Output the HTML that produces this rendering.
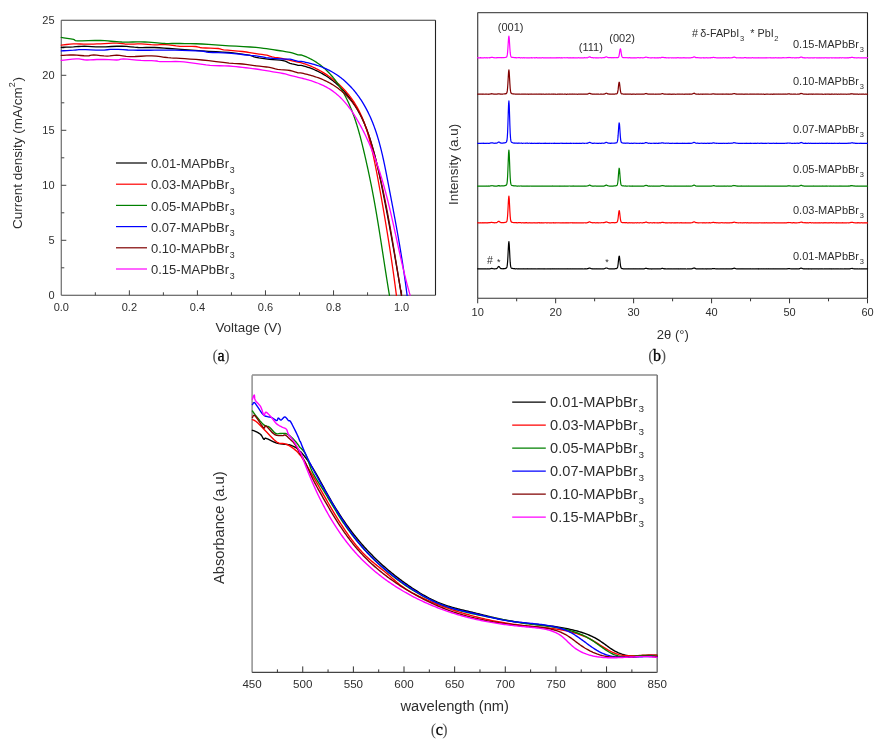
<!DOCTYPE html>
<html><head><meta charset="utf-8"><style>
html,body{margin:0;padding:0;background:#fff;width:889px;height:748px;overflow:hidden}
svg{display:block;will-change:transform}
</style></head><body>
<svg width="889" height="748" viewBox="0 0 889 748">
<rect width="889" height="748" fill="#fff"/>
<line x1="61.3" y1="20.2" x2="61.3" y2="295.3" stroke="#777" stroke-width="1.3"/>
<line x1="61.3" y1="295.3" x2="435.5" y2="295.3" stroke="#444" stroke-width="1.1"/>
<line x1="61.3" y1="20.2" x2="435.5" y2="20.2" stroke="#3a3a3a" stroke-width="1.1"/>
<line x1="435.5" y1="20.2" x2="435.5" y2="295.3" stroke="#222" stroke-width="1.1"/>
<text x="61.3" y="310.7" font-size="11" text-anchor="middle" fill="#2e2e2e" font-family="Liberation Sans, sans-serif" >0.0</text>
<line x1="95.33" y1="295.3" x2="95.33" y2="292.3" stroke="#444" stroke-width="1"/>
<line x1="129.36" y1="295.3" x2="129.36" y2="290.3" stroke="#444" stroke-width="1"/>
<text x="129.36" y="310.7" font-size="11" text-anchor="middle" fill="#2e2e2e" font-family="Liberation Sans, sans-serif" >0.2</text>
<line x1="163.39" y1="295.3" x2="163.39" y2="292.3" stroke="#444" stroke-width="1"/>
<line x1="197.42" y1="295.3" x2="197.42" y2="290.3" stroke="#444" stroke-width="1"/>
<text x="197.42" y="310.7" font-size="11" text-anchor="middle" fill="#2e2e2e" font-family="Liberation Sans, sans-serif" >0.4</text>
<line x1="231.45" y1="295.3" x2="231.45" y2="292.3" stroke="#444" stroke-width="1"/>
<line x1="265.48" y1="295.3" x2="265.48" y2="290.3" stroke="#444" stroke-width="1"/>
<text x="265.48" y="310.7" font-size="11" text-anchor="middle" fill="#2e2e2e" font-family="Liberation Sans, sans-serif" >0.6</text>
<line x1="299.51" y1="295.3" x2="299.51" y2="292.3" stroke="#444" stroke-width="1"/>
<line x1="333.54" y1="295.3" x2="333.54" y2="290.3" stroke="#444" stroke-width="1"/>
<text x="333.54" y="310.7" font-size="11" text-anchor="middle" fill="#2e2e2e" font-family="Liberation Sans, sans-serif" >0.8</text>
<line x1="367.57" y1="295.3" x2="367.57" y2="292.3" stroke="#444" stroke-width="1"/>
<line x1="401.6" y1="295.3" x2="401.6" y2="290.3" stroke="#444" stroke-width="1"/>
<text x="401.6" y="310.7" font-size="11" text-anchor="middle" fill="#2e2e2e" font-family="Liberation Sans, sans-serif" >1.0</text>
<text x="54.6" y="299.3" font-size="11" text-anchor="end" fill="#2e2e2e" font-family="Liberation Sans, sans-serif" >0</text>
<line x1="61.3" y1="267.8" x2="64.3" y2="267.8" stroke="#444" stroke-width="1"/>
<line x1="61.3" y1="240.3" x2="66.3" y2="240.3" stroke="#444" stroke-width="1"/>
<text x="54.6" y="244.3" font-size="11" text-anchor="end" fill="#2e2e2e" font-family="Liberation Sans, sans-serif" >5</text>
<line x1="61.3" y1="212.8" x2="64.3" y2="212.8" stroke="#444" stroke-width="1"/>
<line x1="61.3" y1="185.3" x2="66.3" y2="185.3" stroke="#444" stroke-width="1"/>
<text x="54.6" y="189.3" font-size="11" text-anchor="end" fill="#2e2e2e" font-family="Liberation Sans, sans-serif" >10</text>
<line x1="61.3" y1="157.8" x2="64.3" y2="157.8" stroke="#444" stroke-width="1"/>
<line x1="61.3" y1="130.3" x2="66.3" y2="130.3" stroke="#444" stroke-width="1"/>
<text x="54.6" y="134.3" font-size="11" text-anchor="end" fill="#2e2e2e" font-family="Liberation Sans, sans-serif" >15</text>
<line x1="61.3" y1="102.8" x2="64.3" y2="102.8" stroke="#444" stroke-width="1"/>
<line x1="61.3" y1="75.3" x2="66.3" y2="75.3" stroke="#444" stroke-width="1"/>
<text x="54.6" y="79.3" font-size="11" text-anchor="end" fill="#2e2e2e" font-family="Liberation Sans, sans-serif" >20</text>
<line x1="61.3" y1="47.8" x2="64.3" y2="47.8" stroke="#444" stroke-width="1"/>
<text x="54.6" y="24.3" font-size="11" text-anchor="end" fill="#2e2e2e" font-family="Liberation Sans, sans-serif" >25</text>
<text x="248.5" y="331.7" font-size="13.4" text-anchor="middle" fill="#2e2e2e" font-family="Liberation Sans, sans-serif" >Voltage (V)</text>
<text transform="translate(21.9,153) rotate(-90)" font-size="13.5" text-anchor="middle" fill="#2e2e2e" font-family="Liberation Sans, sans-serif">Current density (mA/cm<tspan font-size="9" dy="-6.5">2</tspan><tspan dy="6.5" dx="0.8">)</tspan></text>
<text x="220.9" y="360.9" font-size="16" text-anchor="middle" fill="#555" font-family="Liberation Serif, serif" letter-spacing="-0.4">(<tspan fill="#000" stroke="#000" stroke-width="0.35">a</tspan>)</text>
<path d="M61.3 47.3 L63.52 47.24 L66.72 47.14 L70.26 47.03 L73.5 46.9 L76.17 46.71 L78.65 46.48 L81.25 46.28 L84.3 46.2 L87.84 46.31 L91.72 46.55 L95.94 46.79 L100.5 46.9 L105.65 46.78 L111.3 46.51 L116.95 46.27 L122.1 46.2 L126.53 46.41 L130.54 46.81 L134.38 47.22 L138.3 47.5 L142.25 47.56 L146.13 47.49 L150.15 47.43 L154.5 47.5 L159.17 47.74 L164.07 48.08 L169.32 48.48 L175 48.9 L181.29 49.37 L188.09 49.89 L195.1 50.41 L202 50.9 L208.91 51.3 L215.92 51.66 L222.73 52.03 L229 52.5 L234.84 53.11 L240.36 53.82 L245.25 54.54 L249.2 55.2 L251.69 55.77 L253.02 56.29 L254.14 56.8 L256 57.3 L258.9 57.82 L262.33 58.35 L265.97 58.85 L269.5 59.3 L273.03 59.64 L276.66 59.91 L280.08 60.19 L283 60.6 L285.18 61.19 L286.84 61.91 L288.33 62.64 L290 63.3 L292.12 63.9 L294.44 64.47 L296.54 64.96 L298 65.3 L301.04 65.38 L302.44 65.71 L303.82 66.07 L305.19 66.45 L306.55 66.86 L307.89 67.29 L309.23 67.74 L310.55 68.21 L311.86 68.71 L313.16 69.22 L314.44 69.76 L315.71 70.33 L316.97 70.91 L318.22 71.51 L319.46 72.13 L320.68 72.78 L321.89 73.44 L323.08 74.12 L324.27 74.82 L325.44 75.54 L326.6 76.28 L327.74 77.04 L328.88 77.82 L330 78.61 L331.1 79.42 L332.2 80.25 L333.28 81.1 L334.34 81.96 L335.4 82.84 L336.43 83.73 L337.46 84.64 L338.47 85.57 L339.47 86.51 L340.46 87.47 L341.43 88.44 L342.39 89.42 L343.33 90.42 L344.26 91.43 L345.18 92.46 L346.08 93.49 L346.97 94.54 L347.84 95.61 L348.7 96.68 L349.55 97.77 L350.38 98.87 L351.19 99.98 L352 101.1 L352.78 102.23 L353.56 103.38 L354.32 104.53 L355.06 105.69 L355.79 106.86 L356.5 108.04 L357.2 109.23 L357.89 110.43 L358.56 111.64 L359.22 112.85 L359.86 114.07 L360.49 115.31 L361.11 116.54 L361.72 117.79 L362.31 119.04 L362.89 120.3 L363.46 121.57 L364.02 122.84 L364.56 124.12 L365.1 125.4 L365.62 126.69 L366.14 127.98 L366.64 129.28 L367.13 130.59 L367.62 131.9 L368.09 133.21 L368.56 134.53 L369.01 135.85 L369.46 137.18 L369.9 138.51 L370.33 139.84 L370.75 141.17 L371.17 142.51 L371.57 143.85 L371.97 145.19 L372.37 146.54 L372.76 147.88 L373.14 149.23 L373.51 150.58 L373.88 151.93 L374.24 153.28 L374.6 154.64 L374.95 155.99 L375.3 157.35 L375.64 158.7 L375.98 160.06 L376.31 161.42 L376.64 162.78 L376.96 164.14 L377.28 165.5 L377.59 166.86 L377.91 168.22 L378.21 169.59 L378.52 170.95 L378.82 172.31 L379.12 173.68 L379.41 175.04 L379.7 176.41 L379.99 177.77 L380.28 179.14 L380.57 180.5 L380.85 181.87 L381.13 183.23 L381.41 184.6 L381.69 185.96 L381.97 187.33 L382.24 188.69 L382.52 190.06 L382.79 191.42 L383.07 192.78 L383.34 194.15 L383.61 195.51 L383.88 196.87 L384.15 198.23 L384.42 199.6 L384.68 200.96 L384.95 202.32 L385.22 203.68 L385.48 205.04 L385.75 206.4 L386.01 207.77 L386.27 209.13 L386.53 210.49 L386.79 211.85 L387.05 213.21 L387.31 214.57 L387.57 215.93 L387.82 217.29 L388.08 218.65 L388.33 220.02 L388.59 221.38 L388.84 222.74 L389.1 224.1 L389.35 225.46 L389.6 226.82 L389.85 228.18 L390.1 229.54 L390.35 230.91 L390.6 232.27 L390.84 233.63 L391.09 234.99 L391.34 236.35 L391.58 237.72 L391.83 239.08 L392.07 240.44 L392.32 241.8 L392.56 243.17 L392.8 244.53 L393.04 245.9 L393.28 247.26 L393.52 248.63 L393.76 249.99 L394 251.36 L394.24 252.72 L394.48 254.09 L394.72 255.45 L394.96 256.82 L395.19 258.19 L395.43 259.56 L395.66 260.92 L395.9 262.29 L396.13 263.66 L396.37 265.03 L396.6 266.4 L396.84 267.77 L397.07 269.14 L397.3 270.51 L397.53 271.89 L397.76 273.26 L398 274.63 L398.23 276.01 L398.46 277.38 L398.69 278.76 L398.92 280.13 L399.15 281.51 L399.38 282.89 L399.6 284.27 L399.83 285.65 L400.06 287.02 L400.29 288.4 L400.52 289.79 L400.74 291.17 L400.97 292.55 L401.2 293.93 L401.42 295.32" fill="none" stroke="#000000" stroke-width="1.3" stroke-linejoin="round" stroke-linecap="round" />
<path d="M61.3 45.1 L63.46 44.85 L66.56 44.48 L70.07 44.12 L73.5 43.9 L76.78 43.89 L80.17 44 L83.59 44.14 L87 44.2 L90.31 44.16 L93.58 44.06 L96.94 43.94 L100.5 43.8 L104.49 43.6 L108.77 43.36 L112.97 43.16 L116.7 43.1 L119.72 43.28 L122.27 43.62 L124.74 43.98 L127.5 44.2 L130.69 44.2 L134.08 44.06 L137.56 43.92 L141 43.9 L144.44 44.07 L147.92 44.34 L151.31 44.62 L154.5 44.8 L157.3 44.78 L159.82 44.65 L162.39 44.54 L165.3 44.6 L168.69 44.93 L172.38 45.43 L176.2 45.94 L180 46.3 L183.96 46.43 L188.09 46.42 L191.98 46.41 L195.2 46.5 L197.27 46.76 L198.54 47.12 L199.84 47.49 L202 47.8 L205.64 48 L210.19 48.15 L214.69 48.3 L218.2 48.5 L219.99 48.77 L220.73 49.09 L221.55 49.43 L223.6 49.8 L227.5 50.19 L232.54 50.6 L237.84 51.04 L242.5 51.5 L246.32 52.01 L249.76 52.56 L252.94 53.1 L256 53.6 L259.02 54.03 L261.91 54.43 L264.54 54.8 L266.8 55.2 L268.4 55.62 L269.5 56.04 L270.6 56.47 L272.2 56.9 L274.61 57.32 L277.5 57.74 L280.44 58.17 L283 58.6 L284.99 59.05 L286.68 59.5 L288.27 59.95 L290 60.4 L292.12 60.87 L294.44 61.36 L296.54 61.8 L298 62.1 L300.88 62.72 L302.21 63.11 L303.54 63.53 L304.86 63.96 L306.18 64.42 L307.49 64.9 L308.79 65.4 L310.09 65.91 L311.38 66.45 L312.66 67.01 L313.93 67.59 L315.19 68.18 L316.45 68.8 L317.7 69.43 L318.93 70.08 L320.16 70.76 L321.38 71.44 L322.59 72.15 L323.79 72.88 L324.98 73.62 L326.16 74.38 L327.32 75.16 L328.48 75.95 L329.62 76.76 L330.75 77.58 L331.88 78.43 L332.98 79.29 L334.08 80.16 L335.16 81.05 L336.23 81.95 L337.29 82.87 L338.33 83.81 L339.36 84.76 L340.38 85.72 L341.38 86.7 L342.37 87.69 L343.34 88.69 L344.3 89.71 L345.24 90.74 L346.16 91.78 L347.07 92.84 L347.97 93.91 L348.84 94.99 L349.7 96.09 L350.55 97.19 L351.38 98.31 L352.18 99.44 L352.98 100.58 L353.75 101.73 L354.51 102.89 L355.24 104.06 L355.96 105.24 L356.66 106.43 L357.34 107.63 L358 108.84 L358.65 110.06 L359.27 111.29 L359.88 112.53 L360.47 113.78 L361.05 115.03 L361.61 116.29 L362.16 117.56 L362.69 118.84 L363.2 120.12 L363.71 121.41 L364.2 122.7 L364.67 124.01 L365.14 125.31 L365.59 126.63 L366.03 127.95 L366.46 129.27 L366.88 130.6 L367.29 131.93 L367.69 133.27 L368.08 134.61 L368.46 135.95 L368.83 137.3 L369.2 138.64 L369.56 140 L369.91 141.35 L370.25 142.71 L370.59 144.07 L370.92 145.43 L371.25 146.79 L371.57 148.15 L371.89 149.51 L372.21 150.88 L372.52 152.24 L372.82 153.61 L373.13 154.97 L373.42 156.34 L373.72 157.71 L374.01 159.07 L374.3 160.44 L374.58 161.81 L374.86 163.18 L375.14 164.55 L375.42 165.92 L375.69 167.29 L375.96 168.67 L376.23 170.04 L376.5 171.41 L376.76 172.78 L377.02 174.16 L377.28 175.53 L377.54 176.9 L377.79 178.27 L378.05 179.65 L378.3 181.02 L378.55 182.39 L378.8 183.77 L379.05 185.14 L379.3 186.51 L379.55 187.89 L379.8 189.26 L380.05 190.63 L380.29 192.01 L380.54 193.38 L380.78 194.75 L381.03 196.12 L381.27 197.5 L381.52 198.87 L381.76 200.24 L382 201.61 L382.24 202.99 L382.48 204.36 L382.72 205.73 L382.96 207.1 L383.2 208.47 L383.44 209.85 L383.67 211.22 L383.91 212.59 L384.14 213.96 L384.38 215.33 L384.61 216.71 L384.85 218.08 L385.08 219.45 L385.31 220.82 L385.54 222.2 L385.77 223.57 L386 224.94 L386.23 226.31 L386.45 227.69 L386.68 229.06 L386.91 230.43 L387.13 231.81 L387.36 233.18 L387.58 234.55 L387.8 235.93 L388.02 237.3 L388.24 238.68 L388.46 240.05 L388.68 241.43 L388.9 242.8 L389.11 244.18 L389.33 245.55 L389.54 246.93 L389.76 248.31 L389.97 249.68 L390.18 251.06 L390.39 252.44 L390.6 253.81 L390.81 255.19 L391.02 256.57 L391.23 257.95 L391.43 259.33 L391.64 260.71 L391.84 262.08 L392.04 263.46 L392.25 264.84 L392.45 266.23 L392.65 267.61 L392.85 268.99 L393.04 270.37 L393.24 271.75 L393.43 273.14 L393.63 274.52 L393.82 275.9 L394.01 277.29 L394.2 278.67 L394.39 280.06 L394.58 281.44 L394.77 282.83 L394.95 284.22 L395.14 285.6 L395.32 286.99 L395.51 288.38 L395.69 289.77 L395.87 291.16 L396.05 292.55 L396.22 293.94 L396.4 295.33" fill="none" stroke="#ff0000" stroke-width="1.3" stroke-linejoin="round" stroke-linecap="round" />
<path d="M61.3 37.4 L63.68 37.77 L67.15 38.31 L70.74 38.9 L73.5 39.4 L74.63 39.83 L74.83 40.24 L75.36 40.58 L77.5 40.8 L82.14 40.81 L88.41 40.67 L94.97 40.52 L100.5 40.5 L104.61 40.67 L108.01 40.94 L111.04 41.25 L114 41.5 L116.76 41.7 L119.23 41.88 L121.78 42.02 L124.8 42.1 L128.53 42.09 L132.73 41.99 L137.01 41.91 L141 41.9 L144.63 42.01 L148.09 42.18 L151.38 42.39 L154.5 42.6 L157.3 42.83 L159.82 43.09 L162.39 43.33 L165.3 43.5 L168.53 43.55 L171.95 43.52 L175.72 43.49 L180 43.5 L184.87 43.56 L190.23 43.64 L195.98 43.77 L202 44 L208.4 44.36 L215.19 44.83 L222.13 45.33 L229 45.8 L236.07 46.21 L243.34 46.6 L250.2 46.99 L256 47.4 L260.32 47.83 L263.59 48.27 L266.44 48.73 L269.5 49.2 L273.03 49.7 L276.66 50.24 L280.08 50.75 L283 51.2 L285.18 51.53 L286.84 51.77 L288.33 52.03 L290 52.4 L292.12 52.97 L294.44 53.67 L296.54 54.34 L298 54.8 L301.11 54.98 L302.46 55.43 L303.8 55.91 L305.12 56.42 L306.42 56.95 L307.71 57.51 L308.98 58.1 L310.23 58.72 L311.46 59.36 L312.68 60.03 L313.87 60.72 L315.06 61.43 L316.22 62.17 L317.36 62.93 L318.49 63.72 L319.61 64.52 L320.7 65.35 L321.78 66.2 L322.84 67.07 L323.88 67.96 L324.91 68.86 L325.92 69.79 L326.91 70.74 L327.89 71.7 L328.85 72.68 L329.79 73.67 L330.72 74.69 L331.63 75.72 L332.53 76.76 L333.41 77.82 L334.27 78.9 L335.12 79.98 L335.95 81.09 L336.77 82.2 L337.57 83.33 L338.36 84.47 L339.13 85.62 L339.89 86.79 L340.64 87.96 L341.37 89.15 L342.09 90.35 L342.79 91.55 L343.48 92.77 L344.16 94 L344.82 95.23 L345.47 96.47 L346.11 97.72 L346.73 98.98 L347.35 100.24 L347.95 101.51 L348.54 102.79 L349.11 104.07 L349.68 105.36 L350.23 106.65 L350.77 107.95 L351.31 109.25 L351.83 110.56 L352.34 111.87 L352.84 113.18 L353.32 114.49 L353.8 115.81 L354.27 117.14 L354.73 118.46 L355.19 119.79 L355.63 121.12 L356.07 122.46 L356.49 123.79 L356.91 125.13 L357.32 126.47 L357.73 127.82 L358.12 129.16 L358.52 130.51 L358.9 131.86 L359.28 133.21 L359.65 134.57 L360.02 135.92 L360.38 137.28 L360.73 138.63 L361.09 139.99 L361.43 141.35 L361.78 142.71 L362.12 144.07 L362.45 145.44 L362.78 146.8 L363.11 148.16 L363.44 149.52 L363.76 150.89 L364.09 152.25 L364.41 153.61 L364.72 154.98 L365.04 156.34 L365.35 157.7 L365.67 159.07 L365.98 160.43 L366.28 161.79 L366.59 163.15 L366.89 164.52 L367.2 165.88 L367.5 167.24 L367.79 168.61 L368.09 169.97 L368.38 171.34 L368.67 172.7 L368.96 174.06 L369.25 175.43 L369.54 176.79 L369.82 178.16 L370.1 179.52 L370.38 180.89 L370.66 182.26 L370.93 183.62 L371.21 184.99 L371.48 186.36 L371.75 187.72 L372.02 189.09 L372.28 190.46 L372.54 191.83 L372.8 193.2 L373.06 194.57 L373.32 195.94 L373.57 197.31 L373.83 198.68 L374.08 200.06 L374.33 201.43 L374.57 202.8 L374.82 204.17 L375.06 205.55 L375.31 206.92 L375.55 208.3 L375.78 209.67 L376.02 211.05 L376.26 212.42 L376.49 213.8 L376.73 215.18 L376.96 216.55 L377.19 217.93 L377.42 219.31 L377.65 220.69 L377.87 222.06 L378.1 223.44 L378.32 224.82 L378.55 226.2 L378.77 227.58 L378.99 228.96 L379.21 230.34 L379.43 231.72 L379.65 233.1 L379.87 234.48 L380.09 235.86 L380.3 237.24 L380.52 238.63 L380.74 240.01 L380.95 241.39 L381.17 242.77 L381.38 244.15 L381.6 245.54 L381.81 246.92 L382.02 248.3 L382.24 249.68 L382.45 251.07 L382.66 252.45 L382.88 253.83 L383.09 255.22 L383.3 256.6 L383.51 257.98 L383.73 259.36 L383.94 260.75 L384.15 262.13 L384.37 263.52 L384.58 264.9 L384.79 266.28 L385.01 267.67 L385.22 269.05 L385.44 270.43 L385.65 271.82 L385.87 273.2 L386.09 274.58 L386.3 275.97 L386.52 277.35 L386.74 278.73 L386.96 280.12 L387.18 281.5 L387.4 282.88 L387.62 284.26 L387.85 285.65 L388.07 287.03 L388.3 288.41 L388.52 289.79 L388.75 291.18 L388.98 292.56 L389.21 293.94 L389.44 295.32" fill="none" stroke="#008000" stroke-width="1.3" stroke-linejoin="round" stroke-linecap="round" />
<path d="M61.3 50.9 L63.59 50.77 L66.89 50.59 L70.45 50.38 L73.5 50.2 L75.56 50.01 L77.13 49.82 L78.91 49.66 L81.6 49.6 L85.69 49.7 L90.71 49.92 L95.9 50.13 L100.5 50.2 L104.13 50.04 L107.25 49.73 L110.37 49.43 L114 49.3 L118.28 49.42 L122.94 49.69 L127.86 50 L132.9 50.2 L138.14 50.27 L143.6 50.26 L149.11 50.23 L154.5 50.2 L159.55 50.15 L164.41 50.08 L169.44 50.04 L175 50.1 L181.77 50.29 L189.36 50.58 L196.52 50.9 L202 51.2 L204.78 51.48 L205.77 51.76 L206.54 52.04 L208.7 52.3 L212.85 52.51 L218.09 52.69 L223.7 52.9 L229 53.2 L234.08 53.65 L239.21 54.21 L243.97 54.77 L247.9 55.2 L250.56 55.43 L252.29 55.54 L253.85 55.66 L256 55.9 L259 56.35 L262.41 56.93 L266 57.52 L269.5 58 L273.03 58.35 L276.66 58.62 L280.08 58.83 L283 59 L285.18 59.06 L286.84 59.03 L288.33 59.04 L290 59.2 L292.12 59.64 L294.44 60.26 L296.54 60.88 L298 61.3 L301.28 61.44 L302.72 61.7 L304.16 61.98 L305.59 62.28 L307.02 62.59 L308.45 62.92 L309.87 63.27 L311.28 63.63 L312.69 64.02 L314.09 64.42 L315.49 64.84 L316.87 65.28 L318.25 65.75 L319.62 66.23 L320.98 66.73 L322.33 67.25 L323.66 67.8 L324.99 68.36 L326.3 68.95 L327.6 69.56 L328.89 70.2 L330.17 70.85 L331.43 71.53 L332.67 72.23 L333.9 72.96 L335.12 73.71 L336.32 74.49 L337.5 75.28 L338.67 76.1 L339.82 76.95 L340.95 77.81 L342.07 78.7 L343.17 79.6 L344.26 80.53 L345.33 81.47 L346.38 82.44 L347.42 83.42 L348.44 84.42 L349.45 85.44 L350.44 86.47 L351.41 87.52 L352.37 88.59 L353.31 89.67 L354.23 90.76 L355.14 91.87 L356.03 93 L356.91 94.13 L357.77 95.28 L358.61 96.44 L359.44 97.61 L360.25 98.79 L361.04 99.98 L361.82 101.19 L362.58 102.4 L363.32 103.61 L364.05 104.84 L364.77 106.08 L365.46 107.32 L366.15 108.58 L366.81 109.84 L367.47 111.11 L368.11 112.38 L368.73 113.66 L369.34 114.95 L369.94 116.25 L370.53 117.56 L371.1 118.87 L371.66 120.19 L372.2 121.51 L372.74 122.84 L373.26 124.18 L373.77 125.52 L374.27 126.86 L374.76 128.22 L375.24 129.58 L375.71 130.94 L376.17 132.31 L376.61 133.68 L377.05 135.06 L377.48 136.44 L377.9 137.82 L378.31 139.21 L378.72 140.61 L379.11 142.01 L379.5 143.41 L379.87 144.81 L380.25 146.22 L380.61 147.63 L380.97 149.04 L381.32 150.46 L381.66 151.87 L382 153.29 L382.33 154.72 L382.66 156.14 L382.98 157.57 L383.3 158.99 L383.61 160.42 L383.92 161.85 L384.22 163.28 L384.52 164.71 L384.81 166.14 L385.11 167.58 L385.4 169.01 L385.68 170.44 L385.97 171.87 L386.25 173.31 L386.53 174.74 L386.8 176.17 L387.08 177.6 L387.36 179.03 L387.63 180.46 L387.9 181.88 L388.18 183.31 L388.45 184.73 L388.72 186.15 L389 187.57 L389.27 188.99 L389.54 190.41 L389.81 191.83 L390.08 193.24 L390.35 194.66 L390.62 196.07 L390.89 197.48 L391.16 198.89 L391.43 200.3 L391.7 201.71 L391.97 203.12 L392.24 204.52 L392.5 205.93 L392.77 207.34 L393.03 208.74 L393.3 210.15 L393.56 211.55 L393.82 212.95 L394.09 214.36 L394.35 215.76 L394.61 217.16 L394.87 218.56 L395.13 219.97 L395.39 221.37 L395.64 222.77 L395.9 224.17 L396.16 225.57 L396.41 226.98 L396.66 228.38 L396.92 229.78 L397.17 231.18 L397.42 232.58 L397.67 233.99 L397.92 235.39 L398.17 236.79 L398.41 238.2 L398.66 239.6 L398.9 241.01 L399.14 242.42 L399.39 243.82 L399.63 245.23 L399.87 246.64 L400.1 248.05 L400.34 249.46 L400.58 250.87 L400.81 252.28 L401.04 253.7 L401.27 255.11 L401.5 256.53 L401.73 257.94 L401.96 259.36 L402.19 260.78 L402.41 262.2 L402.63 263.63 L402.85 265.05 L403.07 266.48 L403.29 267.9 L403.51 269.33 L403.72 270.76 L403.93 272.2 L404.15 273.63 L404.35 275.07 L404.56 276.51 L404.77 277.95 L404.97 279.39 L405.18 280.83 L405.38 282.28 L405.58 283.73 L405.77 285.18 L405.97 286.64 L406.16 288.09 L406.35 289.55 L406.54 291.01 L406.73 292.48 L406.92 293.94 L407.1 295.41" fill="none" stroke="#0000ff" stroke-width="1.3" stroke-linejoin="round" stroke-linecap="round" />
<path d="M61.3 55.4 L63.46 55.3 L66.56 55.14 L70.07 55.02 L73.5 55 L76.94 55.18 L80.59 55.48 L84.07 55.77 L87 55.9 L88.99 55.75 L90.35 55.44 L91.71 55.13 L93.7 55 L96.69 55.18 L100.28 55.55 L103.95 55.92 L107.2 56.1 L109.76 55.96 L111.95 55.63 L114.14 55.31 L116.7 55.2 L119.6 55.44 L122.69 55.89 L126.16 56.34 L130.2 56.6 L135.16 56.51 L140.83 56.23 L146.59 55.95 L151.8 55.9 L156.33 56.2 L160.5 56.71 L164.37 57.27 L168 57.7 L171.06 57.93 L173.64 58.06 L176.4 58.19 L180 58.4 L184.68 58.7 L190.06 59.05 L195.91 59.47 L202 60 L208.71 60.72 L216.03 61.59 L223.08 62.44 L229 63.1 L233.32 63.46 L236.59 63.63 L239.44 63.76 L242.5 64 L245.88 64.39 L249.25 64.86 L252.62 65.34 L256 65.8 L259.5 66.2 L263.09 66.59 L266.5 66.98 L269.5 67.4 L271.8 67.89 L273.62 68.43 L275.4 68.95 L277.6 69.4 L280.5 69.71 L283.81 69.93 L287.11 70.15 L290 70.5 L292.5 71.06 L294.77 71.77 L296.67 72.44 L298 72.9 L300.62 72.89 L301.98 73.17 L303.34 73.46 L304.7 73.77 L306.05 74.09 L307.41 74.43 L308.75 74.78 L310.1 75.15 L311.44 75.54 L312.77 75.94 L314.09 76.35 L315.41 76.79 L316.72 77.24 L318.02 77.7 L319.32 78.19 L320.6 78.7 L321.88 79.22 L323.14 79.76 L324.39 80.32 L325.63 80.9 L326.86 81.5 L328.08 82.12 L329.28 82.75 L330.47 83.41 L331.64 84.09 L332.8 84.79 L333.95 85.51 L335.08 86.25 L336.19 87.01 L337.29 87.79 L338.37 88.59 L339.44 89.41 L340.49 90.24 L341.52 91.1 L342.54 91.97 L343.55 92.86 L344.53 93.77 L345.5 94.69 L346.46 95.63 L347.39 96.59 L348.31 97.57 L349.21 98.56 L350.1 99.57 L350.96 100.59 L351.81 101.63 L352.64 102.68 L353.45 103.75 L354.25 104.84 L355.03 105.93 L355.78 107.05 L356.52 108.17 L357.24 109.32 L357.94 110.47 L358.63 111.64 L359.3 112.81 L359.95 114 L360.58 115.21 L361.2 116.42 L361.8 117.64 L362.39 118.88 L362.97 120.12 L363.53 121.37 L364.07 122.63 L364.61 123.9 L365.13 125.18 L365.64 126.46 L366.14 127.75 L366.62 129.05 L367.1 130.35 L367.56 131.66 L368.02 132.97 L368.47 134.29 L368.91 135.61 L369.34 136.94 L369.76 138.26 L370.17 139.59 L370.58 140.93 L370.99 142.26 L371.38 143.6 L371.77 144.93 L372.16 146.27 L372.54 147.61 L372.92 148.95 L373.29 150.28 L373.66 151.62 L374.03 152.95 L374.39 154.29 L374.75 155.62 L375.1 156.95 L375.45 158.29 L375.8 159.62 L376.15 160.95 L376.49 162.28 L376.83 163.61 L377.16 164.94 L377.49 166.28 L377.82 167.61 L378.15 168.94 L378.47 170.27 L378.79 171.6 L379.1 172.93 L379.42 174.26 L379.73 175.59 L380.04 176.92 L380.34 178.25 L380.65 179.59 L380.95 180.92 L381.24 182.25 L381.54 183.58 L381.83 184.91 L382.12 186.25 L382.41 187.58 L382.7 188.91 L382.98 190.25 L383.26 191.58 L383.54 192.92 L383.82 194.25 L384.1 195.59 L384.37 196.93 L384.64 198.26 L384.91 199.6 L385.18 200.94 L385.45 202.27 L385.71 203.61 L385.97 204.95 L386.24 206.29 L386.49 207.63 L386.75 208.97 L387.01 210.31 L387.26 211.65 L387.52 212.99 L387.77 214.33 L388.02 215.67 L388.27 217.02 L388.51 218.36 L388.76 219.7 L389 221.04 L389.25 222.39 L389.49 223.73 L389.73 225.08 L389.97 226.42 L390.21 227.76 L390.45 229.11 L390.68 230.45 L390.92 231.8 L391.15 233.15 L391.39 234.49 L391.62 235.84 L391.85 237.19 L392.09 238.53 L392.32 239.88 L392.55 241.23 L392.77 242.58 L393 243.92 L393.23 245.27 L393.46 246.62 L393.69 247.97 L393.91 249.32 L394.14 250.67 L394.36 252.02 L394.59 253.37 L394.81 254.72 L395.04 256.07 L395.26 257.42 L395.48 258.77 L395.71 260.12 L395.93 261.48 L396.16 262.83 L396.38 264.18 L396.6 265.53 L396.83 266.88 L397.05 268.24 L397.27 269.59 L397.5 270.94 L397.72 272.3 L397.94 273.65 L398.17 275 L398.39 276.36 L398.62 277.71 L398.84 279.06 L399.07 280.42 L399.29 281.77 L399.52 283.13 L399.75 284.48 L399.97 285.84 L400.2 287.19 L400.43 288.55 L400.66 289.9 L400.89 291.26 L401.12 292.61 L401.35 293.97 L401.58 295.33" fill="none" stroke="#800000" stroke-width="1.3" stroke-linejoin="round" stroke-linecap="round" />
<path d="M61.3 60.4 L64.07 60.05 L68.08 59.52 L72.41 59.04 L76.2 58.8 L79.12 58.95 L81.69 59.34 L84.21 59.76 L87 60 L90.12 59.95 L93.41 59.74 L96.87 59.51 L100.5 59.4 L104.58 59.5 L109.02 59.72 L113.25 59.93 L116.7 60 L118.79 59.81 L119.96 59.45 L121.18 59.12 L123.4 59 L127.13 59.2 L131.77 59.61 L136.63 60.06 L141 60.4 L144.79 60.56 L148.34 60.63 L151.6 60.69 L154.5 60.8 L156.69 61.01 L158.31 61.28 L160.05 61.53 L162.6 61.7 L166.35 61.7 L170.86 61.6 L175.59 61.52 L180 61.6 L183.96 61.89 L187.76 62.31 L191.47 62.8 L195.2 63.3 L198.85 63.83 L202.42 64.42 L206.1 64.97 L210.1 65.4 L214.67 65.64 L219.64 65.74 L224.56 65.83 L229 66 L232.75 66.29 L236.09 66.64 L239.25 67.02 L242.5 67.4 L245.88 67.77 L249.25 68.15 L252.62 68.55 L256 69 L259.38 69.51 L262.75 70.06 L266.12 70.63 L269.5 71.2 L273.03 71.78 L276.66 72.38 L280.08 72.96 L283 73.5 L285.18 73.98 L286.84 74.42 L288.33 74.85 L290 75.3 L292.12 75.83 L294.44 76.41 L296.54 76.94 L298 77.3 L300.35 77.84 L301.68 78.17 L303.01 78.5 L304.34 78.84 L305.67 79.2 L307 79.56 L308.32 79.94 L309.64 80.34 L310.96 80.74 L312.27 81.16 L313.57 81.6 L314.87 82.05 L316.16 82.52 L317.44 83 L318.71 83.51 L319.96 84.03 L321.21 84.57 L322.44 85.12 L323.66 85.7 L324.87 86.3 L326.06 86.92 L327.24 87.57 L328.39 88.23 L329.53 88.92 L330.66 89.63 L331.76 90.37 L332.84 91.13 L333.91 91.91 L334.95 92.71 L335.98 93.54 L336.99 94.39 L337.99 95.25 L338.97 96.14 L339.93 97.04 L340.87 97.97 L341.8 98.91 L342.72 99.86 L343.62 100.84 L344.5 101.83 L345.37 102.83 L346.23 103.85 L347.07 104.89 L347.9 105.94 L348.71 107 L349.52 108.07 L350.31 109.15 L351.08 110.25 L351.85 111.35 L352.6 112.47 L353.35 113.59 L354.08 114.72 L354.8 115.86 L355.52 117.01 L356.22 118.17 L356.91 119.33 L357.59 120.49 L358.27 121.66 L358.93 122.84 L359.59 124.02 L360.24 125.2 L360.88 126.38 L361.52 127.57 L362.14 128.76 L362.76 129.96 L363.37 131.16 L363.98 132.36 L364.57 133.56 L365.16 134.77 L365.74 135.98 L366.32 137.2 L366.88 138.41 L367.44 139.63 L368 140.86 L368.54 142.08 L369.08 143.31 L369.61 144.54 L370.14 145.78 L370.66 147.01 L371.17 148.25 L371.68 149.49 L372.18 150.74 L372.68 151.99 L373.17 153.24 L373.65 154.49 L374.13 155.74 L374.6 157 L375.06 158.26 L375.52 159.52 L375.98 160.78 L376.43 162.05 L376.87 163.32 L377.31 164.59 L377.74 165.86 L378.17 167.13 L378.59 168.41 L379.01 169.69 L379.43 170.97 L379.84 172.25 L380.24 173.53 L380.64 174.82 L381.04 176.11 L381.43 177.4 L381.81 178.69 L382.2 179.98 L382.58 181.27 L382.95 182.57 L383.32 183.86 L383.69 185.16 L384.05 186.46 L384.41 187.76 L384.77 189.07 L385.12 190.37 L385.47 191.67 L385.82 192.98 L386.16 194.29 L386.5 195.6 L386.84 196.9 L387.17 198.22 L387.5 199.53 L387.83 200.84 L388.16 202.15 L388.48 203.47 L388.8 204.78 L389.12 206.1 L389.44 207.41 L389.75 208.73 L390.06 210.05 L390.37 211.37 L390.68 212.69 L390.99 214 L391.29 215.32 L391.59 216.65 L391.89 217.97 L392.19 219.29 L392.49 220.61 L392.79 221.93 L393.09 223.25 L393.38 224.57 L393.67 225.9 L393.97 227.22 L394.26 228.54 L394.55 229.86 L394.84 231.19 L395.13 232.51 L395.42 233.83 L395.71 235.15 L396 236.48 L396.28 237.8 L396.57 239.12 L396.86 240.44 L397.15 241.76 L397.44 243.08 L397.73 244.4 L398.01 245.72 L398.3 247.04 L398.59 248.36 L398.88 249.68 L399.17 250.99 L399.47 252.31 L399.76 253.63 L400.05 254.94 L400.35 256.26 L400.64 257.57 L400.94 258.88 L401.24 260.19 L401.53 261.51 L401.83 262.82 L402.14 264.12 L402.44 265.43 L402.75 266.74 L403.05 268.04 L403.36 269.35 L403.67 270.65 L403.99 271.95 L404.3 273.25 L404.62 274.55 L404.94 275.85 L405.26 277.14 L405.59 278.44 L405.92 279.73 L406.25 281.02 L406.58 282.31 L406.92 283.6 L407.25 284.88 L407.6 286.17 L407.94 287.45 L408.29 288.73 L408.64 290.01 L409 291.29 L409.36 292.56 L409.72 293.84 L410.08 295.11" fill="none" stroke="#ff00ff" stroke-width="1.3" stroke-linejoin="round" stroke-linecap="round" />
<line x1="116" y1="163" x2="147" y2="163" stroke="#000000" stroke-width="1.2"/>
<text x="151" y="168.2" font-size="13" text-anchor="start" fill="#2e2e2e" font-family="Liberation Sans, sans-serif" >0.01-MAPbBr<tspan font-size="8.84" dy="4.68" dx="0.78">3</tspan></text>
<line x1="116" y1="184.2" x2="147" y2="184.2" stroke="#ff0000" stroke-width="1.2"/>
<text x="151" y="189.4" font-size="13" text-anchor="start" fill="#2e2e2e" font-family="Liberation Sans, sans-serif" >0.03-MAPbBr<tspan font-size="8.84" dy="4.68" dx="0.78">3</tspan></text>
<line x1="116" y1="205.4" x2="147" y2="205.4" stroke="#008000" stroke-width="1.2"/>
<text x="151" y="210.6" font-size="13" text-anchor="start" fill="#2e2e2e" font-family="Liberation Sans, sans-serif" >0.05-MAPbBr<tspan font-size="8.84" dy="4.68" dx="0.78">3</tspan></text>
<line x1="116" y1="226.6" x2="147" y2="226.6" stroke="#0000ff" stroke-width="1.2"/>
<text x="151" y="231.8" font-size="13" text-anchor="start" fill="#2e2e2e" font-family="Liberation Sans, sans-serif" >0.07-MAPbBr<tspan font-size="8.84" dy="4.68" dx="0.78">3</tspan></text>
<line x1="116" y1="247.8" x2="147" y2="247.8" stroke="#800000" stroke-width="1.2"/>
<text x="151" y="253" font-size="13" text-anchor="start" fill="#2e2e2e" font-family="Liberation Sans, sans-serif" >0.10-MAPbBr<tspan font-size="8.84" dy="4.68" dx="0.78">3</tspan></text>
<line x1="116" y1="269" x2="147" y2="269" stroke="#ff00ff" stroke-width="1.2"/>
<text x="151" y="274.2" font-size="13" text-anchor="start" fill="#2e2e2e" font-family="Liberation Sans, sans-serif" >0.15-MAPbBr<tspan font-size="8.84" dy="4.68" dx="0.78">3</tspan></text>
<line x1="477.7" y1="12.6" x2="477.7" y2="298.3" stroke="#444" stroke-width="1.2"/>
<line x1="477.7" y1="12.6" x2="867.5" y2="12.6" stroke="#555" stroke-width="1.2"/>
<line x1="867.5" y1="12.6" x2="867.5" y2="298.3" stroke="#222" stroke-width="1.1"/>
<line x1="477.7" y1="298.3" x2="867.5" y2="298.3" stroke="#333" stroke-width="1.1"/>
<line x1="477.7" y1="298.3" x2="477.7" y2="303.3" stroke="#333" stroke-width="1"/>
<text x="477.7" y="316.2" font-size="11" text-anchor="middle" fill="#2e2e2e" font-family="Liberation Sans, sans-serif" >10</text>
<line x1="516.68" y1="298.3" x2="516.68" y2="301.3" stroke="#333" stroke-width="1"/>
<line x1="555.66" y1="298.3" x2="555.66" y2="303.3" stroke="#333" stroke-width="1"/>
<text x="555.66" y="316.2" font-size="11" text-anchor="middle" fill="#2e2e2e" font-family="Liberation Sans, sans-serif" >20</text>
<line x1="594.64" y1="298.3" x2="594.64" y2="301.3" stroke="#333" stroke-width="1"/>
<line x1="633.62" y1="298.3" x2="633.62" y2="303.3" stroke="#333" stroke-width="1"/>
<text x="633.62" y="316.2" font-size="11" text-anchor="middle" fill="#2e2e2e" font-family="Liberation Sans, sans-serif" >30</text>
<line x1="672.6" y1="298.3" x2="672.6" y2="301.3" stroke="#333" stroke-width="1"/>
<line x1="711.58" y1="298.3" x2="711.58" y2="303.3" stroke="#333" stroke-width="1"/>
<text x="711.58" y="316.2" font-size="11" text-anchor="middle" fill="#2e2e2e" font-family="Liberation Sans, sans-serif" >40</text>
<line x1="750.56" y1="298.3" x2="750.56" y2="301.3" stroke="#333" stroke-width="1"/>
<line x1="789.54" y1="298.3" x2="789.54" y2="303.3" stroke="#333" stroke-width="1"/>
<text x="789.54" y="316.2" font-size="11" text-anchor="middle" fill="#2e2e2e" font-family="Liberation Sans, sans-serif" >50</text>
<line x1="828.52" y1="298.3" x2="828.52" y2="301.3" stroke="#333" stroke-width="1"/>
<line x1="867.5" y1="298.3" x2="867.5" y2="303.3" stroke="#333" stroke-width="1"/>
<text x="867.5" y="316.2" font-size="11" text-anchor="middle" fill="#2e2e2e" font-family="Liberation Sans, sans-serif" >60</text>
<text x="672.8" y="339" font-size="13" text-anchor="middle" fill="#2e2e2e" font-family="Liberation Sans, sans-serif" >2θ (°)</text>
<text transform="translate(458.4,164.4) rotate(-90)" font-size="13.4" text-anchor="middle" fill="#2e2e2e" font-family="Liberation Sans, sans-serif">Intensity (a.u)</text>
<text x="656.9" y="360.8" font-size="16" text-anchor="middle" fill="#555" font-family="Liberation Serif, serif" letter-spacing="-0.4">(<tspan fill="#000" stroke="#000" stroke-width="0.35">b</tspan>)</text>
<path d="M477.7 57.67 L478.03 57.95 L478.35 57.77 L478.68 57.83 L479 57.82 L479.33 57.81 L479.65 57.91 L479.98 57.81 L480.3 57.84 L480.63 57.59 L480.95 57.78 L481.28 57.81 L481.6 57.81 L481.93 57.83 L482.25 57.85 L482.58 57.81 L482.9 57.76 L483.23 57.8 L483.55 57.73 L483.88 57.8 L484.2 57.79 L484.53 57.7 L484.85 57.76 L485.18 57.82 L485.5 57.8 L485.83 57.75 L486.15 57.67 L486.48 57.8 L486.8 57.8 L487.13 57.72 L487.45 57.83 L487.78 57.8 L488.1 57.73 L488.43 57.74 L488.75 57.76 L489.08 57.72 L489.4 57.91 L489.73 57.65 L490.05 57.73 L490.38 57.71 L490.7 57.52 L491.03 57.42 L491.35 57.44 L491.68 57.45 L492 57.39 L492.33 57.45 L492.65 57.43 L492.98 57.54 L493.31 57.63 L493.63 57.63 L493.96 57.74 L494.28 57.8 L494.61 57.72 L494.93 57.72 L495.26 57.77 L495.58 57.8 L495.91 57.74 L496.23 57.9 L496.56 57.7 L496.88 57.69 L497.21 57.79 L497.53 57.65 L497.86 57.66 L498.18 57.51 L498.51 57.64 L498.83 57.57 L499.16 57.49 L499.48 57.5 L499.81 57.74 L500.13 57.68 L500.46 57.66 L500.78 57.73 L501.11 57.61 L501.43 57.78 L501.76 57.68 L502.08 57.76 L502.41 57.6 L502.73 57.68 L503.06 57.69 L503.38 57.75 L503.71 57.53 L504.03 57.57 L504.36 57.54 L504.68 57.49 L505.01 57.5 L505.33 57.51 L505.66 57.46 L505.98 57.37 L506.31 57.11 L506.63 57 L506.96 56.32 L507.28 54.89 L507.61 52.1 L507.93 47.72 L508.26 42.47 L508.58 37.93 L508.91 36.21 L509.24 38.34 L509.56 43.21 L509.89 48.53 L510.21 52.69 L510.54 55.15 L510.86 56.44 L511.19 56.92 L511.51 57.26 L511.84 57.33 L512.16 57.43 L512.49 57.45 L512.81 57.52 L513.14 57.41 L513.46 57.51 L513.79 57.53 L514.11 57.76 L514.44 57.68 L514.76 57.71 L515.09 57.65 L515.41 57.83 L515.74 57.63 L516.06 57.65 L516.39 57.8 L516.71 57.79 L517.04 57.78 L517.36 57.73 L517.69 57.7 L518.01 57.62 L518.34 57.76 L518.66 57.71 L518.99 57.75 L519.31 57.65 L519.64 57.72 L519.96 57.68 L520.29 57.83 L520.61 57.78 L520.94 57.82 L521.26 57.68 L521.59 57.73 L521.91 57.79 L522.24 57.8 L522.56 57.75 L522.89 57.82 L523.21 57.83 L523.54 57.75 L523.86 57.63 L524.19 57.79 L524.52 57.81 L524.84 57.85 L525.17 57.86 L525.49 57.75 L525.82 57.73 L526.14 57.78 L526.47 57.76 L526.79 57.78 L527.12 57.78 L527.44 57.88 L527.77 57.81 L528.09 57.78 L528.42 57.83 L528.74 57.82 L529.07 57.84 L529.39 57.81 L529.72 57.74 L530.04 57.81 L530.37 57.8 L530.69 57.74 L531.02 57.75 L531.34 57.69 L531.67 57.92 L531.99 57.74 L532.32 57.82 L532.64 57.78 L532.97 57.74 L533.29 57.73 L533.62 57.73 L533.94 57.78 L534.27 57.7 L534.59 57.81 L534.92 57.8 L535.24 57.74 L535.57 57.83 L535.89 57.66 L536.22 57.73 L536.54 57.66 L536.87 57.8 L537.19 57.82 L537.52 57.78 L537.84 57.75 L538.17 57.83 L538.49 57.77 L538.82 57.8 L539.14 57.7 L539.47 57.83 L539.79 57.73 L540.12 57.83 L540.45 57.85 L540.77 57.84 L541.1 57.87 L541.42 57.79 L541.75 57.73 L542.07 57.79 L542.4 57.76 L542.72 57.7 L543.05 57.78 L543.37 57.78 L543.7 57.81 L544.02 57.89 L544.35 57.75 L544.67 57.9 L545 57.76 L545.32 57.8 L545.65 57.73 L545.97 57.8 L546.3 57.85 L546.62 57.77 L546.95 57.83 L547.27 57.81 L547.6 57.79 L547.92 57.8 L548.25 57.81 L548.57 57.85 L548.9 57.81 L549.22 57.92 L549.55 57.81 L549.87 57.87 L550.2 57.73 L550.52 57.72 L550.85 57.91 L551.17 57.79 L551.5 57.8 L551.82 57.86 L552.15 57.76 L552.47 57.82 L552.8 57.9 L553.12 57.81 L553.45 57.81 L553.77 57.79 L554.1 57.87 L554.42 57.76 L554.75 57.75 L555.07 57.87 L555.4 57.84 L555.73 57.8 L556.05 57.83 L556.38 57.69 L556.7 57.78 L557.03 57.86 L557.35 57.84 L557.68 57.8 L558 57.66 L558.33 57.81 L558.65 57.79 L558.98 57.77 L559.3 57.8 L559.63 57.66 L559.95 57.83 L560.28 57.75 L560.6 57.79 L560.93 57.76 L561.25 57.87 L561.58 57.69 L561.9 57.8 L562.23 57.79 L562.55 57.85 L562.88 57.84 L563.2 57.76 L563.53 57.74 L563.85 57.75 L564.18 57.72 L564.5 57.75 L564.83 57.8 L565.15 57.75 L565.48 57.76 L565.8 57.8 L566.13 57.75 L566.45 57.72 L566.78 57.78 L567.1 57.82 L567.43 57.75 L567.75 57.68 L568.08 57.81 L568.4 57.8 L568.73 57.8 L569.05 57.72 L569.38 57.91 L569.7 57.77 L570.03 57.73 L570.35 57.85 L570.68 57.71 L571 57.76 L571.33 57.83 L571.66 57.78 L571.98 57.89 L572.31 57.83 L572.63 57.69 L572.96 57.85 L573.28 57.69 L573.61 57.8 L573.93 57.74 L574.26 57.79 L574.58 57.93 L574.91 57.83 L575.23 57.78 L575.56 57.86 L575.88 57.88 L576.21 57.77 L576.53 57.83 L576.86 57.9 L577.18 57.84 L577.51 57.74 L577.83 57.82 L578.16 57.74 L578.48 57.7 L578.81 57.79 L579.13 57.86 L579.46 57.87 L579.78 57.8 L580.11 57.74 L580.43 57.78 L580.76 57.76 L581.08 57.82 L581.41 57.77 L581.73 57.82 L582.06 57.81 L582.38 57.87 L582.71 57.88 L583.03 57.82 L583.36 57.85 L583.68 57.84 L584.01 57.75 L584.33 57.79 L584.66 57.61 L584.98 57.73 L585.31 57.82 L585.63 57.73 L585.96 57.75 L586.28 57.81 L586.61 57.69 L586.94 57.78 L587.26 57.88 L587.59 57.58 L587.91 57.57 L588.24 57.31 L588.56 57.27 L588.89 57.14 L589.21 56.86 L589.54 56.96 L589.86 56.92 L590.19 56.95 L590.51 57.19 L590.84 57.36 L591.16 57.5 L591.49 57.56 L591.81 57.73 L592.14 57.69 L592.46 57.71 L592.79 57.62 L593.11 57.79 L593.44 57.83 L593.76 57.73 L594.09 57.8 L594.41 57.76 L594.74 57.77 L595.06 57.71 L595.39 57.82 L595.71 57.79 L596.04 57.94 L596.36 57.84 L596.69 57.69 L597.01 57.83 L597.34 57.83 L597.66 57.86 L597.99 57.75 L598.31 57.77 L598.64 57.86 L598.96 57.74 L599.29 57.77 L599.61 57.74 L599.94 57.82 L600.26 57.68 L600.59 57.76 L600.91 57.79 L601.24 57.81 L601.56 57.79 L601.89 57.72 L602.21 57.79 L602.54 57.7 L602.87 57.73 L603.19 57.68 L603.52 57.69 L603.84 57.72 L604.17 57.78 L604.49 57.57 L604.82 57.42 L605.14 57.31 L605.47 57.12 L605.79 57.03 L606.12 56.93 L606.44 56.95 L606.77 56.88 L607.09 57.09 L607.42 57.29 L607.74 57.5 L608.07 57.55 L608.39 57.55 L608.72 57.67 L609.04 57.77 L609.37 57.66 L609.69 57.67 L610.02 57.7 L610.34 57.71 L610.67 57.69 L610.99 57.73 L611.32 57.72 L611.64 57.81 L611.97 57.67 L612.29 57.75 L612.62 57.64 L612.94 57.88 L613.27 57.71 L613.59 57.69 L613.92 57.77 L614.24 57.72 L614.57 57.69 L614.89 57.7 L615.22 57.76 L615.54 57.73 L615.87 57.65 L616.19 57.62 L616.52 57.67 L616.84 57.65 L617.17 57.62 L617.49 57.53 L617.82 57.6 L618.15 57.49 L618.47 57.12 L618.8 56.57 L619.12 55.33 L619.45 53.42 L619.77 51.16 L620.1 49.42 L620.42 48.77 L620.75 49.97 L621.07 51.9 L621.4 54.21 L621.72 55.85 L622.05 56.73 L622.37 57.28 L622.7 57.51 L623.02 57.59 L623.35 57.58 L623.67 57.65 L624 57.67 L624.32 57.62 L624.65 57.74 L624.97 57.74 L625.3 57.76 L625.62 57.66 L625.95 57.68 L626.27 57.67 L626.6 57.75 L626.92 57.76 L627.25 57.71 L627.57 57.79 L627.9 57.72 L628.22 57.72 L628.55 57.81 L628.87 57.78 L629.2 57.78 L629.52 57.67 L629.85 57.62 L630.17 57.78 L630.5 57.78 L630.82 57.92 L631.15 57.77 L631.47 57.78 L631.8 57.85 L632.12 57.74 L632.45 57.88 L632.77 57.8 L633.1 57.78 L633.42 57.86 L633.75 57.74 L634.08 57.72 L634.4 57.87 L634.73 57.87 L635.05 57.75 L635.38 57.79 L635.7 57.86 L636.03 57.81 L636.35 57.8 L636.68 57.8 L637 57.74 L637.33 57.77 L637.65 57.68 L637.98 57.71 L638.3 57.75 L638.63 57.72 L638.95 57.71 L639.28 57.75 L639.6 57.86 L639.93 57.74 L640.25 57.78 L640.58 57.69 L640.9 57.78 L641.23 57.75 L641.55 57.76 L641.88 57.68 L642.2 57.77 L642.53 57.79 L642.85 57.75 L643.18 57.79 L643.5 57.74 L643.83 57.72 L644.15 57.65 L644.48 57.48 L644.8 57.51 L645.13 57.37 L645.45 57.27 L645.78 57.13 L646.1 57.22 L646.43 57.22 L646.75 57.27 L647.08 57.35 L647.4 57.5 L647.73 57.63 L648.05 57.72 L648.38 57.69 L648.7 57.66 L649.03 57.75 L649.36 57.76 L649.68 57.75 L650.01 57.84 L650.33 57.8 L650.66 57.8 L650.98 57.77 L651.31 57.79 L651.63 57.86 L651.96 57.72 L652.28 57.69 L652.61 57.81 L652.93 57.77 L653.26 57.77 L653.58 57.74 L653.91 57.88 L654.23 57.69 L654.56 57.82 L654.88 57.72 L655.21 57.79 L655.53 57.81 L655.86 57.8 L656.18 57.74 L656.51 57.84 L656.83 57.81 L657.16 57.82 L657.48 57.89 L657.81 57.71 L658.13 57.75 L658.46 57.79 L658.78 57.71 L659.11 57.84 L659.43 57.78 L659.76 57.66 L660.08 57.69 L660.41 57.85 L660.73 57.86 L661.06 57.65 L661.38 57.44 L661.71 57.44 L662.03 57.35 L662.36 57.26 L662.68 57.36 L663.01 57.35 L663.33 57.4 L663.66 57.51 L663.98 57.6 L664.31 57.72 L664.63 57.7 L664.96 57.78 L665.29 57.69 L665.61 57.62 L665.94 57.83 L666.26 57.92 L666.59 57.81 L666.91 57.77 L667.24 57.73 L667.56 57.73 L667.89 57.84 L668.21 57.84 L668.54 57.72 L668.86 57.86 L669.19 57.73 L669.51 57.81 L669.84 57.75 L670.16 57.75 L670.49 57.75 L670.81 57.75 L671.14 57.85 L671.46 57.78 L671.79 57.79 L672.11 57.78 L672.44 57.72 L672.76 57.81 L673.09 57.84 L673.41 57.84 L673.74 57.81 L674.06 57.75 L674.39 57.85 L674.71 57.73 L675.04 57.78 L675.36 57.81 L675.69 57.88 L676.01 57.78 L676.34 57.75 L676.66 57.9 L676.99 57.72 L677.31 57.7 L677.64 57.78 L677.96 57.77 L678.29 57.65 L678.61 57.72 L678.94 57.85 L679.26 57.8 L679.59 57.81 L679.91 57.81 L680.24 57.94 L680.57 57.75 L680.89 57.83 L681.22 57.79 L681.54 57.8 L681.87 57.74 L682.19 57.81 L682.52 57.84 L682.84 57.76 L683.17 57.71 L683.49 57.81 L683.82 57.71 L684.14 57.78 L684.47 57.83 L684.79 57.7 L685.12 57.84 L685.44 57.73 L685.77 57.82 L686.09 57.77 L686.42 57.87 L686.74 57.84 L687.07 57.73 L687.39 57.78 L687.72 57.79 L688.04 57.82 L688.37 57.76 L688.69 57.87 L689.02 57.85 L689.34 57.79 L689.67 57.83 L689.99 57.82 L690.32 57.78 L690.64 57.78 L690.97 57.77 L691.29 57.64 L691.62 57.65 L691.94 57.58 L692.27 57.57 L692.59 57.48 L692.92 57.38 L693.24 57.15 L693.57 57.11 L693.89 56.94 L694.22 56.87 L694.54 56.9 L694.87 57.09 L695.19 57.36 L695.52 57.43 L695.84 57.63 L696.17 57.62 L696.5 57.72 L696.82 57.69 L697.15 57.61 L697.47 57.72 L697.8 57.64 L698.12 57.77 L698.45 57.8 L698.77 57.7 L699.1 57.68 L699.42 57.82 L699.75 57.78 L700.07 57.88 L700.4 57.8 L700.72 57.74 L701.05 57.8 L701.37 57.83 L701.7 57.88 L702.02 57.77 L702.35 57.74 L702.67 57.76 L703 57.78 L703.32 57.87 L703.65 57.69 L703.97 57.8 L704.3 57.8 L704.62 57.75 L704.95 57.92 L705.27 57.8 L705.6 57.8 L705.92 57.77 L706.25 57.71 L706.57 57.77 L706.9 57.9 L707.22 57.81 L707.55 57.78 L707.87 57.78 L708.2 57.87 L708.52 57.89 L708.85 57.76 L709.17 57.77 L709.5 57.79 L709.82 57.89 L710.15 57.68 L710.47 57.95 L710.8 57.79 L711.12 57.63 L711.45 57.74 L711.78 57.68 L712.1 57.71 L712.43 57.49 L712.75 57.57 L713.08 57.42 L713.4 57.39 L713.73 57.47 L714.05 57.39 L714.38 57.6 L714.7 57.63 L715.03 57.65 L715.35 57.73 L715.68 57.71 L716 57.71 L716.33 57.79 L716.65 57.81 L716.98 57.82 L717.3 57.81 L717.63 57.74 L717.95 57.8 L718.28 57.77 L718.6 57.8 L718.93 57.84 L719.25 57.74 L719.58 57.86 L719.9 57.79 L720.23 57.71 L720.55 57.86 L720.88 57.8 L721.2 57.89 L721.53 57.83 L721.85 57.88 L722.18 57.82 L722.5 57.83 L722.83 57.79 L723.15 57.7 L723.48 57.78 L723.8 57.76 L724.13 57.8 L724.45 57.81 L724.78 57.85 L725.1 57.9 L725.43 57.79 L725.75 57.7 L726.08 57.77 L726.4 57.83 L726.73 57.69 L727.05 57.82 L727.38 57.83 L727.71 57.87 L728.03 57.85 L728.36 57.81 L728.68 57.67 L729.01 57.8 L729.33 57.85 L729.66 57.82 L729.98 57.8 L730.31 57.89 L730.63 57.77 L730.96 57.73 L731.28 57.75 L731.61 57.71 L731.93 57.8 L732.26 57.77 L732.58 57.52 L732.91 57.42 L733.23 57.47 L733.56 57.25 L733.88 57.18 L734.21 57.12 L734.53 57.17 L734.86 57.3 L735.18 57.37 L735.51 57.49 L735.83 57.61 L736.16 57.79 L736.48 57.9 L736.81 57.8 L737.13 57.87 L737.46 57.76 L737.78 57.74 L738.11 57.77 L738.43 57.81 L738.76 57.78 L739.08 57.72 L739.41 57.83 L739.73 57.74 L740.06 57.75 L740.38 57.78 L740.71 57.71 L741.03 57.84 L741.36 57.74 L741.68 57.85 L742.01 57.84 L742.33 57.86 L742.66 57.77 L742.99 57.85 L743.31 57.79 L743.64 57.86 L743.96 57.73 L744.29 57.69 L744.61 57.78 L744.94 57.7 L745.26 57.76 L745.59 57.67 L745.91 57.79 L746.24 57.89 L746.56 57.71 L746.89 57.81 L747.21 57.86 L747.54 57.84 L747.86 57.9 L748.19 57.81 L748.51 57.86 L748.84 57.71 L749.16 57.76 L749.49 57.9 L749.81 57.89 L750.14 57.83 L750.46 57.91 L750.79 57.8 L751.11 57.8 L751.44 57.84 L751.76 57.83 L752.09 57.77 L752.41 57.71 L752.74 57.71 L753.06 57.8 L753.39 57.75 L753.71 57.84 L754.04 57.77 L754.36 57.86 L754.69 57.75 L755.01 57.87 L755.34 57.86 L755.66 57.8 L755.99 57.77 L756.31 57.89 L756.64 57.83 L756.96 57.79 L757.29 57.79 L757.61 57.85 L757.94 57.79 L758.26 57.81 L758.59 57.71 L758.92 57.77 L759.24 57.88 L759.57 57.93 L759.89 57.79 L760.22 57.73 L760.54 57.79 L760.87 57.75 L761.19 57.83 L761.52 57.88 L761.84 57.75 L762.17 57.79 L762.49 57.76 L762.82 57.88 L763.14 57.79 L763.47 57.84 L763.79 57.75 L764.12 57.83 L764.44 57.84 L764.77 57.83 L765.09 57.72 L765.42 57.8 L765.74 57.84 L766.07 57.86 L766.39 57.86 L766.72 57.71 L767.04 57.91 L767.37 57.85 L767.69 57.76 L768.02 57.73 L768.34 57.81 L768.67 57.75 L768.99 57.75 L769.32 57.74 L769.64 57.8 L769.97 57.7 L770.29 57.79 L770.62 57.71 L770.94 57.86 L771.27 57.74 L771.59 57.87 L771.92 57.89 L772.24 57.77 L772.57 57.85 L772.89 57.77 L773.22 57.86 L773.54 57.7 L773.87 57.8 L774.2 57.86 L774.52 57.79 L774.85 57.74 L775.17 57.84 L775.5 57.76 L775.82 57.67 L776.15 57.74 L776.47 57.8 L776.8 57.83 L777.12 57.76 L777.45 57.89 L777.77 57.98 L778.1 57.83 L778.42 57.86 L778.75 57.69 L779.07 57.79 L779.4 57.85 L779.72 57.86 L780.05 57.76 L780.37 57.84 L780.7 57.83 L781.02 57.8 L781.35 57.79 L781.67 57.79 L782 57.79 L782.32 57.71 L782.65 57.69 L782.97 57.89 L783.3 57.64 L783.62 57.78 L783.95 57.72 L784.27 57.83 L784.6 57.77 L784.92 57.77 L785.25 57.78 L785.57 57.73 L785.9 57.74 L786.22 57.83 L786.55 57.76 L786.87 57.69 L787.2 57.65 L787.52 57.66 L787.85 57.61 L788.17 57.55 L788.5 57.57 L788.82 57.57 L789.15 57.42 L789.47 57.58 L789.8 57.6 L790.13 57.71 L790.45 57.63 L790.78 57.63 L791.1 57.77 L791.43 57.74 L791.75 57.82 L792.08 57.68 L792.4 57.73 L792.73 57.84 L793.05 57.71 L793.38 57.76 L793.7 57.76 L794.03 57.76 L794.35 57.83 L794.68 57.82 L795 57.75 L795.33 57.79 L795.65 57.84 L795.98 57.66 L796.3 57.79 L796.63 57.81 L796.95 57.82 L797.28 57.74 L797.6 57.72 L797.93 57.75 L798.25 57.71 L798.58 57.83 L798.9 57.73 L799.23 57.69 L799.55 57.58 L799.88 57.44 L800.2 57.46 L800.53 57.01 L800.85 57.15 L801.18 57.03 L801.5 57.02 L801.83 57.11 L802.15 57.27 L802.48 57.6 L802.8 57.61 L803.13 57.59 L803.45 57.75 L803.78 57.8 L804.1 57.9 L804.43 57.7 L804.75 57.74 L805.08 57.83 L805.41 57.79 L805.73 57.79 L806.06 57.85 L806.38 57.8 L806.71 57.77 L807.03 57.76 L807.36 57.71 L807.68 57.79 L808.01 57.82 L808.33 57.77 L808.66 57.83 L808.98 57.87 L809.31 57.73 L809.63 57.82 L809.96 57.79 L810.28 57.76 L810.61 57.86 L810.93 57.76 L811.26 57.77 L811.58 57.8 L811.91 57.77 L812.23 57.84 L812.56 57.93 L812.88 57.81 L813.21 57.85 L813.53 57.74 L813.86 57.78 L814.18 57.83 L814.51 57.79 L814.83 57.72 L815.16 57.73 L815.48 57.77 L815.81 57.77 L816.13 57.81 L816.46 57.8 L816.78 57.76 L817.11 57.8 L817.43 57.78 L817.76 57.86 L818.08 57.9 L818.41 57.9 L818.73 57.82 L819.06 57.72 L819.38 57.73 L819.71 57.86 L820.03 57.89 L820.36 57.75 L820.68 57.77 L821.01 57.88 L821.34 57.73 L821.66 57.79 L821.99 57.72 L822.31 57.78 L822.64 57.74 L822.96 57.78 L823.29 57.86 L823.61 57.81 L823.94 57.84 L824.26 57.75 L824.59 57.86 L824.91 57.89 L825.24 57.76 L825.56 57.73 L825.89 57.71 L826.21 57.73 L826.54 57.89 L826.86 57.84 L827.19 57.83 L827.51 57.8 L827.84 57.93 L828.16 57.8 L828.49 57.78 L828.81 57.86 L829.14 57.79 L829.46 57.73 L829.79 57.8 L830.11 57.73 L830.44 57.74 L830.76 57.77 L831.09 57.78 L831.41 57.82 L831.74 57.72 L832.06 57.83 L832.39 57.84 L832.71 57.76 L833.04 57.84 L833.36 57.77 L833.69 57.73 L834.01 57.79 L834.34 57.79 L834.66 57.74 L834.99 57.75 L835.31 57.89 L835.64 57.88 L835.96 57.72 L836.29 57.77 L836.62 57.92 L836.94 57.88 L837.27 57.8 L837.59 57.86 L837.92 57.77 L838.24 57.79 L838.57 57.77 L838.89 57.87 L839.22 57.76 L839.54 57.68 L839.87 57.84 L840.19 57.72 L840.52 57.74 L840.84 57.76 L841.17 57.8 L841.49 57.87 L841.82 57.85 L842.14 57.75 L842.47 57.74 L842.79 57.72 L843.12 57.74 L843.44 57.74 L843.77 57.82 L844.09 57.87 L844.42 57.78 L844.74 57.76 L845.07 57.79 L845.39 57.89 L845.72 57.82 L846.04 57.88 L846.37 57.78 L846.69 57.85 L847.02 57.8 L847.34 57.77 L847.67 57.78 L847.99 57.7 L848.32 57.85 L848.64 57.91 L848.97 57.72 L849.29 57.68 L849.62 57.65 L849.94 57.69 L850.27 57.61 L850.59 57.56 L850.92 57.56 L851.24 57.42 L851.57 57.29 L851.89 57.33 L852.22 57.21 L852.55 57.48 L852.87 57.5 L853.2 57.5 L853.52 57.68 L853.85 57.77 L854.17 57.82 L854.5 57.8 L854.82 57.68 L855.15 57.76 L855.47 57.75 L855.8 57.82 L856.12 57.74 L856.45 57.78 L856.77 57.85 L857.1 57.82 L857.42 57.78 L857.75 57.72 L858.07 57.8 L858.4 57.76 L858.72 57.67 L859.05 57.84 L859.37 57.87 L859.7 57.74 L860.02 57.77 L860.35 57.8 L860.67 57.78 L861 57.82 L861.32 57.76 L861.65 57.82 L861.97 57.75 L862.3 57.87 L862.62 57.84 L862.95 57.79 L863.27 57.82 L863.6 57.75 L863.92 57.8 L864.25 57.83 L864.57 57.78 L864.9 57.83 L865.22 57.89 L865.55 57.86 L865.87 57.84 L866.2 57.82 L866.52 57.79 L866.85 57.74 L867.17 57.76 L867.5 57.69" fill="none" stroke="#ff00ff" stroke-width="1.2" stroke-linejoin="round" stroke-linecap="round" />
<text x="793" y="48.1" font-size="11" text-anchor="start" fill="#2e2e2e" font-family="Liberation Sans, sans-serif" >0.15-MAPbBr<tspan font-size="7.48" dy="3.96" dx="0.66">3</tspan></text>
<path d="M477.7 94.11 L478.03 94.2 L478.35 94.09 L478.68 94.12 L479 94.22 L479.33 94.17 L479.65 94.12 L479.98 94.18 L480.3 94.13 L480.63 94.17 L480.95 94.15 L481.28 94.21 L481.6 94.17 L481.93 94.21 L482.25 94.15 L482.58 94.29 L482.9 94.17 L483.23 94.11 L483.55 94.15 L483.88 94.19 L484.2 94.15 L484.53 94.24 L484.85 94.23 L485.18 94.21 L485.5 94.19 L485.83 94.12 L486.15 94.24 L486.48 94.12 L486.8 94.27 L487.13 94.23 L487.45 94.18 L487.78 94.11 L488.1 94.21 L488.43 94.3 L488.75 94.14 L489.08 94.16 L489.4 94.2 L489.73 94.17 L490.05 94.11 L490.38 94 L490.7 93.89 L491.03 93.95 L491.35 93.67 L491.68 93.78 L492 93.81 L492.33 93.8 L492.65 93.9 L492.98 93.84 L493.31 93.97 L493.63 94.11 L493.96 94.14 L494.28 94.17 L494.61 94.17 L494.93 94.11 L495.26 94.19 L495.58 94.05 L495.91 94.15 L496.23 94.15 L496.56 94.06 L496.88 94.21 L497.21 94.11 L497.53 93.95 L497.86 93.92 L498.18 93.85 L498.51 93.77 L498.83 93.82 L499.16 93.82 L499.48 93.95 L499.81 94.05 L500.13 93.92 L500.46 94.1 L500.78 94.11 L501.11 94 L501.43 94.02 L501.76 94.12 L502.08 94.11 L502.41 94.08 L502.73 94.12 L503.06 94.01 L503.38 94.02 L503.71 94 L504.03 93.94 L504.36 93.92 L504.68 93.82 L505.01 93.79 L505.33 93.93 L505.66 93.71 L505.98 93.73 L506.31 93.6 L506.63 93.16 L506.96 92.54 L507.28 90.93 L507.61 87.77 L507.93 82.98 L508.26 76.99 L508.58 71.8 L508.91 69.94 L509.24 72.44 L509.56 77.99 L509.89 83.87 L510.21 88.46 L510.54 91.13 L510.86 92.6 L511.19 93.22 L511.51 93.47 L511.84 93.7 L512.16 93.75 L512.49 93.81 L512.81 93.95 L513.14 93.94 L513.46 93.93 L513.79 94.06 L514.11 93.97 L514.44 93.99 L514.76 93.99 L515.09 94.12 L515.41 94.07 L515.74 94 L516.06 94.05 L516.39 94.16 L516.71 94.1 L517.04 94.04 L517.36 94.13 L517.69 94.11 L518.01 93.98 L518.34 94.14 L518.66 94.15 L518.99 94.21 L519.31 94.19 L519.64 94.06 L519.96 94.16 L520.29 94.23 L520.61 94.22 L520.94 94.16 L521.26 94.12 L521.59 94.21 L521.91 94.12 L522.24 94.2 L522.56 94.15 L522.89 94.14 L523.21 94.14 L523.54 94.2 L523.86 94.19 L524.19 94.15 L524.52 94.25 L524.84 94.17 L525.17 94.15 L525.49 94.12 L525.82 94.18 L526.14 94.19 L526.47 94.17 L526.79 94.23 L527.12 94.2 L527.44 94.16 L527.77 94.17 L528.09 94.25 L528.42 94.21 L528.74 94.31 L529.07 94.14 L529.39 94.22 L529.72 94.17 L530.04 94.25 L530.37 94.19 L530.69 94.16 L531.02 94.13 L531.34 94.27 L531.67 94.14 L531.99 94.2 L532.32 94.24 L532.64 94.16 L532.97 94.21 L533.29 94.21 L533.62 94.23 L533.94 94.18 L534.27 94.19 L534.59 94.2 L534.92 94.25 L535.24 94.22 L535.57 94.17 L535.89 94.12 L536.22 94.2 L536.54 94.11 L536.87 94.19 L537.19 94.26 L537.52 94.16 L537.84 94.25 L538.17 94.17 L538.49 94.13 L538.82 94.21 L539.14 94.2 L539.47 94.05 L539.79 94.18 L540.12 94.18 L540.45 94.15 L540.77 94.2 L541.1 94.2 L541.42 94.17 L541.75 94.34 L542.07 94.11 L542.4 94.26 L542.72 94.26 L543.05 94.16 L543.37 94.19 L543.7 94.27 L544.02 94.18 L544.35 94.26 L544.67 94.24 L545 94.29 L545.32 94.25 L545.65 94.17 L545.97 94.19 L546.3 94.18 L546.62 94.14 L546.95 94.2 L547.27 94.24 L547.6 94.21 L547.92 94.1 L548.25 94.19 L548.57 94.18 L548.9 94.2 L549.22 94.18 L549.55 94.17 L549.87 94.2 L550.2 94.21 L550.52 94.24 L550.85 94.25 L551.17 94.17 L551.5 94.15 L551.82 94.14 L552.15 94.19 L552.47 94.25 L552.8 94.16 L553.12 94.16 L553.45 94.29 L553.77 94.15 L554.1 94.16 L554.42 94.1 L554.75 94.26 L555.07 94.27 L555.4 94.15 L555.73 94.3 L556.05 94.24 L556.38 94.26 L556.7 94.26 L557.03 94.31 L557.35 94.21 L557.68 94.14 L558 94.17 L558.33 94.17 L558.65 94.22 L558.98 94.11 L559.3 94.17 L559.63 94.13 L559.95 94.29 L560.28 94.18 L560.6 94.27 L560.93 94.18 L561.25 94.19 L561.58 94.26 L561.9 94.19 L562.23 94.13 L562.55 94.17 L562.88 94.16 L563.2 94.25 L563.53 94.24 L563.85 94.26 L564.18 94.19 L564.5 94.13 L564.83 94.17 L565.15 94.2 L565.48 94.26 L565.8 94.17 L566.13 94.21 L566.45 94.31 L566.78 94.3 L567.1 94.22 L567.43 94.25 L567.75 94.1 L568.08 94.19 L568.4 94.26 L568.73 94.23 L569.05 94.1 L569.38 94.25 L569.7 94.15 L570.03 94.17 L570.35 94.11 L570.68 94.16 L571 94.22 L571.33 94.16 L571.66 94.19 L571.98 94.14 L572.31 94.2 L572.63 94.08 L572.96 94.2 L573.28 94.17 L573.61 94.23 L573.93 94.19 L574.26 94.19 L574.58 94.18 L574.91 94.14 L575.23 94.23 L575.56 94.25 L575.88 94.13 L576.21 94.21 L576.53 94.23 L576.86 94.13 L577.18 94.15 L577.51 94.35 L577.83 94.22 L578.16 94.15 L578.48 94.14 L578.81 94.22 L579.13 94.1 L579.46 94.24 L579.78 94.21 L580.11 94.18 L580.43 94.19 L580.76 94.14 L581.08 94.13 L581.41 94.19 L581.73 94.11 L582.06 94.23 L582.38 94.2 L582.71 94.09 L583.03 94.18 L583.36 94.12 L583.68 94.21 L584.01 94.2 L584.33 94.19 L584.66 94.17 L584.98 94.2 L585.31 94.18 L585.63 94.13 L585.96 94.1 L586.28 94.16 L586.61 94.11 L586.94 94.08 L587.26 94.16 L587.59 94.12 L587.91 93.83 L588.24 93.71 L588.56 93.63 L588.89 93.45 L589.21 93.4 L589.54 93.38 L589.86 93.31 L590.19 93.53 L590.51 93.54 L590.84 93.8 L591.16 93.88 L591.49 93.89 L591.81 93.97 L592.14 94.14 L592.46 94.08 L592.79 94.22 L593.11 94.2 L593.44 94.15 L593.76 94.09 L594.09 94.21 L594.41 94.14 L594.74 94.17 L595.06 94.25 L595.39 94.19 L595.71 94.09 L596.04 94.19 L596.36 94.15 L596.69 94.13 L597.01 94.23 L597.34 94.11 L597.66 94.09 L597.99 94.09 L598.31 94.1 L598.64 94.21 L598.96 94.22 L599.29 94.23 L599.61 94.23 L599.94 94.23 L600.26 94.12 L600.59 94.09 L600.91 94.21 L601.24 94.13 L601.56 94.25 L601.89 94.19 L602.21 94.23 L602.54 94.26 L602.87 94.16 L603.19 94.15 L603.52 94.16 L603.84 94.14 L604.17 94.12 L604.49 93.99 L604.82 93.9 L605.14 93.7 L605.47 93.62 L605.79 93.39 L606.12 93.27 L606.44 93.21 L606.77 93.29 L607.09 93.48 L607.42 93.69 L607.74 93.92 L608.07 93.94 L608.39 93.94 L608.72 93.98 L609.04 94.27 L609.37 94.18 L609.69 94.16 L610.02 94.21 L610.34 94.14 L610.67 94.14 L610.99 94.18 L611.32 94.15 L611.64 94.24 L611.97 94.2 L612.29 94.19 L612.62 94.08 L612.94 94.23 L613.27 94.13 L613.59 94.07 L613.92 94.11 L614.24 94.05 L614.57 94.12 L614.89 94.04 L615.22 93.99 L615.54 93.89 L615.87 93.95 L616.19 93.86 L616.52 93.88 L616.84 93.76 L617.17 93.4 L617.49 92.84 L617.82 91.51 L618.15 89.39 L618.47 86.4 L618.8 83.55 L619.12 82.21 L619.45 82.62 L619.77 85.08 L620.1 88.09 L620.42 90.7 L620.75 92.33 L621.07 93.32 L621.4 93.71 L621.72 93.88 L622.05 93.9 L622.37 93.92 L622.7 93.96 L623.02 94.01 L623.35 94.09 L623.67 94.18 L624 94.07 L624.32 94.09 L624.65 94.09 L624.97 94.04 L625.3 94.14 L625.62 94.15 L625.95 94.28 L626.27 94.11 L626.6 94.15 L626.92 94.2 L627.25 94.13 L627.57 94.22 L627.9 94.2 L628.22 94.05 L628.55 94.12 L628.87 94.11 L629.2 94.13 L629.52 94.13 L629.85 94.16 L630.17 94.04 L630.5 94.18 L630.82 94.13 L631.15 94.19 L631.47 94.2 L631.8 94.33 L632.12 94.3 L632.45 94.09 L632.77 94.09 L633.1 94.21 L633.42 94.19 L633.75 94.15 L634.08 94.24 L634.4 94.08 L634.73 94.25 L635.05 94.23 L635.38 94.35 L635.7 94.1 L636.03 94.18 L636.35 94.09 L636.68 94.25 L637 94.17 L637.33 94.18 L637.65 94.17 L637.98 94.06 L638.3 94.05 L638.63 94.1 L638.95 94.21 L639.28 94.13 L639.6 94.11 L639.93 94.15 L640.25 94.15 L640.58 94.16 L640.9 94.24 L641.23 94.17 L641.55 94.09 L641.88 94.24 L642.2 94.17 L642.53 94.13 L642.85 94.25 L643.18 94.17 L643.5 94.25 L643.83 94.15 L644.15 94.15 L644.48 94.04 L644.8 93.92 L645.13 93.79 L645.45 93.67 L645.78 93.72 L646.1 93.45 L646.43 93.59 L646.75 93.73 L647.08 93.82 L647.4 93.88 L647.73 94.06 L648.05 94.1 L648.38 94.15 L648.7 94.12 L649.03 94.21 L649.36 94.15 L649.68 94.16 L650.01 94.19 L650.33 94.11 L650.66 94.18 L650.98 94.26 L651.31 94.17 L651.63 94.18 L651.96 94.19 L652.28 94.17 L652.61 94.05 L652.93 94.18 L653.26 94.16 L653.58 94.21 L653.91 94.11 L654.23 94.19 L654.56 94.24 L654.88 94.26 L655.21 94.16 L655.53 94.15 L655.86 94.29 L656.18 94.23 L656.51 94.15 L656.83 94.13 L657.16 94.27 L657.48 94.21 L657.81 94.14 L658.13 94.22 L658.46 94.21 L658.78 94.22 L659.11 94.26 L659.43 94.17 L659.76 94.15 L660.08 94.23 L660.41 94.11 L660.73 94 L661.06 93.98 L661.38 93.85 L661.71 93.85 L662.03 93.66 L662.36 93.75 L662.68 93.59 L663.01 93.79 L663.33 93.89 L663.66 93.99 L663.98 94.04 L664.31 94.11 L664.63 94.17 L664.96 94.17 L665.29 94.13 L665.61 94.13 L665.94 94.2 L666.26 94.11 L666.59 94.25 L666.91 94.25 L667.24 94.26 L667.56 94.15 L667.89 94.28 L668.21 94.28 L668.54 94.12 L668.86 94.09 L669.19 94.11 L669.51 94.28 L669.84 94.19 L670.16 94.14 L670.49 94.19 L670.81 94.29 L671.14 94.22 L671.46 94.3 L671.79 94.27 L672.11 94.07 L672.44 94.16 L672.76 94.28 L673.09 94.29 L673.41 94.17 L673.74 94.23 L674.06 94.16 L674.39 94.24 L674.71 94.21 L675.04 94.18 L675.36 94.26 L675.69 94.31 L676.01 94.27 L676.34 94.24 L676.66 94.21 L676.99 94.2 L677.31 94.2 L677.64 94.17 L677.96 94.25 L678.29 94.11 L678.61 94.08 L678.94 94.18 L679.26 94.19 L679.59 94.12 L679.91 94.16 L680.24 94.19 L680.57 94.21 L680.89 94.24 L681.22 94.27 L681.54 94.16 L681.87 94.13 L682.19 94.26 L682.52 94.2 L682.84 94.18 L683.17 94.22 L683.49 94.24 L683.82 94.22 L684.14 94.31 L684.47 94.2 L684.79 94.21 L685.12 94.07 L685.44 94.14 L685.77 94.22 L686.09 94.19 L686.42 94.09 L686.74 94.1 L687.07 94.18 L687.39 94.2 L687.72 94.28 L688.04 94.21 L688.37 94.2 L688.69 94.23 L689.02 94.08 L689.34 94.3 L689.67 94.19 L689.99 94.16 L690.32 94.15 L690.64 94.07 L690.97 94.25 L691.29 94.19 L691.62 94.11 L691.94 94.05 L692.27 93.99 L692.59 93.89 L692.92 93.63 L693.24 93.59 L693.57 93.42 L693.89 93.22 L694.22 93.21 L694.54 93.35 L694.87 93.6 L695.19 93.76 L695.52 93.92 L695.84 94.05 L696.17 94.09 L696.5 94.04 L696.82 94.13 L697.15 94.21 L697.47 94.22 L697.8 94.25 L698.12 94.11 L698.45 94.3 L698.77 94.17 L699.1 94.27 L699.42 94.25 L699.75 94.28 L700.07 94.13 L700.4 94.2 L700.72 94.03 L701.05 94.25 L701.37 94.26 L701.7 94.16 L702.02 94.16 L702.35 94.21 L702.67 94.32 L703 94.11 L703.32 94.16 L703.65 94.17 L703.97 94.23 L704.3 94.16 L704.62 94.23 L704.95 94.19 L705.27 94.21 L705.6 94.12 L705.92 94.22 L706.25 94.22 L706.57 94.13 L706.9 94.18 L707.22 94.2 L707.55 94.21 L707.87 94.14 L708.2 94.23 L708.52 94.17 L708.85 94.07 L709.17 94.17 L709.5 94.24 L709.82 94.26 L710.15 94.18 L710.47 94.26 L710.8 94.27 L711.12 94.21 L711.45 94.2 L711.78 94.05 L712.1 94.13 L712.43 93.88 L712.75 93.94 L713.08 93.83 L713.4 93.76 L713.73 93.8 L714.05 93.81 L714.38 93.97 L714.7 94.12 L715.03 94.07 L715.35 94.21 L715.68 94.18 L716 94.11 L716.33 94.19 L716.65 94.22 L716.98 94.26 L717.3 94.21 L717.63 94.2 L717.95 94.29 L718.28 94.18 L718.6 94.26 L718.93 94.18 L719.25 94.23 L719.58 94.14 L719.9 94.15 L720.23 94.2 L720.55 94.21 L720.88 94.17 L721.2 94.12 L721.53 94.14 L721.85 94.19 L722.18 94.18 L722.5 94.1 L722.83 94.3 L723.15 94.17 L723.48 94.25 L723.8 94.12 L724.13 94.23 L724.45 94.2 L724.78 94.26 L725.1 94.2 L725.43 94.15 L725.75 94.1 L726.08 94.27 L726.4 94.22 L726.73 93.96 L727.05 94.14 L727.38 94.19 L727.71 94.16 L728.03 94.35 L728.36 94.1 L728.68 94.18 L729.01 94.28 L729.33 94.12 L729.66 94.23 L729.98 94.25 L730.31 94.15 L730.63 94.16 L730.96 94.2 L731.28 94.17 L731.61 94.23 L731.93 94.21 L732.26 94.01 L732.58 93.91 L732.91 93.86 L733.23 93.75 L733.56 93.68 L733.88 93.58 L734.21 93.61 L734.53 93.48 L734.86 93.71 L735.18 93.76 L735.51 93.9 L735.83 94.09 L736.16 93.96 L736.48 94.15 L736.81 94.2 L737.13 94.16 L737.46 94.23 L737.78 94.18 L738.11 94.24 L738.43 94.15 L738.76 94.18 L739.08 94.27 L739.41 94.13 L739.73 94.18 L740.06 94.26 L740.38 94.17 L740.71 94.17 L741.03 94.08 L741.36 94.25 L741.68 94.14 L742.01 94.2 L742.33 94.16 L742.66 94.21 L742.99 94.2 L743.31 94.17 L743.64 94.27 L743.96 94.32 L744.29 94.2 L744.61 94.22 L744.94 94.19 L745.26 94.16 L745.59 94.21 L745.91 94.12 L746.24 94.2 L746.56 94.19 L746.89 94.15 L747.21 94.16 L747.54 94.2 L747.86 94.19 L748.19 94.24 L748.51 94.23 L748.84 94.19 L749.16 94.15 L749.49 94.22 L749.81 94.15 L750.14 94.08 L750.46 94.07 L750.79 94.19 L751.11 94.13 L751.44 94.16 L751.76 94.15 L752.09 94.15 L752.41 94.16 L752.74 94.15 L753.06 94.18 L753.39 94.21 L753.71 94.18 L754.04 94.17 L754.36 94.12 L754.69 94.17 L755.01 94.15 L755.34 94.11 L755.66 94.25 L755.99 94.21 L756.31 94.16 L756.64 94.19 L756.96 94.26 L757.29 94.14 L757.61 94.2 L757.94 94.26 L758.26 94.08 L758.59 94.27 L758.92 94.2 L759.24 94.24 L759.57 94.19 L759.89 94.16 L760.22 94.24 L760.54 94.2 L760.87 94.2 L761.19 94.26 L761.52 94.13 L761.84 94.19 L762.17 94.21 L762.49 94.24 L762.82 94.22 L763.14 94.19 L763.47 94.22 L763.79 94.12 L764.12 94.35 L764.44 94.33 L764.77 94.21 L765.09 94.31 L765.42 94.2 L765.74 94.24 L766.07 94.16 L766.39 94.17 L766.72 94.12 L767.04 94.14 L767.37 94.12 L767.69 94.16 L768.02 94.13 L768.34 94.17 L768.67 94.23 L768.99 94.27 L769.32 94.27 L769.64 94.17 L769.97 94.34 L770.29 94.19 L770.62 94.24 L770.94 94.15 L771.27 94.18 L771.59 94.24 L771.92 94.2 L772.24 94.33 L772.57 94.18 L772.89 94.17 L773.22 94.31 L773.54 94.14 L773.87 94.2 L774.2 94.19 L774.52 94.28 L774.85 94.16 L775.17 94.16 L775.5 94.2 L775.82 94.25 L776.15 94.15 L776.47 94.12 L776.8 94.17 L777.12 94.13 L777.45 94.23 L777.77 94.19 L778.1 94.17 L778.42 94.19 L778.75 94.02 L779.07 94.17 L779.4 94.23 L779.72 94.14 L780.05 94.26 L780.37 94.17 L780.7 94.15 L781.02 94.22 L781.35 94.21 L781.67 94.25 L782 94.18 L782.32 94.23 L782.65 94.09 L782.97 94.15 L783.3 94.2 L783.62 94.27 L783.95 94.07 L784.27 94.11 L784.6 94.16 L784.92 94.17 L785.25 94.17 L785.57 94.21 L785.9 94.06 L786.22 94.16 L786.55 94.24 L786.87 94.17 L787.2 94.25 L787.52 94 L787.85 93.94 L788.17 93.83 L788.5 93.77 L788.82 93.94 L789.15 93.89 L789.47 93.89 L789.8 93.96 L790.13 94.09 L790.45 94.06 L790.78 94.11 L791.1 94.08 L791.43 94.17 L791.75 94.19 L792.08 94.21 L792.4 94.21 L792.73 94.23 L793.05 94.2 L793.38 94.15 L793.7 94.16 L794.03 94.11 L794.35 94.12 L794.68 94.15 L795 94.25 L795.33 94.15 L795.65 94.11 L795.98 94.26 L796.3 94.25 L796.63 94.24 L796.95 94.24 L797.28 94.19 L797.6 94.23 L797.93 94.15 L798.25 94.23 L798.58 94.15 L798.9 94.14 L799.23 94.12 L799.55 93.92 L799.88 93.87 L800.2 93.7 L800.53 93.62 L800.85 93.45 L801.18 93.41 L801.5 93.48 L801.83 93.67 L802.15 93.64 L802.48 93.78 L802.8 93.93 L803.13 94.02 L803.45 94.09 L803.78 94.12 L804.1 94.22 L804.43 94.17 L804.75 94.16 L805.08 94.22 L805.41 94.24 L805.73 94.07 L806.06 94.15 L806.38 94.2 L806.71 94.22 L807.03 94.35 L807.36 94.27 L807.68 94.2 L808.01 94.11 L808.33 94.31 L808.66 94.23 L808.98 94.08 L809.31 94.15 L809.63 94.17 L809.96 94.12 L810.28 94.2 L810.61 94.2 L810.93 94.15 L811.26 94.14 L811.58 94.26 L811.91 94.1 L812.23 94.3 L812.56 94.24 L812.88 94.01 L813.21 94.22 L813.53 94.15 L813.86 94.25 L814.18 94.21 L814.51 94.24 L814.83 94.22 L815.16 94.15 L815.48 94.09 L815.81 94.14 L816.13 94.1 L816.46 94.22 L816.78 94.11 L817.11 94.16 L817.43 94.11 L817.76 94.22 L818.08 94.21 L818.41 94.11 L818.73 94.16 L819.06 94.19 L819.38 94.24 L819.71 94.2 L820.03 94.17 L820.36 94.15 L820.68 94.23 L821.01 94.22 L821.34 94.17 L821.66 94.26 L821.99 94.14 L822.31 94.2 L822.64 94.2 L822.96 94.34 L823.29 94.29 L823.61 94.26 L823.94 94.23 L824.26 94.26 L824.59 94.18 L824.91 94.19 L825.24 94.21 L825.56 94.32 L825.89 94.12 L826.21 94.22 L826.54 94.16 L826.86 94.24 L827.19 94.2 L827.51 94.16 L827.84 94.18 L828.16 94.14 L828.49 94.21 L828.81 94.08 L829.14 94.31 L829.46 94.23 L829.79 94.14 L830.11 94.21 L830.44 94.23 L830.76 94.31 L831.09 94.13 L831.41 94.31 L831.74 94.17 L832.06 94.19 L832.39 94.15 L832.71 94.11 L833.04 94.24 L833.36 94.25 L833.69 94.22 L834.01 94.3 L834.34 94.15 L834.66 94.22 L834.99 94.19 L835.31 94.27 L835.64 94.2 L835.96 94.24 L836.29 94.2 L836.62 94.27 L836.94 94.14 L837.27 94.24 L837.59 94.35 L837.92 94.16 L838.24 94.22 L838.57 94.25 L838.89 94.05 L839.22 94.2 L839.54 94.28 L839.87 94.24 L840.19 94.18 L840.52 94.21 L840.84 94.13 L841.17 94.14 L841.49 94.25 L841.82 94.2 L842.14 94.16 L842.47 94.22 L842.79 94.23 L843.12 94.15 L843.44 94.17 L843.77 94.28 L844.09 94.23 L844.42 94.22 L844.74 94.21 L845.07 94.24 L845.39 94.12 L845.72 94.26 L846.04 94.26 L846.37 94.18 L846.69 94.33 L847.02 94.26 L847.34 94.16 L847.67 94.27 L847.99 94.24 L848.32 94.12 L848.64 94.16 L848.97 94.17 L849.29 94.15 L849.62 94.18 L849.94 94.09 L850.27 94.06 L850.59 93.82 L850.92 93.85 L851.24 93.81 L851.57 93.73 L851.89 93.7 L852.22 93.81 L852.55 93.84 L852.87 93.78 L853.2 94.05 L853.52 94.08 L853.85 94.04 L854.17 94.05 L854.5 94.23 L854.82 94.09 L855.15 94.21 L855.47 94.09 L855.8 94.16 L856.12 94.21 L856.45 94.15 L856.77 94.16 L857.1 94.24 L857.42 94.07 L857.75 94.22 L858.07 94.13 L858.4 94.23 L858.72 94.31 L859.05 94.26 L859.37 94.2 L859.7 94.16 L860.02 94.09 L860.35 94.19 L860.67 94.22 L861 94.27 L861.32 94.2 L861.65 94.18 L861.97 94.33 L862.3 94.12 L862.62 94.13 L862.95 94.06 L863.27 94.25 L863.6 94.2 L863.92 94.2 L864.25 94.28 L864.57 94.25 L864.9 94.26 L865.22 94.17 L865.55 94.17 L865.87 94.12 L866.2 94.22 L866.52 94.28 L866.85 94.17 L867.17 94.18 L867.5 94.16" fill="none" stroke="#800000" stroke-width="1.2" stroke-linejoin="round" stroke-linecap="round" />
<text x="793" y="85.2" font-size="11" text-anchor="start" fill="#2e2e2e" font-family="Liberation Sans, sans-serif" >0.10-MAPbBr<tspan font-size="7.48" dy="3.96" dx="0.66">3</tspan></text>
<path d="M477.7 143.22 L478.03 143.32 L478.35 143.24 L478.68 143.35 L479 143.28 L479.33 143.25 L479.65 143.3 L479.98 143.28 L480.3 143.37 L480.63 143.33 L480.95 143.28 L481.28 143.36 L481.6 143.34 L481.93 143.14 L482.25 143.27 L482.58 143.33 L482.9 143.35 L483.23 143.2 L483.55 143.45 L483.88 143.31 L484.2 143.25 L484.53 143.32 L484.85 143.25 L485.18 143.35 L485.5 143.28 L485.83 143.28 L486.15 143.28 L486.48 143.27 L486.8 143.28 L487.13 143.21 L487.45 143.29 L487.78 143.31 L488.1 143.29 L488.43 143.29 L488.75 143.35 L489.08 143.37 L489.4 143.32 L489.73 143.19 L490.05 143.2 L490.38 143.13 L490.7 142.86 L491.03 142.89 L491.35 142.91 L491.68 142.91 L492 142.8 L492.33 142.97 L492.65 142.92 L492.98 143.03 L493.31 143.04 L493.63 143.21 L493.96 143.15 L494.28 143.33 L494.61 143.23 L494.93 143.16 L495.26 143.18 L495.58 143.32 L495.91 143.16 L496.23 143.14 L496.56 143.13 L496.88 143.08 L497.21 142.91 L497.53 142.72 L497.86 142.4 L498.18 142.19 L498.51 142 L498.83 141.98 L499.16 142.19 L499.48 142.3 L499.81 142.41 L500.13 142.82 L500.46 142.9 L500.78 143.06 L501.11 143.12 L501.43 143.08 L501.76 143.04 L502.08 143.04 L502.41 143.05 L502.73 143 L503.06 143.13 L503.38 142.96 L503.71 142.95 L504.03 142.95 L504.36 142.89 L504.68 142.88 L505.01 142.68 L505.33 142.71 L505.66 142.63 L505.98 142.38 L506.31 142.14 L506.63 141.57 L506.96 140.24 L507.28 137.57 L507.61 132.17 L507.93 123.49 L508.26 113.21 L508.58 104.18 L508.91 100.96 L509.24 105.25 L509.56 114.68 L509.89 125.23 L510.21 133.22 L510.54 138.16 L510.86 140.63 L511.19 141.73 L511.51 142.25 L511.84 142.39 L512.16 142.52 L512.49 142.75 L512.81 142.73 L513.14 142.88 L513.46 142.97 L513.79 143.11 L514.11 142.93 L514.44 142.99 L514.76 143.08 L515.09 143.11 L515.41 143.18 L515.74 143.09 L516.06 143.14 L516.39 143.12 L516.71 143.15 L517.04 143.26 L517.36 143.28 L517.69 143.17 L518.01 143.3 L518.34 143.19 L518.66 143.16 L518.99 143.3 L519.31 143.18 L519.64 143.23 L519.96 143.2 L520.29 143.27 L520.61 143.24 L520.94 143.22 L521.26 143.14 L521.59 143.2 L521.91 143.22 L522.24 143.33 L522.56 143.24 L522.89 143.3 L523.21 143.26 L523.54 143.24 L523.86 143.2 L524.19 143.23 L524.52 143.25 L524.84 143.27 L525.17 143.19 L525.49 143.32 L525.82 143.27 L526.14 143.19 L526.47 143.28 L526.79 143.22 L527.12 143.22 L527.44 143.16 L527.77 143.21 L528.09 143.38 L528.42 143.28 L528.74 143.26 L529.07 143.23 L529.39 143.26 L529.72 143.17 L530.04 143.22 L530.37 143.35 L530.69 143.32 L531.02 143.41 L531.34 143.18 L531.67 143.29 L531.99 143.3 L532.32 143.38 L532.64 143.32 L532.97 143.26 L533.29 143.32 L533.62 143.32 L533.94 143.33 L534.27 143.17 L534.59 143.33 L534.92 143.38 L535.24 143.33 L535.57 143.32 L535.89 143.3 L536.22 143.31 L536.54 143.37 L536.87 143.31 L537.19 143.28 L537.52 143.38 L537.84 143.18 L538.17 143.2 L538.49 143.41 L538.82 143.32 L539.14 143.24 L539.47 143.22 L539.79 143.19 L540.12 143.41 L540.45 143.37 L540.77 143.33 L541.1 143.27 L541.42 143.37 L541.75 143.28 L542.07 143.27 L542.4 143.26 L542.72 143.38 L543.05 143.29 L543.37 143.3 L543.7 143.33 L544.02 143.22 L544.35 143.32 L544.67 143.21 L545 143.34 L545.32 143.2 L545.65 143.2 L545.97 143.35 L546.3 143.28 L546.62 143.28 L546.95 143.36 L547.27 143.25 L547.6 143.26 L547.92 143.35 L548.25 143.29 L548.57 143.25 L548.9 143.31 L549.22 143.34 L549.55 143.2 L549.87 143.36 L550.2 143.28 L550.52 143.23 L550.85 143.25 L551.17 143.41 L551.5 143.32 L551.82 143.31 L552.15 143.31 L552.47 143.26 L552.8 143.26 L553.12 143.29 L553.45 143.28 L553.77 143.24 L554.1 143.22 L554.42 143.41 L554.75 143.16 L555.07 143.33 L555.4 143.25 L555.73 143.4 L556.05 143.33 L556.38 143.37 L556.7 143.23 L557.03 143.24 L557.35 143.3 L557.68 143.31 L558 143.27 L558.33 143.35 L558.65 143.33 L558.98 143.34 L559.3 143.25 L559.63 143.29 L559.95 143.37 L560.28 143.27 L560.6 143.26 L560.93 143.21 L561.25 143.33 L561.58 143.27 L561.9 143.17 L562.23 143.32 L562.55 143.32 L562.88 143.26 L563.2 143.33 L563.53 143.3 L563.85 143.33 L564.18 143.34 L564.5 143.24 L564.83 143.32 L565.15 143.36 L565.48 143.31 L565.8 143.3 L566.13 143.28 L566.45 143.24 L566.78 143.19 L567.1 143.37 L567.43 143.31 L567.75 143.41 L568.08 143.28 L568.4 143.26 L568.73 143.34 L569.05 143.35 L569.38 143.36 L569.7 143.39 L570.03 143.26 L570.35 143.18 L570.68 143.37 L571 143.2 L571.33 143.3 L571.66 143.38 L571.98 143.26 L572.31 143.25 L572.63 143.27 L572.96 143.31 L573.28 143.2 L573.61 143.32 L573.93 143.26 L574.26 143.26 L574.58 143.35 L574.91 143.41 L575.23 143.4 L575.56 143.32 L575.88 143.28 L576.21 143.41 L576.53 143.34 L576.86 143.2 L577.18 143.41 L577.51 143.27 L577.83 143.28 L578.16 143.25 L578.48 143.39 L578.81 143.28 L579.13 143.38 L579.46 143.22 L579.78 143.35 L580.11 143.27 L580.43 143.34 L580.76 143.29 L581.08 143.39 L581.41 143.28 L581.73 143.26 L582.06 143.29 L582.38 143.2 L582.71 143.27 L583.03 143.24 L583.36 143.26 L583.68 143.18 L584.01 143.33 L584.33 143.3 L584.66 143.3 L584.98 143.25 L585.31 143.27 L585.63 143.23 L585.96 143.26 L586.28 143.3 L586.61 143.26 L586.94 143.21 L587.26 143.34 L587.59 143.05 L587.91 143.07 L588.24 142.92 L588.56 142.72 L588.89 142.59 L589.21 142.54 L589.54 142.41 L589.86 142.35 L590.19 142.48 L590.51 142.62 L590.84 142.89 L591.16 143.02 L591.49 143.05 L591.81 143.09 L592.14 143.22 L592.46 143.31 L592.79 143.38 L593.11 143.18 L593.44 143.36 L593.76 143.25 L594.09 143.22 L594.41 143.08 L594.74 143.27 L595.06 143.29 L595.39 143.25 L595.71 143.25 L596.04 143.2 L596.36 143.24 L596.69 143.33 L597.01 143.41 L597.34 143.26 L597.66 143.32 L597.99 143.19 L598.31 143.36 L598.64 143.27 L598.96 143.32 L599.29 143.33 L599.61 143.17 L599.94 143.27 L600.26 143.29 L600.59 143.23 L600.91 143.32 L601.24 143.29 L601.56 143.31 L601.89 143.14 L602.21 143.24 L602.54 143.22 L602.87 143.19 L603.19 143.26 L603.52 143.24 L603.84 143.3 L604.17 143.12 L604.49 143.06 L604.82 142.98 L605.14 142.73 L605.47 142.75 L605.79 142.46 L606.12 142.48 L606.44 142.45 L606.77 142.46 L607.09 142.5 L607.42 142.82 L607.74 142.96 L608.07 143.1 L608.39 142.99 L608.72 143.14 L609.04 143.17 L609.37 143.09 L609.69 143.21 L610.02 143.36 L610.34 143.26 L610.67 143.3 L610.99 143.09 L611.32 143.31 L611.64 143.19 L611.97 143.24 L612.29 143.23 L612.62 143.19 L612.94 143.19 L613.27 143.22 L613.59 143.24 L613.92 143.19 L614.24 143.19 L614.57 143.16 L614.89 143.07 L615.22 143.05 L615.54 142.97 L615.87 142.96 L616.19 142.76 L616.52 142.81 L616.84 142.62 L617.17 142.04 L617.49 141.1 L617.82 138.89 L618.15 135.17 L618.47 130.31 L618.8 125.52 L619.12 122.84 L619.45 123.86 L619.77 127.92 L620.1 133.07 L620.42 137.38 L620.75 140.31 L621.07 141.76 L621.4 142.46 L621.72 142.67 L622.05 142.79 L622.37 142.96 L622.7 143.01 L623.02 143.1 L623.35 143.15 L623.67 143.12 L624 143.09 L624.32 143.11 L624.65 143.12 L624.97 143.19 L625.3 143.36 L625.62 143.14 L625.95 143.12 L626.27 143.16 L626.6 143.17 L626.92 143.16 L627.25 143.07 L627.57 143.22 L627.9 143.14 L628.22 143.2 L628.55 143.21 L628.87 143.26 L629.2 143.28 L629.52 143.33 L629.85 143.22 L630.17 143.28 L630.5 143.34 L630.82 143.31 L631.15 143.34 L631.47 143.17 L631.8 143.29 L632.12 143.26 L632.45 143.35 L632.77 143.34 L633.1 143.21 L633.42 143.29 L633.75 143.26 L634.08 143.16 L634.4 143.15 L634.73 143.24 L635.05 143.25 L635.38 143.27 L635.7 143.3 L636.03 143.15 L636.35 143.36 L636.68 143.29 L637 143.4 L637.33 143.36 L637.65 143.26 L637.98 143.25 L638.3 143.26 L638.63 143.3 L638.95 143.33 L639.28 143.32 L639.6 143.31 L639.93 143.21 L640.25 143.19 L640.58 143.25 L640.9 143.31 L641.23 143.34 L641.55 143.26 L641.88 143.29 L642.2 143.39 L642.53 143.19 L642.85 143.27 L643.18 143.28 L643.5 143.3 L643.83 143.27 L644.15 143.11 L644.48 143.15 L644.8 142.98 L645.13 142.83 L645.45 142.64 L645.78 142.63 L646.1 142.64 L646.43 142.7 L646.75 142.71 L647.08 142.81 L647.4 143.02 L647.73 143.06 L648.05 143.18 L648.38 143.32 L648.7 143.31 L649.03 143.21 L649.36 143.18 L649.68 143.23 L650.01 143.29 L650.33 143.33 L650.66 143.25 L650.98 143.26 L651.31 143.39 L651.63 143.24 L651.96 143.33 L652.28 143.25 L652.61 143.25 L652.93 143.24 L653.26 143.22 L653.58 143.24 L653.91 143.35 L654.23 143.35 L654.56 143.22 L654.88 143.26 L655.21 143.39 L655.53 143.41 L655.86 143.23 L656.18 143.15 L656.51 143.24 L656.83 143.3 L657.16 143.27 L657.48 143.46 L657.81 143.35 L658.13 143.22 L658.46 143.23 L658.78 143.41 L659.11 143.2 L659.43 143.24 L659.76 143.2 L660.08 143.26 L660.41 143.21 L660.73 143.23 L661.06 143.07 L661.38 142.95 L661.71 142.97 L662.03 142.81 L662.36 142.83 L662.68 142.74 L663.01 142.8 L663.33 143.09 L663.66 143.01 L663.98 143.05 L664.31 143.22 L664.63 143.24 L664.96 143.26 L665.29 143.34 L665.61 143.28 L665.94 143.18 L666.26 143.25 L666.59 143.19 L666.91 143.23 L667.24 143.21 L667.56 143.28 L667.89 143.24 L668.21 143.16 L668.54 143.2 L668.86 143.27 L669.19 143.34 L669.51 143.35 L669.84 143.28 L670.16 143.27 L670.49 143.41 L670.81 143.28 L671.14 143.27 L671.46 143.28 L671.79 143.33 L672.11 143.15 L672.44 143.24 L672.76 143.38 L673.09 143.34 L673.41 143.25 L673.74 143.26 L674.06 143.29 L674.39 143.3 L674.71 143.31 L675.04 143.32 L675.36 143.36 L675.69 143.26 L676.01 143.47 L676.34 143.34 L676.66 143.22 L676.99 143.35 L677.31 143.37 L677.64 143.18 L677.96 143.23 L678.29 143.31 L678.61 143.33 L678.94 143.31 L679.26 143.32 L679.59 143.31 L679.91 143.34 L680.24 143.26 L680.57 143.33 L680.89 143.41 L681.22 143.38 L681.54 143.3 L681.87 143.36 L682.19 143.45 L682.52 143.2 L682.84 143.27 L683.17 143.33 L683.49 143.33 L683.82 143.27 L684.14 143.21 L684.47 143.34 L684.79 143.27 L685.12 143.34 L685.44 143.28 L685.77 143.37 L686.09 143.41 L686.42 143.29 L686.74 143.3 L687.07 143.25 L687.39 143.34 L687.72 143.21 L688.04 143.29 L688.37 143.2 L688.69 143.31 L689.02 143.2 L689.34 143.29 L689.67 143.28 L689.99 143.22 L690.32 143.39 L690.64 143.34 L690.97 143.15 L691.29 143.34 L691.62 143.25 L691.94 143.13 L692.27 142.98 L692.59 142.98 L692.92 142.79 L693.24 142.7 L693.57 142.51 L693.89 142.35 L694.22 142.4 L694.54 142.51 L694.87 142.62 L695.19 142.8 L695.52 142.95 L695.84 143.11 L696.17 143.23 L696.5 143.18 L696.82 143.32 L697.15 143.2 L697.47 143.14 L697.8 143.19 L698.12 143.14 L698.45 143.35 L698.77 143.27 L699.1 143.34 L699.42 143.34 L699.75 143.4 L700.07 143.37 L700.4 143.24 L700.72 143.25 L701.05 143.22 L701.37 143.22 L701.7 143.25 L702.02 143.34 L702.35 143.3 L702.67 143.25 L703 143.22 L703.32 143.32 L703.65 143.33 L703.97 143.32 L704.3 143.2 L704.62 143.26 L704.95 143.31 L705.27 143.34 L705.6 143.27 L705.92 143.4 L706.25 143.31 L706.57 143.33 L706.9 143.33 L707.22 143.28 L707.55 143.27 L707.87 143.1 L708.2 143.29 L708.52 143.25 L708.85 143.34 L709.17 143.39 L709.5 143.22 L709.82 143.17 L710.15 143.35 L710.47 143.28 L710.8 143.2 L711.12 143.25 L711.45 143.38 L711.78 143.13 L712.1 143.15 L712.43 143.02 L712.75 143.05 L713.08 142.88 L713.4 142.84 L713.73 142.95 L714.05 142.91 L714.38 143.05 L714.7 143.11 L715.03 143.21 L715.35 143.23 L715.68 143.28 L716 143.19 L716.33 143.29 L716.65 143.35 L716.98 143.2 L717.3 143.25 L717.63 143.23 L717.95 143.29 L718.28 143.25 L718.6 143.3 L718.93 143.35 L719.25 143.29 L719.58 143.28 L719.9 143.28 L720.23 143.24 L720.55 143.4 L720.88 143.27 L721.2 143.34 L721.53 143.31 L721.85 143.27 L722.18 143.29 L722.5 143.33 L722.83 143.25 L723.15 143.3 L723.48 143.24 L723.8 143.22 L724.13 143.31 L724.45 143.36 L724.78 143.29 L725.1 143.24 L725.43 143.27 L725.75 143.36 L726.08 143.4 L726.4 143.35 L726.73 143.35 L727.05 143.25 L727.38 143.29 L727.71 143.24 L728.03 143.29 L728.36 143.19 L728.68 143.29 L729.01 143.25 L729.33 143.31 L729.66 143.26 L729.98 143.22 L730.31 143.23 L730.63 143.2 L730.96 143.31 L731.28 143.23 L731.61 143.14 L731.93 143.2 L732.26 143.17 L732.58 143.1 L732.91 143.02 L733.23 142.86 L733.56 142.67 L733.88 142.64 L734.21 142.65 L734.53 142.73 L734.86 142.84 L735.18 142.74 L735.51 143.03 L735.83 143.09 L736.16 143.2 L736.48 143.21 L736.81 143.27 L737.13 143.26 L737.46 143.18 L737.78 143.32 L738.11 143.25 L738.43 143.29 L738.76 143.24 L739.08 143.33 L739.41 143.26 L739.73 143.35 L740.06 143.4 L740.38 143.37 L740.71 143.35 L741.03 143.36 L741.36 143.31 L741.68 143.23 L742.01 143.36 L742.33 143.27 L742.66 143.29 L742.99 143.34 L743.31 143.35 L743.64 143.27 L743.96 143.27 L744.29 143.32 L744.61 143.31 L744.94 143.3 L745.26 143.38 L745.59 143.29 L745.91 143.28 L746.24 143.19 L746.56 143.37 L746.89 143.35 L747.21 143.29 L747.54 143.33 L747.86 143.32 L748.19 143.3 L748.51 143.32 L748.84 143.3 L749.16 143.27 L749.49 143.4 L749.81 143.26 L750.14 143.43 L750.46 143.2 L750.79 143.24 L751.11 143.33 L751.44 143.24 L751.76 143.31 L752.09 143.27 L752.41 143.25 L752.74 143.28 L753.06 143.3 L753.39 143.26 L753.71 143.31 L754.04 143.32 L754.36 143.35 L754.69 143.41 L755.01 143.2 L755.34 143.25 L755.66 143.38 L755.99 143.27 L756.31 143.29 L756.64 143.43 L756.96 143.35 L757.29 143.3 L757.61 143.19 L757.94 143.23 L758.26 143.22 L758.59 143.28 L758.92 143.24 L759.24 143.37 L759.57 143.26 L759.89 143.25 L760.22 143.37 L760.54 143.28 L760.87 143.21 L761.19 143.18 L761.52 143.21 L761.84 143.34 L762.17 143.3 L762.49 143.33 L762.82 143.22 L763.14 143.35 L763.47 143.36 L763.79 143.39 L764.12 143.28 L764.44 143.27 L764.77 143.33 L765.09 143.34 L765.42 143.31 L765.74 143.22 L766.07 143.38 L766.39 143.3 L766.72 143.28 L767.04 143.27 L767.37 143.22 L767.69 143.25 L768.02 143.28 L768.34 143.21 L768.67 143.23 L768.99 143.28 L769.32 143.28 L769.64 143.37 L769.97 143.29 L770.29 143.34 L770.62 143.36 L770.94 143.31 L771.27 143.4 L771.59 143.35 L771.92 143.33 L772.24 143.28 L772.57 143.32 L772.89 143.27 L773.22 143.2 L773.54 143.25 L773.87 143.37 L774.2 143.4 L774.52 143.35 L774.85 143.35 L775.17 143.42 L775.5 143.4 L775.82 143.4 L776.15 143.33 L776.47 143.21 L776.8 143.2 L777.12 143.36 L777.45 143.33 L777.77 143.38 L778.1 143.4 L778.42 143.3 L778.75 143.3 L779.07 143.34 L779.4 143.26 L779.72 143.32 L780.05 143.24 L780.37 143.33 L780.7 143.25 L781.02 143.31 L781.35 143.29 L781.67 143.26 L782 143.38 L782.32 143.35 L782.65 143.31 L782.97 143.32 L783.3 143.28 L783.62 143.35 L783.95 143.38 L784.27 143.31 L784.6 143.28 L784.92 143.35 L785.25 143.22 L785.57 143.25 L785.9 143.24 L786.22 143.23 L786.55 143.32 L786.87 143.11 L787.2 143.24 L787.52 143.13 L787.85 143.05 L788.17 143.02 L788.5 143 L788.82 143.05 L789.15 143.04 L789.47 143.06 L789.8 143.04 L790.13 143.21 L790.45 143.17 L790.78 143.22 L791.1 143.26 L791.43 143.31 L791.75 143.29 L792.08 143.39 L792.4 143.28 L792.73 143.27 L793.05 143.32 L793.38 143.25 L793.7 143.27 L794.03 143.33 L794.35 143.24 L794.68 143.32 L795 143.14 L795.33 143.35 L795.65 143.33 L795.98 143.32 L796.3 143.27 L796.63 143.21 L796.95 143.27 L797.28 143.3 L797.6 143.16 L797.93 143.21 L798.25 143.28 L798.58 143.25 L798.9 143.3 L799.23 143.16 L799.55 142.98 L799.88 143.04 L800.2 142.92 L800.53 142.69 L800.85 142.74 L801.18 142.46 L801.5 142.66 L801.83 142.7 L802.15 142.8 L802.48 142.85 L802.8 143.02 L803.13 143.25 L803.45 143.3 L803.78 143.23 L804.1 143.38 L804.43 143.29 L804.75 143.33 L805.08 143.23 L805.41 143.21 L805.73 143.44 L806.06 143.26 L806.38 143.25 L806.71 143.34 L807.03 143.33 L807.36 143.36 L807.68 143.31 L808.01 143.27 L808.33 143.21 L808.66 143.21 L808.98 143.31 L809.31 143.35 L809.63 143.24 L809.96 143.46 L810.28 143.38 L810.61 143.26 L810.93 143.16 L811.26 143.35 L811.58 143.29 L811.91 143.37 L812.23 143.3 L812.56 143.3 L812.88 143.34 L813.21 143.28 L813.53 143.31 L813.86 143.27 L814.18 143.31 L814.51 143.37 L814.83 143.29 L815.16 143.25 L815.48 143.35 L815.81 143.22 L816.13 143.27 L816.46 143.32 L816.78 143.3 L817.11 143.32 L817.43 143.35 L817.76 143.24 L818.08 143.24 L818.41 143.33 L818.73 143.31 L819.06 143.31 L819.38 143.26 L819.71 143.21 L820.03 143.34 L820.36 143.28 L820.68 143.3 L821.01 143.27 L821.34 143.21 L821.66 143.35 L821.99 143.42 L822.31 143.31 L822.64 143.39 L822.96 143.2 L823.29 143.34 L823.61 143.32 L823.94 143.28 L824.26 143.29 L824.59 143.32 L824.91 143.3 L825.24 143.24 L825.56 143.32 L825.89 143.19 L826.21 143.28 L826.54 143.44 L826.86 143.24 L827.19 143.4 L827.51 143.28 L827.84 143.16 L828.16 143.23 L828.49 143.37 L828.81 143.35 L829.14 143.3 L829.46 143.21 L829.79 143.34 L830.11 143.23 L830.44 143.28 L830.76 143.3 L831.09 143.31 L831.41 143.2 L831.74 143.39 L832.06 143.37 L832.39 143.24 L832.71 143.24 L833.04 143.38 L833.36 143.35 L833.69 143.37 L834.01 143.26 L834.34 143.34 L834.66 143.21 L834.99 143.25 L835.31 143.28 L835.64 143.29 L835.96 143.26 L836.29 143.25 L836.62 143.3 L836.94 143.28 L837.27 143.25 L837.59 143.3 L837.92 143.24 L838.24 143.31 L838.57 143.34 L838.89 143.29 L839.22 143.2 L839.54 143.21 L839.87 143.39 L840.19 143.28 L840.52 143.33 L840.84 143.32 L841.17 143.32 L841.49 143.31 L841.82 143.33 L842.14 143.31 L842.47 143.28 L842.79 143.37 L843.12 143.37 L843.44 143.36 L843.77 143.36 L844.09 143.26 L844.42 143.36 L844.74 143.3 L845.07 143.29 L845.39 143.25 L845.72 143.29 L846.04 143.23 L846.37 143.3 L846.69 143.28 L847.02 143.25 L847.34 143.38 L847.67 143.27 L847.99 143.2 L848.32 143.28 L848.64 143.3 L848.97 143.16 L849.29 143.26 L849.62 143.17 L849.94 143.35 L850.27 143.14 L850.59 143.1 L850.92 142.96 L851.24 142.82 L851.57 142.83 L851.89 142.81 L852.22 142.99 L852.55 142.84 L852.87 142.89 L853.2 143.05 L853.52 143.17 L853.85 143.18 L854.17 143.18 L854.5 143.22 L854.82 143.15 L855.15 143.32 L855.47 143.37 L855.8 143.26 L856.12 143.21 L856.45 143.32 L856.77 143.29 L857.1 143.33 L857.42 143.37 L857.75 143.34 L858.07 143.42 L858.4 143.28 L858.72 143.27 L859.05 143.24 L859.37 143.35 L859.7 143.34 L860.02 143.4 L860.35 143.38 L860.67 143.24 L861 143.13 L861.32 143.36 L861.65 143.32 L861.97 143.24 L862.3 143.34 L862.62 143.26 L862.95 143.32 L863.27 143.32 L863.6 143.24 L863.92 143.31 L864.25 143.37 L864.57 143.25 L864.9 143.3 L865.22 143.33 L865.55 143.35 L865.87 143.26 L866.2 143.34 L866.52 143.29 L866.85 143.24 L867.17 143.31 L867.5 143.23" fill="none" stroke="#0000ff" stroke-width="1.2" stroke-linejoin="round" stroke-linecap="round" />
<text x="793" y="133.2" font-size="11" text-anchor="start" fill="#2e2e2e" font-family="Liberation Sans, sans-serif" >0.07-MAPbBr<tspan font-size="7.48" dy="3.96" dx="0.66">3</tspan></text>
<path d="M477.7 186.17 L478.03 186.05 L478.35 186.06 L478.68 185.98 L479 186.09 L479.33 186.04 L479.65 186.1 L479.98 186.15 L480.3 186.14 L480.63 186.13 L480.95 186.04 L481.28 186.13 L481.6 186.09 L481.93 186.03 L482.25 186.01 L482.58 186.03 L482.9 186 L483.23 186.15 L483.55 186.11 L483.88 186.07 L484.2 186.02 L484.53 186.05 L484.85 186.13 L485.18 186.09 L485.5 186.18 L485.83 186.03 L486.15 186.19 L486.48 186.07 L486.8 186.01 L487.13 186.02 L487.45 186.17 L487.78 186.06 L488.1 186.09 L488.43 186.09 L488.75 185.96 L489.08 186.03 L489.4 186.12 L489.73 186.07 L490.05 185.92 L490.38 185.89 L490.7 185.9 L491.03 185.86 L491.35 185.73 L491.68 185.7 L492 185.64 L492.33 185.77 L492.65 185.76 L492.98 185.8 L493.31 186.03 L493.63 186.01 L493.96 185.92 L494.28 186.05 L494.61 186.04 L494.93 185.98 L495.26 186.09 L495.58 186.06 L495.91 186.13 L496.23 185.99 L496.56 186.04 L496.88 186 L497.21 186.09 L497.53 185.82 L497.86 185.76 L498.18 185.78 L498.51 185.61 L498.83 185.81 L499.16 185.7 L499.48 185.85 L499.81 185.65 L500.13 186.03 L500.46 185.99 L500.78 185.99 L501.11 185.9 L501.43 185.9 L501.76 185.92 L502.08 185.95 L502.41 185.79 L502.73 185.95 L503.06 185.86 L503.38 185.75 L503.71 185.9 L504.03 185.84 L504.36 185.69 L504.68 185.67 L505.01 185.72 L505.33 185.56 L505.66 185.34 L505.98 185.33 L506.31 185.04 L506.63 184.62 L506.96 183.61 L507.28 181.12 L507.61 176.58 L507.93 169.28 L508.26 160.43 L508.58 152.82 L508.91 150.11 L509.24 153.76 L509.56 161.88 L509.89 170.71 L510.21 177.47 L510.54 181.79 L510.86 183.83 L511.19 184.75 L511.51 185.16 L511.84 185.42 L512.16 185.52 L512.49 185.53 L512.81 185.67 L513.14 185.76 L513.46 185.66 L513.79 185.89 L514.11 185.78 L514.44 185.85 L514.76 185.97 L515.09 185.94 L515.41 185.96 L515.74 185.87 L516.06 185.91 L516.39 185.99 L516.71 186.05 L517.04 186.09 L517.36 186.01 L517.69 186.09 L518.01 186.03 L518.34 186.03 L518.66 186 L518.99 185.97 L519.31 186.03 L519.64 186.01 L519.96 186.05 L520.29 185.98 L520.61 186 L520.94 185.96 L521.26 185.97 L521.59 186.1 L521.91 186.15 L522.24 186.02 L522.56 186 L522.89 186.11 L523.21 185.98 L523.54 186.06 L523.86 186.08 L524.19 186.05 L524.52 186.16 L524.84 186.17 L525.17 186.1 L525.49 186.15 L525.82 186.08 L526.14 186.08 L526.47 186.24 L526.79 186.13 L527.12 186.05 L527.44 186.22 L527.77 186.11 L528.09 186.17 L528.42 186.2 L528.74 186.02 L529.07 186.02 L529.39 186.11 L529.72 186.12 L530.04 186.01 L530.37 186.02 L530.69 186.09 L531.02 186.04 L531.34 186.09 L531.67 186.11 L531.99 186.06 L532.32 186.12 L532.64 186.06 L532.97 186.11 L533.29 186.12 L533.62 186.13 L533.94 186.07 L534.27 186.04 L534.59 186.07 L534.92 186.15 L535.24 186.06 L535.57 186.15 L535.89 186.16 L536.22 186.11 L536.54 186.05 L536.87 186.06 L537.19 186.06 L537.52 186.01 L537.84 186.05 L538.17 186.12 L538.49 186.05 L538.82 186.11 L539.14 186.07 L539.47 186.06 L539.79 186.1 L540.12 186.19 L540.45 186.11 L540.77 186.12 L541.1 186.1 L541.42 186.12 L541.75 186.17 L542.07 186.19 L542.4 186.06 L542.72 186.05 L543.05 186.08 L543.37 186.1 L543.7 185.98 L544.02 186.06 L544.35 186.1 L544.67 186.05 L545 186.1 L545.32 186.06 L545.65 186.08 L545.97 186.07 L546.3 186.09 L546.62 186.12 L546.95 186.07 L547.27 186.03 L547.6 186.15 L547.92 186.13 L548.25 186.16 L548.57 186.04 L548.9 186.11 L549.22 186.04 L549.55 186.14 L549.87 186.05 L550.2 186.13 L550.52 186.12 L550.85 186.07 L551.17 186.12 L551.5 186.13 L551.82 186.04 L552.15 186.1 L552.47 186.02 L552.8 185.95 L553.12 186.13 L553.45 186.12 L553.77 186.19 L554.1 186.17 L554.42 186.06 L554.75 186.08 L555.07 186.08 L555.4 186.07 L555.73 186.15 L556.05 186.2 L556.38 186.03 L556.7 186.08 L557.03 186.03 L557.35 186.1 L557.68 186.05 L558 186.13 L558.33 186.1 L558.65 186.11 L558.98 186.08 L559.3 186.01 L559.63 186.06 L559.95 186.27 L560.28 186.1 L560.6 186.1 L560.93 186.05 L561.25 186.09 L561.58 186.14 L561.9 186.14 L562.23 186.12 L562.55 186.14 L562.88 186.01 L563.2 186.06 L563.53 186.09 L563.85 186.04 L564.18 185.97 L564.5 186.11 L564.83 186.1 L565.15 186.11 L565.48 186.17 L565.8 186.13 L566.13 186.15 L566.45 186.07 L566.78 186.07 L567.1 186.04 L567.43 186.14 L567.75 186.04 L568.08 186.15 L568.4 186.11 L568.73 186.02 L569.05 186.02 L569.38 186.03 L569.7 185.97 L570.03 186.03 L570.35 186.11 L570.68 186.11 L571 186.14 L571.33 186.08 L571.66 186.14 L571.98 186.13 L572.31 186.15 L572.63 186.2 L572.96 185.95 L573.28 186.04 L573.61 186.22 L573.93 186.07 L574.26 186.13 L574.58 186.22 L574.91 186.11 L575.23 186.08 L575.56 186.06 L575.88 186.03 L576.21 186.14 L576.53 186.1 L576.86 186.05 L577.18 186.06 L577.51 186.07 L577.83 186.09 L578.16 186.02 L578.48 186.17 L578.81 186.18 L579.13 185.99 L579.46 186.07 L579.78 186.03 L580.11 186.08 L580.43 186.11 L580.76 186.12 L581.08 186.08 L581.41 186.12 L581.73 186.09 L582.06 186.09 L582.38 186.04 L582.71 186.04 L583.03 185.99 L583.36 186.13 L583.68 186.09 L584.01 186.03 L584.33 186.06 L584.66 186.22 L584.98 186.06 L585.31 186.08 L585.63 186.1 L585.96 186.09 L586.28 186.1 L586.61 185.98 L586.94 185.99 L587.26 185.98 L587.59 185.86 L587.91 185.77 L588.24 185.74 L588.56 185.59 L588.89 185.43 L589.21 185.2 L589.54 185.19 L589.86 185.15 L590.19 185.3 L590.51 185.5 L590.84 185.73 L591.16 185.81 L591.49 185.77 L591.81 186.01 L592.14 186.06 L592.46 186.05 L592.79 185.97 L593.11 186.06 L593.44 186.13 L593.76 186.1 L594.09 186.08 L594.41 186.07 L594.74 186.01 L595.06 185.93 L595.39 185.99 L595.71 186.04 L596.04 186.08 L596.36 186.12 L596.69 186.04 L597.01 186 L597.34 186.03 L597.66 186.08 L597.99 186.04 L598.31 186.09 L598.64 186.08 L598.96 186.09 L599.29 186.07 L599.61 186.08 L599.94 186.01 L600.26 186.07 L600.59 186.08 L600.91 186.01 L601.24 186.03 L601.56 186 L601.89 186.11 L602.21 185.98 L602.54 186.06 L602.87 186.11 L603.19 186.05 L603.52 186.1 L603.84 186.06 L604.17 185.97 L604.49 185.81 L604.82 185.83 L605.14 185.59 L605.47 185.45 L605.79 185.2 L606.12 185.18 L606.44 185.14 L606.77 185.16 L607.09 185.44 L607.42 185.56 L607.74 185.78 L608.07 185.87 L608.39 185.9 L608.72 185.98 L609.04 185.98 L609.37 186.04 L609.69 186.07 L610.02 186.04 L610.34 186.08 L610.67 186.09 L610.99 186.12 L611.32 186.03 L611.64 186 L611.97 186.09 L612.29 186.04 L612.62 186.14 L612.94 186.07 L613.27 185.99 L613.59 186.05 L613.92 185.94 L614.24 185.97 L614.57 185.91 L614.89 185.94 L615.22 185.96 L615.54 185.84 L615.87 185.75 L616.19 185.76 L616.52 185.61 L616.84 185.5 L617.17 185.07 L617.49 184.06 L617.82 182.24 L618.15 179.07 L618.47 174.66 L618.8 170.47 L619.12 168.22 L619.45 169.01 L619.77 172.74 L620.1 177.02 L620.42 180.77 L620.75 183.37 L621.07 184.81 L621.4 185.23 L621.72 185.42 L622.05 185.66 L622.37 185.83 L622.7 185.86 L623.02 185.87 L623.35 185.89 L623.67 185.85 L624 185.91 L624.32 186.09 L624.65 186 L624.97 186 L625.3 185.89 L625.62 186.04 L625.95 186.1 L626.27 186.04 L626.6 186.02 L626.92 186.14 L627.25 185.98 L627.57 186.05 L627.9 186 L628.22 186.01 L628.55 186.03 L628.87 185.98 L629.2 185.97 L629.52 186.09 L629.85 186.07 L630.17 186.01 L630.5 186.06 L630.82 186.11 L631.15 186.07 L631.47 186.12 L631.8 186.1 L632.12 186.28 L632.45 186.07 L632.77 185.97 L633.1 186.04 L633.42 186.04 L633.75 186.07 L634.08 186.12 L634.4 186.05 L634.73 186.08 L635.05 186.09 L635.38 186.07 L635.7 186.12 L636.03 186.08 L636.35 186.05 L636.68 186.03 L637 186.08 L637.33 186.04 L637.65 186.07 L637.98 186.22 L638.3 186.2 L638.63 186.1 L638.95 186.15 L639.28 186.05 L639.6 186.16 L639.93 186.11 L640.25 186.12 L640.58 186.13 L640.9 186.12 L641.23 186.08 L641.55 186.07 L641.88 186.11 L642.2 186.07 L642.53 186.04 L642.85 186.08 L643.18 186.1 L643.5 186.08 L643.83 186.04 L644.15 186 L644.48 185.88 L644.8 185.63 L645.13 185.6 L645.45 185.55 L645.78 185.44 L646.1 185.41 L646.43 185.4 L646.75 185.48 L647.08 185.73 L647.4 185.66 L647.73 185.94 L648.05 185.96 L648.38 186.06 L648.7 186.14 L649.03 186.17 L649.36 185.95 L649.68 185.99 L650.01 186.14 L650.33 186.14 L650.66 185.99 L650.98 186.14 L651.31 186.06 L651.63 185.96 L651.96 186.04 L652.28 186 L652.61 186.07 L652.93 186.19 L653.26 186.13 L653.58 186.19 L653.91 186.07 L654.23 186.16 L654.56 186.08 L654.88 186.12 L655.21 186.13 L655.53 186.06 L655.86 186.12 L656.18 186.14 L656.51 186.03 L656.83 186.09 L657.16 186.17 L657.48 186.02 L657.81 186.17 L658.13 186.07 L658.46 186.05 L658.78 186.1 L659.11 186.13 L659.43 186.09 L659.76 186.08 L660.08 186.11 L660.41 185.96 L660.73 186 L661.06 185.93 L661.38 185.72 L661.71 185.76 L662.03 185.73 L662.36 185.6 L662.68 185.61 L663.01 185.66 L663.33 185.62 L663.66 185.87 L663.98 185.84 L664.31 185.93 L664.63 185.94 L664.96 186.06 L665.29 186.09 L665.61 186.09 L665.94 186.06 L666.26 186.03 L666.59 185.99 L666.91 186.19 L667.24 186.02 L667.56 186.07 L667.89 186.09 L668.21 186.15 L668.54 186.07 L668.86 186.2 L669.19 186.02 L669.51 186.15 L669.84 186.1 L670.16 186.1 L670.49 186.06 L670.81 186.17 L671.14 186.04 L671.46 186.07 L671.79 186 L672.11 186.08 L672.44 186.1 L672.76 186.21 L673.09 186.12 L673.41 186 L673.74 186.12 L674.06 186.12 L674.39 186.1 L674.71 186.04 L675.04 186.2 L675.36 185.99 L675.69 186.06 L676.01 186.05 L676.34 186.09 L676.66 185.98 L676.99 186.12 L677.31 186.05 L677.64 186.09 L677.96 186.17 L678.29 186.1 L678.61 186.05 L678.94 186.11 L679.26 186.12 L679.59 186.09 L679.91 186.15 L680.24 186.16 L680.57 186.09 L680.89 186.15 L681.22 186.06 L681.54 186.05 L681.87 186.02 L682.19 186.04 L682.52 186.11 L682.84 186.07 L683.17 186.16 L683.49 186.07 L683.82 186.12 L684.14 186.01 L684.47 186.13 L684.79 186.08 L685.12 186.14 L685.44 186.05 L685.77 186.05 L686.09 186.15 L686.42 185.97 L686.74 186.06 L687.07 186.17 L687.39 186.14 L687.72 186.2 L688.04 186.21 L688.37 186.09 L688.69 186.21 L689.02 186.06 L689.34 186.18 L689.67 186.1 L689.99 185.98 L690.32 186.1 L690.64 186.07 L690.97 185.99 L691.29 186.06 L691.62 185.98 L691.94 186 L692.27 185.89 L692.59 185.74 L692.92 185.59 L693.24 185.47 L693.57 185.27 L693.89 185.17 L694.22 185.17 L694.54 185.3 L694.87 185.5 L695.19 185.57 L695.52 185.71 L695.84 185.94 L696.17 186.1 L696.5 186.03 L696.82 185.99 L697.15 186.01 L697.47 186.14 L697.8 186 L698.12 186.13 L698.45 186.03 L698.77 186.11 L699.1 186.03 L699.42 186.06 L699.75 186.1 L700.07 186.05 L700.4 186.13 L700.72 186.11 L701.05 186.11 L701.37 186.14 L701.7 186.04 L702.02 186.04 L702.35 186.09 L702.67 186.15 L703 186.07 L703.32 186.08 L703.65 186.06 L703.97 186.1 L704.3 186.11 L704.62 186.01 L704.95 186.13 L705.27 186.11 L705.6 186.2 L705.92 186.12 L706.25 186.12 L706.57 186.12 L706.9 186.06 L707.22 186.13 L707.55 186.07 L707.87 186.12 L708.2 186.12 L708.52 186.2 L708.85 186.07 L709.17 186.06 L709.5 186.15 L709.82 186.13 L710.15 186.2 L710.47 186.11 L710.8 186.14 L711.12 186.04 L711.45 186.05 L711.78 185.96 L712.1 185.99 L712.43 185.98 L712.75 185.81 L713.08 185.78 L713.4 185.6 L713.73 185.7 L714.05 185.67 L714.38 185.79 L714.7 185.91 L715.03 186.05 L715.35 186.02 L715.68 186.01 L716 186.06 L716.33 186.06 L716.65 186.07 L716.98 186.17 L717.3 186.08 L717.63 186.14 L717.95 186.1 L718.28 186.02 L718.6 186.21 L718.93 186.11 L719.25 186.08 L719.58 186.04 L719.9 186.1 L720.23 186.15 L720.55 186.05 L720.88 186.07 L721.2 186.2 L721.53 186.1 L721.85 186.2 L722.18 186.26 L722.5 186.16 L722.83 186.16 L723.15 186.23 L723.48 185.99 L723.8 186.18 L724.13 186.08 L724.45 186.06 L724.78 185.97 L725.1 186.12 L725.43 186 L725.75 186.16 L726.08 186.1 L726.4 186.12 L726.73 186.16 L727.05 186.08 L727.38 185.98 L727.71 185.97 L728.03 186.05 L728.36 186.16 L728.68 186.14 L729.01 186.05 L729.33 186.06 L729.66 186.05 L729.98 186.1 L730.31 186.14 L730.63 186.05 L730.96 186.08 L731.28 185.98 L731.61 186.09 L731.93 185.97 L732.26 185.89 L732.58 185.77 L732.91 185.67 L733.23 185.73 L733.56 185.63 L733.88 185.47 L734.21 185.5 L734.53 185.63 L734.86 185.48 L735.18 185.66 L735.51 185.74 L735.83 185.89 L736.16 185.91 L736.48 186.01 L736.81 186.04 L737.13 185.95 L737.46 186.15 L737.78 186.05 L738.11 186.18 L738.43 186 L738.76 186.1 L739.08 186.16 L739.41 186.2 L739.73 186.1 L740.06 185.97 L740.38 186.06 L740.71 186.19 L741.03 186.22 L741.36 185.92 L741.68 186.13 L742.01 186.18 L742.33 186.09 L742.66 186.06 L742.99 186 L743.31 186.11 L743.64 186.14 L743.96 186.06 L744.29 186.15 L744.61 186.08 L744.94 186.09 L745.26 186.04 L745.59 186.14 L745.91 186.14 L746.24 186.08 L746.56 186.07 L746.89 186.19 L747.21 186.15 L747.54 186.09 L747.86 186.12 L748.19 185.96 L748.51 186.06 L748.84 186.02 L749.16 186.1 L749.49 186.09 L749.81 186.09 L750.14 186.04 L750.46 186.12 L750.79 186 L751.11 186.14 L751.44 186.04 L751.76 186.08 L752.09 186.12 L752.41 186 L752.74 186.04 L753.06 186.11 L753.39 186.15 L753.71 186.05 L754.04 186.15 L754.36 186.07 L754.69 186.15 L755.01 186.09 L755.34 186.15 L755.66 186.11 L755.99 186 L756.31 185.99 L756.64 186.13 L756.96 186.12 L757.29 186.2 L757.61 186.08 L757.94 186.03 L758.26 186.15 L758.59 186.15 L758.92 186.08 L759.24 186.13 L759.57 186.09 L759.89 186.01 L760.22 186.07 L760.54 186.06 L760.87 185.99 L761.19 186.08 L761.52 186.06 L761.84 186.1 L762.17 186.14 L762.49 186 L762.82 186.18 L763.14 186.09 L763.47 186.17 L763.79 186.15 L764.12 186.18 L764.44 186.11 L764.77 186.07 L765.09 186.02 L765.42 186.21 L765.74 186.09 L766.07 186.12 L766.39 186.14 L766.72 186.11 L767.04 186.09 L767.37 186.11 L767.69 186.1 L768.02 185.97 L768.34 186.09 L768.67 186.08 L768.99 186.17 L769.32 186.03 L769.64 186.13 L769.97 186.1 L770.29 186.15 L770.62 186.1 L770.94 186.15 L771.27 186.18 L771.59 186.18 L771.92 186.12 L772.24 186.1 L772.57 186.06 L772.89 186 L773.22 185.99 L773.54 186.14 L773.87 186.14 L774.2 186.05 L774.52 186.15 L774.85 186.03 L775.17 186.04 L775.5 186.15 L775.82 186.05 L776.15 186.01 L776.47 186.07 L776.8 186.11 L777.12 186.11 L777.45 186.07 L777.77 186.14 L778.1 186.08 L778.42 186.11 L778.75 186.14 L779.07 186.15 L779.4 186.06 L779.72 186.15 L780.05 186.08 L780.37 186.21 L780.7 186.11 L781.02 186.09 L781.35 186.07 L781.67 186.04 L782 186.06 L782.32 186.06 L782.65 186.11 L782.97 186.15 L783.3 186.16 L783.62 186.14 L783.95 186.08 L784.27 186.03 L784.6 186.07 L784.92 186.08 L785.25 186.04 L785.57 186.1 L785.9 186.07 L786.22 186.08 L786.55 186.04 L786.87 186.04 L787.2 186.07 L787.52 185.97 L787.85 185.94 L788.17 185.74 L788.5 185.72 L788.82 185.83 L789.15 185.87 L789.47 185.86 L789.8 186 L790.13 185.89 L790.45 186.01 L790.78 186.07 L791.1 186 L791.43 186 L791.75 186.07 L792.08 186.02 L792.4 186.19 L792.73 186.13 L793.05 186.14 L793.38 186.19 L793.7 186.04 L794.03 185.95 L794.35 186.17 L794.68 186.12 L795 186.03 L795.33 186.11 L795.65 186.09 L795.98 186.13 L796.3 186.07 L796.63 186.14 L796.95 186.04 L797.28 186.05 L797.6 186.06 L797.93 186.12 L798.25 186.08 L798.58 186.02 L798.9 186.07 L799.23 186.02 L799.55 186.02 L799.88 185.8 L800.2 185.65 L800.53 185.45 L800.85 185.47 L801.18 185.44 L801.5 185.3 L801.83 185.4 L802.15 185.66 L802.48 185.76 L802.8 185.96 L803.13 185.94 L803.45 185.93 L803.78 185.99 L804.1 186.12 L804.43 186.06 L804.75 186.12 L805.08 186.06 L805.41 186.12 L805.73 186.05 L806.06 186.01 L806.38 186.07 L806.71 186.07 L807.03 186.07 L807.36 186.04 L807.68 186.12 L808.01 186.1 L808.33 186.1 L808.66 186.02 L808.98 186.08 L809.31 186.06 L809.63 186.12 L809.96 186.18 L810.28 186.11 L810.61 186.07 L810.93 186.11 L811.26 186.13 L811.58 186.12 L811.91 186.07 L812.23 186.07 L812.56 186.1 L812.88 186.15 L813.21 186.14 L813.53 185.88 L813.86 186.11 L814.18 186.06 L814.51 186.08 L814.83 186.18 L815.16 186.02 L815.48 186.09 L815.81 186.15 L816.13 186.05 L816.46 186.13 L816.78 186.08 L817.11 186.18 L817.43 186.11 L817.76 186.06 L818.08 186.13 L818.41 186.18 L818.73 186.15 L819.06 186.06 L819.38 186.19 L819.71 186.18 L820.03 186.05 L820.36 186.09 L820.68 186.1 L821.01 186.13 L821.34 186.08 L821.66 186.05 L821.99 186.07 L822.31 186.2 L822.64 186.06 L822.96 186.2 L823.29 186 L823.61 186.13 L823.94 186.06 L824.26 186.08 L824.59 186.14 L824.91 186.03 L825.24 186.09 L825.56 185.97 L825.89 186.06 L826.21 186.08 L826.54 185.95 L826.86 186.02 L827.19 186.1 L827.51 186.14 L827.84 185.98 L828.16 186.02 L828.49 186.02 L828.81 186.12 L829.14 186.13 L829.46 186.15 L829.79 186.03 L830.11 186.11 L830.44 186.06 L830.76 186.23 L831.09 186.04 L831.41 186.14 L831.74 186.26 L832.06 186.17 L832.39 186.07 L832.71 186.01 L833.04 186.26 L833.36 186.18 L833.69 186.09 L834.01 186.19 L834.34 186.12 L834.66 186.16 L834.99 186.09 L835.31 186.19 L835.64 186.12 L835.96 186.15 L836.29 186.09 L836.62 186.1 L836.94 186.04 L837.27 186.09 L837.59 185.99 L837.92 186.2 L838.24 186.12 L838.57 186.05 L838.89 186.09 L839.22 186.26 L839.54 186.08 L839.87 186.13 L840.19 185.95 L840.52 186.11 L840.84 186.06 L841.17 186.16 L841.49 186.06 L841.82 186.27 L842.14 186.16 L842.47 186.12 L842.79 186.19 L843.12 186.04 L843.44 186.1 L843.77 186 L844.09 186.18 L844.42 186.15 L844.74 186.06 L845.07 186.13 L845.39 186.05 L845.72 186.06 L846.04 186.14 L846.37 186.09 L846.69 186.06 L847.02 186.08 L847.34 186.1 L847.67 186.12 L847.99 186.1 L848.32 186.03 L848.64 185.96 L848.97 186.16 L849.29 186.12 L849.62 186.05 L849.94 185.92 L850.27 186 L850.59 185.73 L850.92 185.64 L851.24 185.84 L851.57 185.58 L851.89 185.56 L852.22 185.65 L852.55 185.8 L852.87 185.76 L853.2 185.89 L853.52 185.87 L853.85 185.96 L854.17 186.09 L854.5 185.94 L854.82 185.96 L855.15 185.99 L855.47 186.08 L855.8 186.03 L856.12 186.08 L856.45 186.12 L856.77 186.2 L857.1 186.07 L857.42 186.21 L857.75 186.05 L858.07 186.17 L858.4 186.08 L858.72 186.11 L859.05 186.16 L859.37 186.15 L859.7 186.13 L860.02 186 L860.35 186.07 L860.67 186.11 L861 186.04 L861.32 186.16 L861.65 186.19 L861.97 186.15 L862.3 186.03 L862.62 186.11 L862.95 186.09 L863.27 186.09 L863.6 186.12 L863.92 186.02 L864.25 186.05 L864.57 186.15 L864.9 186.16 L865.22 186.1 L865.55 186.15 L865.87 186.1 L866.2 186.05 L866.52 186.1 L866.85 186.09 L867.17 186.13 L867.5 186.15" fill="none" stroke="#008000" stroke-width="1.2" stroke-linejoin="round" stroke-linecap="round" />
<text x="793" y="173.3" font-size="11" text-anchor="start" fill="#2e2e2e" font-family="Liberation Sans, sans-serif" >0.05-MAPbBr<tspan font-size="7.48" dy="3.96" dx="0.66">3</tspan></text>
<path d="M477.7 222.85 L478.03 222.71 L478.35 222.84 L478.68 222.79 L479 222.78 L479.33 222.76 L479.65 222.81 L479.98 222.89 L480.3 222.66 L480.63 222.86 L480.95 222.75 L481.28 222.86 L481.6 222.75 L481.93 222.85 L482.25 222.68 L482.58 222.76 L482.9 222.88 L483.23 222.68 L483.55 222.9 L483.88 222.81 L484.2 222.72 L484.53 222.81 L484.85 222.71 L485.18 222.78 L485.5 222.82 L485.83 222.71 L486.15 222.78 L486.48 222.81 L486.8 222.72 L487.13 222.79 L487.45 222.86 L487.78 222.82 L488.1 222.62 L488.43 222.63 L488.75 222.86 L489.08 222.71 L489.4 222.66 L489.73 222.73 L490.05 222.62 L490.38 222.67 L490.7 222.55 L491.03 222.39 L491.35 222.4 L491.68 222.38 L492 222.4 L492.33 222.51 L492.65 222.56 L492.98 222.6 L493.31 222.64 L493.63 222.73 L493.96 222.59 L494.28 222.83 L494.61 222.8 L494.93 222.77 L495.26 222.69 L495.58 222.81 L495.91 222.69 L496.23 222.72 L496.56 222.66 L496.88 222.48 L497.21 222.29 L497.53 222.04 L497.86 221.89 L498.18 221.48 L498.51 221.29 L498.83 221.29 L499.16 221.4 L499.48 221.66 L499.81 221.95 L500.13 222.15 L500.46 222.29 L500.78 222.54 L501.11 222.57 L501.43 222.57 L501.76 222.73 L502.08 222.54 L502.41 222.61 L502.73 222.54 L503.06 222.63 L503.38 222.65 L503.71 222.59 L504.03 222.54 L504.36 222.58 L504.68 222.43 L505.01 222.43 L505.33 222.45 L505.66 222.28 L505.98 222.22 L506.31 222.04 L506.63 221.72 L506.96 220.97 L507.28 219.26 L507.61 215.79 L507.93 210.41 L508.26 203.79 L508.58 198.25 L508.91 196.18 L509.24 198.87 L509.56 204.95 L509.89 211.39 L510.21 216.34 L510.54 219.59 L510.86 221.12 L511.19 221.78 L511.51 222.11 L511.84 222.18 L512.16 222.34 L512.49 222.41 L512.81 222.51 L513.14 222.48 L513.46 222.55 L513.79 222.6 L514.11 222.62 L514.44 222.53 L514.76 222.64 L515.09 222.64 L515.41 222.59 L515.74 222.69 L516.06 222.63 L516.39 222.76 L516.71 222.67 L517.04 222.85 L517.36 222.71 L517.69 222.75 L518.01 222.78 L518.34 222.67 L518.66 222.69 L518.99 222.69 L519.31 222.65 L519.64 222.72 L519.96 222.72 L520.29 222.76 L520.61 222.64 L520.94 222.71 L521.26 222.81 L521.59 222.82 L521.91 222.81 L522.24 222.81 L522.56 222.69 L522.89 222.75 L523.21 222.71 L523.54 222.82 L523.86 222.82 L524.19 222.7 L524.52 222.9 L524.84 222.85 L525.17 222.91 L525.49 222.82 L525.82 222.62 L526.14 222.83 L526.47 222.72 L526.79 222.68 L527.12 222.82 L527.44 222.83 L527.77 222.76 L528.09 222.74 L528.42 222.88 L528.74 222.84 L529.07 222.69 L529.39 222.84 L529.72 222.76 L530.04 222.72 L530.37 222.81 L530.69 222.8 L531.02 222.82 L531.34 222.83 L531.67 222.83 L531.99 222.89 L532.32 222.82 L532.64 222.8 L532.97 222.75 L533.29 222.82 L533.62 222.83 L533.94 222.68 L534.27 222.79 L534.59 222.81 L534.92 222.82 L535.24 222.79 L535.57 222.84 L535.89 222.82 L536.22 222.84 L536.54 222.87 L536.87 222.82 L537.19 222.88 L537.52 222.69 L537.84 222.86 L538.17 222.69 L538.49 222.77 L538.82 222.74 L539.14 222.7 L539.47 222.89 L539.79 222.69 L540.12 222.76 L540.45 222.82 L540.77 222.84 L541.1 222.77 L541.42 222.89 L541.75 222.68 L542.07 222.8 L542.4 222.75 L542.72 222.79 L543.05 222.82 L543.37 222.82 L543.7 222.84 L544.02 222.72 L544.35 222.79 L544.67 222.76 L545 222.76 L545.32 222.75 L545.65 222.76 L545.97 222.71 L546.3 222.83 L546.62 222.85 L546.95 222.8 L547.27 222.81 L547.6 222.79 L547.92 222.72 L548.25 222.73 L548.57 222.76 L548.9 222.84 L549.22 222.76 L549.55 222.78 L549.87 222.75 L550.2 222.79 L550.52 222.81 L550.85 222.78 L551.17 222.83 L551.5 222.84 L551.82 222.78 L552.15 222.79 L552.47 222.73 L552.8 222.78 L553.12 222.86 L553.45 222.71 L553.77 222.69 L554.1 222.86 L554.42 222.83 L554.75 222.73 L555.07 222.78 L555.4 222.88 L555.73 222.72 L556.05 222.79 L556.38 222.77 L556.7 222.72 L557.03 222.83 L557.35 222.84 L557.68 222.75 L558 222.74 L558.33 222.79 L558.65 222.72 L558.98 222.77 L559.3 222.73 L559.63 222.84 L559.95 222.81 L560.28 222.73 L560.6 222.84 L560.93 222.84 L561.25 222.79 L561.58 222.81 L561.9 222.85 L562.23 222.89 L562.55 222.71 L562.88 222.79 L563.2 222.71 L563.53 222.85 L563.85 222.79 L564.18 222.8 L564.5 222.79 L564.83 222.89 L565.15 222.72 L565.48 222.81 L565.8 222.78 L566.13 222.85 L566.45 222.7 L566.78 222.89 L567.1 222.68 L567.43 222.82 L567.75 222.82 L568.08 222.84 L568.4 222.71 L568.73 222.85 L569.05 222.85 L569.38 222.85 L569.7 222.77 L570.03 222.76 L570.35 222.84 L570.68 222.77 L571 222.7 L571.33 222.75 L571.66 222.77 L571.98 222.86 L572.31 222.7 L572.63 222.76 L572.96 222.88 L573.28 222.84 L573.61 222.96 L573.93 222.77 L574.26 222.87 L574.58 222.81 L574.91 222.71 L575.23 222.88 L575.56 222.75 L575.88 222.82 L576.21 222.86 L576.53 222.72 L576.86 222.77 L577.18 222.84 L577.51 222.77 L577.83 222.83 L578.16 222.85 L578.48 222.82 L578.81 222.74 L579.13 222.89 L579.46 222.87 L579.78 222.74 L580.11 222.88 L580.43 222.81 L580.76 222.81 L581.08 222.87 L581.41 222.84 L581.73 222.8 L582.06 222.8 L582.38 222.76 L582.71 222.78 L583.03 222.74 L583.36 222.78 L583.68 222.82 L584.01 222.75 L584.33 222.76 L584.66 222.73 L584.98 222.79 L585.31 222.79 L585.63 222.79 L585.96 222.86 L586.28 222.74 L586.61 222.8 L586.94 222.78 L587.26 222.72 L587.59 222.51 L587.91 222.58 L588.24 222.31 L588.56 222.36 L588.89 222.09 L589.21 221.84 L589.54 221.89 L589.86 221.91 L590.19 222.08 L590.51 222.31 L590.84 222.33 L591.16 222.45 L591.49 222.55 L591.81 222.57 L592.14 222.73 L592.46 222.72 L592.79 222.89 L593.11 222.79 L593.44 222.76 L593.76 222.7 L594.09 222.67 L594.41 222.68 L594.74 222.75 L595.06 222.79 L595.39 222.79 L595.71 222.79 L596.04 222.77 L596.36 222.71 L596.69 222.8 L597.01 222.88 L597.34 222.86 L597.66 222.61 L597.99 222.7 L598.31 222.81 L598.64 222.8 L598.96 222.74 L599.29 222.76 L599.61 222.76 L599.94 222.9 L600.26 222.86 L600.59 222.77 L600.91 222.74 L601.24 222.76 L601.56 222.68 L601.89 222.77 L602.21 222.75 L602.54 222.76 L602.87 222.7 L603.19 222.79 L603.52 222.61 L603.84 222.77 L604.17 222.61 L604.49 222.54 L604.82 222.37 L605.14 222.38 L605.47 222.2 L605.79 222.02 L606.12 221.86 L606.44 221.84 L606.77 222.11 L607.09 222.11 L607.42 222.24 L607.74 222.39 L608.07 222.52 L608.39 222.64 L608.72 222.68 L609.04 222.83 L609.37 222.68 L609.69 222.89 L610.02 222.76 L610.34 222.8 L610.67 222.73 L610.99 222.81 L611.32 222.69 L611.64 222.72 L611.97 222.7 L612.29 222.67 L612.62 222.67 L612.94 222.74 L613.27 222.67 L613.59 222.69 L613.92 222.66 L614.24 222.69 L614.57 222.83 L614.89 222.68 L615.22 222.65 L615.54 222.65 L615.87 222.63 L616.19 222.54 L616.52 222.52 L616.84 222.32 L617.17 222 L617.49 221.44 L617.82 220.09 L618.15 217.99 L618.47 215 L618.8 212.06 L619.12 210.52 L619.45 211.05 L619.77 213.48 L620.1 216.47 L620.42 219.24 L620.75 220.85 L621.07 221.9 L621.4 222.27 L621.72 222.38 L622.05 222.5 L622.37 222.72 L622.7 222.61 L623.02 222.61 L623.35 222.75 L623.67 222.7 L624 222.71 L624.32 222.68 L624.65 222.64 L624.97 222.8 L625.3 222.79 L625.62 222.65 L625.95 222.67 L626.27 222.65 L626.6 222.75 L626.92 222.7 L627.25 222.9 L627.57 222.74 L627.9 222.82 L628.22 222.85 L628.55 222.83 L628.87 222.71 L629.2 222.69 L629.52 222.8 L629.85 222.8 L630.17 222.71 L630.5 222.82 L630.82 222.76 L631.15 222.74 L631.47 222.71 L631.8 222.8 L632.12 222.95 L632.45 222.8 L632.77 222.74 L633.1 222.81 L633.42 222.82 L633.75 222.84 L634.08 222.76 L634.4 222.78 L634.73 222.77 L635.05 222.79 L635.38 222.71 L635.7 222.77 L636.03 222.79 L636.35 222.85 L636.68 222.81 L637 222.79 L637.33 222.7 L637.65 222.76 L637.98 222.81 L638.3 222.74 L638.63 222.75 L638.95 222.81 L639.28 222.76 L639.6 222.85 L639.93 222.78 L640.25 222.67 L640.58 222.73 L640.9 222.75 L641.23 222.73 L641.55 222.74 L641.88 222.85 L642.2 222.81 L642.53 222.82 L642.85 222.74 L643.18 222.71 L643.5 222.62 L643.83 222.72 L644.15 222.73 L644.48 222.57 L644.8 222.49 L645.13 222.36 L645.45 222.26 L645.78 222.14 L646.1 222.18 L646.43 222.16 L646.75 222.21 L647.08 222.37 L647.4 222.46 L647.73 222.63 L648.05 222.62 L648.38 222.72 L648.7 222.79 L649.03 222.78 L649.36 222.79 L649.68 222.79 L650.01 222.81 L650.33 222.68 L650.66 222.73 L650.98 222.76 L651.31 222.76 L651.63 222.79 L651.96 222.74 L652.28 222.8 L652.61 222.79 L652.93 222.83 L653.26 222.72 L653.58 222.72 L653.91 222.73 L654.23 222.72 L654.56 222.93 L654.88 222.78 L655.21 222.73 L655.53 222.76 L655.86 222.88 L656.18 222.77 L656.51 222.75 L656.83 222.82 L657.16 222.86 L657.48 222.82 L657.81 222.96 L658.13 222.77 L658.46 222.84 L658.78 222.8 L659.11 222.79 L659.43 222.78 L659.76 222.67 L660.08 222.8 L660.41 222.73 L660.73 222.79 L661.06 222.63 L661.38 222.62 L661.71 222.37 L662.03 222.34 L662.36 222.34 L662.68 222.26 L663.01 222.43 L663.33 222.46 L663.66 222.59 L663.98 222.68 L664.31 222.7 L664.63 222.77 L664.96 222.77 L665.29 222.84 L665.61 222.87 L665.94 222.71 L666.26 222.77 L666.59 222.81 L666.91 222.78 L667.24 222.85 L667.56 222.77 L667.89 222.88 L668.21 222.77 L668.54 222.77 L668.86 222.8 L669.19 222.75 L669.51 222.8 L669.84 222.7 L670.16 222.76 L670.49 222.89 L670.81 222.86 L671.14 222.7 L671.46 222.83 L671.79 222.78 L672.11 222.83 L672.44 222.71 L672.76 222.73 L673.09 222.75 L673.41 222.82 L673.74 222.81 L674.06 222.72 L674.39 222.83 L674.71 222.92 L675.04 222.7 L675.36 222.74 L675.69 222.87 L676.01 222.78 L676.34 222.76 L676.66 222.78 L676.99 222.7 L677.31 222.72 L677.64 222.84 L677.96 222.8 L678.29 222.74 L678.61 222.74 L678.94 222.82 L679.26 222.73 L679.59 222.84 L679.91 222.75 L680.24 222.9 L680.57 222.77 L680.89 222.67 L681.22 222.71 L681.54 222.84 L681.87 222.97 L682.19 222.78 L682.52 222.73 L682.84 222.79 L683.17 222.78 L683.49 222.88 L683.82 222.83 L684.14 222.87 L684.47 222.87 L684.79 222.83 L685.12 222.71 L685.44 222.77 L685.77 222.84 L686.09 222.8 L686.42 222.85 L686.74 222.83 L687.07 222.78 L687.39 222.88 L687.72 222.78 L688.04 222.83 L688.37 222.73 L688.69 222.85 L689.02 222.78 L689.34 222.84 L689.67 222.75 L689.99 222.89 L690.32 222.81 L690.64 222.83 L690.97 222.86 L691.29 222.77 L691.62 222.73 L691.94 222.7 L692.27 222.63 L692.59 222.49 L692.92 222.34 L693.24 222.07 L693.57 221.96 L693.89 221.83 L694.22 221.86 L694.54 221.89 L694.87 222.14 L695.19 222.29 L695.52 222.46 L695.84 222.6 L696.17 222.62 L696.5 222.69 L696.82 222.71 L697.15 222.74 L697.47 222.71 L697.8 222.86 L698.12 222.74 L698.45 222.78 L698.77 222.82 L699.1 222.8 L699.42 222.75 L699.75 222.74 L700.07 222.8 L700.4 222.74 L700.72 222.76 L701.05 222.73 L701.37 222.73 L701.7 222.74 L702.02 222.81 L702.35 222.85 L702.67 222.71 L703 222.84 L703.32 222.74 L703.65 222.78 L703.97 222.69 L704.3 222.8 L704.62 222.81 L704.95 222.91 L705.27 222.75 L705.6 222.79 L705.92 222.82 L706.25 222.81 L706.57 222.71 L706.9 222.76 L707.22 222.74 L707.55 222.8 L707.87 222.77 L708.2 222.73 L708.52 222.8 L708.85 222.71 L709.17 222.8 L709.5 222.67 L709.82 222.81 L710.15 222.8 L710.47 222.77 L710.8 222.78 L711.12 222.76 L711.45 222.73 L711.78 222.61 L712.1 222.66 L712.43 222.49 L712.75 222.44 L713.08 222.42 L713.4 222.4 L713.73 222.29 L714.05 222.58 L714.38 222.53 L714.7 222.58 L715.03 222.61 L715.35 222.69 L715.68 222.68 L716 222.72 L716.33 222.7 L716.65 222.81 L716.98 222.75 L717.3 222.68 L717.63 222.82 L717.95 222.77 L718.28 222.86 L718.6 222.76 L718.93 222.83 L719.25 222.75 L719.58 222.85 L719.9 222.78 L720.23 222.85 L720.55 222.79 L720.88 222.76 L721.2 222.65 L721.53 222.76 L721.85 222.76 L722.18 222.68 L722.5 222.73 L722.83 222.85 L723.15 222.76 L723.48 222.78 L723.8 222.74 L724.13 222.76 L724.45 222.89 L724.78 222.82 L725.1 222.68 L725.43 222.74 L725.75 222.84 L726.08 222.82 L726.4 222.81 L726.73 222.87 L727.05 222.99 L727.38 222.76 L727.71 222.86 L728.03 222.83 L728.36 222.84 L728.68 222.82 L729.01 222.82 L729.33 222.7 L729.66 222.81 L729.98 222.75 L730.31 222.79 L730.63 222.71 L730.96 222.77 L731.28 222.89 L731.61 222.64 L731.93 222.62 L732.26 222.63 L732.58 222.69 L732.91 222.41 L733.23 222.35 L733.56 222.31 L733.88 222.21 L734.21 222.08 L734.53 222.23 L734.86 222.28 L735.18 222.44 L735.51 222.48 L735.83 222.66 L736.16 222.64 L736.48 222.75 L736.81 222.63 L737.13 222.8 L737.46 222.77 L737.78 222.73 L738.11 222.73 L738.43 222.88 L738.76 222.78 L739.08 222.77 L739.41 222.75 L739.73 222.8 L740.06 222.7 L740.38 222.71 L740.71 222.82 L741.03 222.86 L741.36 222.8 L741.68 222.76 L742.01 222.73 L742.33 222.86 L742.66 222.83 L742.99 222.91 L743.31 222.85 L743.64 222.73 L743.96 222.67 L744.29 222.75 L744.61 222.8 L744.94 222.81 L745.26 222.67 L745.59 222.72 L745.91 222.78 L746.24 222.82 L746.56 222.84 L746.89 222.79 L747.21 222.68 L747.54 222.8 L747.86 222.81 L748.19 222.77 L748.51 222.81 L748.84 222.73 L749.16 222.85 L749.49 222.79 L749.81 222.83 L750.14 222.74 L750.46 222.78 L750.79 222.84 L751.11 222.83 L751.44 222.8 L751.76 222.71 L752.09 222.76 L752.41 222.78 L752.74 222.86 L753.06 222.89 L753.39 222.89 L753.71 222.84 L754.04 222.78 L754.36 222.8 L754.69 222.73 L755.01 222.87 L755.34 222.81 L755.66 222.82 L755.99 222.86 L756.31 222.93 L756.64 222.85 L756.96 222.75 L757.29 222.91 L757.61 222.75 L757.94 222.75 L758.26 222.81 L758.59 222.78 L758.92 222.81 L759.24 222.8 L759.57 222.71 L759.89 222.73 L760.22 222.74 L760.54 222.78 L760.87 222.81 L761.19 222.78 L761.52 222.88 L761.84 222.85 L762.17 222.8 L762.49 222.91 L762.82 222.8 L763.14 222.81 L763.47 222.81 L763.79 222.81 L764.12 222.84 L764.44 222.68 L764.77 222.92 L765.09 222.85 L765.42 222.91 L765.74 222.78 L766.07 222.75 L766.39 222.7 L766.72 222.85 L767.04 222.76 L767.37 222.86 L767.69 222.81 L768.02 222.77 L768.34 222.89 L768.67 222.82 L768.99 222.84 L769.32 222.78 L769.64 222.76 L769.97 222.89 L770.29 222.81 L770.62 222.89 L770.94 222.94 L771.27 222.87 L771.59 222.84 L771.92 222.88 L772.24 222.87 L772.57 222.73 L772.89 222.8 L773.22 222.74 L773.54 222.72 L773.87 222.79 L774.2 222.65 L774.52 222.78 L774.85 222.79 L775.17 222.85 L775.5 222.82 L775.82 222.78 L776.15 222.8 L776.47 222.79 L776.8 222.78 L777.12 222.88 L777.45 222.85 L777.77 222.83 L778.1 222.83 L778.42 222.88 L778.75 222.81 L779.07 222.85 L779.4 222.74 L779.72 222.85 L780.05 222.79 L780.37 222.92 L780.7 222.81 L781.02 222.74 L781.35 222.8 L781.67 222.76 L782 222.79 L782.32 222.82 L782.65 222.77 L782.97 222.78 L783.3 222.78 L783.62 222.84 L783.95 222.83 L784.27 222.96 L784.6 222.79 L784.92 222.86 L785.25 222.84 L785.57 222.74 L785.9 222.78 L786.22 222.76 L786.55 222.81 L786.87 222.71 L787.2 222.7 L787.52 222.64 L787.85 222.61 L788.17 222.45 L788.5 222.58 L788.82 222.49 L789.15 222.51 L789.47 222.51 L789.8 222.59 L790.13 222.7 L790.45 222.71 L790.78 222.66 L791.1 222.7 L791.43 222.8 L791.75 222.78 L792.08 222.8 L792.4 222.71 L792.73 222.82 L793.05 222.71 L793.38 222.69 L793.7 222.8 L794.03 222.66 L794.35 222.81 L794.68 222.8 L795 222.75 L795.33 222.82 L795.65 222.78 L795.98 222.86 L796.3 222.81 L796.63 222.78 L796.95 222.87 L797.28 222.74 L797.6 222.73 L797.93 222.78 L798.25 222.73 L798.58 222.71 L798.9 222.77 L799.23 222.63 L799.55 222.57 L799.88 222.51 L800.2 222.32 L800.53 222.27 L800.85 222.27 L801.18 222.02 L801.5 222.06 L801.83 222.06 L802.15 222.31 L802.48 222.38 L802.8 222.6 L803.13 222.71 L803.45 222.72 L803.78 222.73 L804.1 222.76 L804.43 222.7 L804.75 222.71 L805.08 222.85 L805.41 222.81 L805.73 222.67 L806.06 222.7 L806.38 222.85 L806.71 222.83 L807.03 222.67 L807.36 222.84 L807.68 222.71 L808.01 222.9 L808.33 222.8 L808.66 222.85 L808.98 222.77 L809.31 222.71 L809.63 222.76 L809.96 222.72 L810.28 222.72 L810.61 222.69 L810.93 222.77 L811.26 222.9 L811.58 222.88 L811.91 222.73 L812.23 222.75 L812.56 222.72 L812.88 222.81 L813.21 222.82 L813.53 222.9 L813.86 222.86 L814.18 222.8 L814.51 222.84 L814.83 222.89 L815.16 222.71 L815.48 222.8 L815.81 222.78 L816.13 222.79 L816.46 222.8 L816.78 222.86 L817.11 222.75 L817.43 222.83 L817.76 222.86 L818.08 222.72 L818.41 222.79 L818.73 222.76 L819.06 222.91 L819.38 222.69 L819.71 222.85 L820.03 222.87 L820.36 222.82 L820.68 222.86 L821.01 222.85 L821.34 222.77 L821.66 222.71 L821.99 222.81 L822.31 222.8 L822.64 222.79 L822.96 222.79 L823.29 222.87 L823.61 222.7 L823.94 222.89 L824.26 222.84 L824.59 222.67 L824.91 222.81 L825.24 222.86 L825.56 222.79 L825.89 222.66 L826.21 222.79 L826.54 222.87 L826.86 222.78 L827.19 222.78 L827.51 222.85 L827.84 222.78 L828.16 222.93 L828.49 222.77 L828.81 222.78 L829.14 222.79 L829.46 222.84 L829.79 222.71 L830.11 222.76 L830.44 222.71 L830.76 222.83 L831.09 222.75 L831.41 222.69 L831.74 222.71 L832.06 222.85 L832.39 222.8 L832.71 222.84 L833.04 222.81 L833.36 222.8 L833.69 222.69 L834.01 222.7 L834.34 222.8 L834.66 222.74 L834.99 222.83 L835.31 222.87 L835.64 222.91 L835.96 222.85 L836.29 222.68 L836.62 222.78 L836.94 222.76 L837.27 222.73 L837.59 222.92 L837.92 222.81 L838.24 222.8 L838.57 222.72 L838.89 222.77 L839.22 222.9 L839.54 222.9 L839.87 222.78 L840.19 222.78 L840.52 222.88 L840.84 222.88 L841.17 222.79 L841.49 222.88 L841.82 222.78 L842.14 222.81 L842.47 222.81 L842.79 222.68 L843.12 222.85 L843.44 222.87 L843.77 222.83 L844.09 222.94 L844.42 222.75 L844.74 222.76 L845.07 222.79 L845.39 222.8 L845.72 222.8 L846.04 222.89 L846.37 222.81 L846.69 222.8 L847.02 222.74 L847.34 222.78 L847.67 222.73 L847.99 222.75 L848.32 222.91 L848.64 222.83 L848.97 222.74 L849.29 222.79 L849.62 222.74 L849.94 222.65 L850.27 222.71 L850.59 222.56 L850.92 222.38 L851.24 222.39 L851.57 222.37 L851.89 222.3 L852.22 222.35 L852.55 222.46 L852.87 222.44 L853.2 222.56 L853.52 222.76 L853.85 222.63 L854.17 222.8 L854.5 222.76 L854.82 222.75 L855.15 222.79 L855.47 222.86 L855.8 222.93 L856.12 222.82 L856.45 222.78 L856.77 222.87 L857.1 222.82 L857.42 222.72 L857.75 222.86 L858.07 222.55 L858.4 222.77 L858.72 222.87 L859.05 222.77 L859.37 222.81 L859.7 222.72 L860.02 222.87 L860.35 222.76 L860.67 222.86 L861 222.78 L861.32 222.71 L861.65 222.79 L861.97 222.72 L862.3 222.82 L862.62 222.74 L862.95 222.84 L863.27 222.81 L863.6 222.8 L863.92 222.89 L864.25 222.86 L864.57 222.84 L864.9 222.69 L865.22 222.79 L865.55 222.87 L865.87 222.87 L866.2 222.81 L866.52 222.87 L866.85 222.79 L867.17 222.87 L867.5 222.86" fill="none" stroke="#ff0000" stroke-width="1.2" stroke-linejoin="round" stroke-linecap="round" />
<text x="793" y="213.8" font-size="11" text-anchor="start" fill="#2e2e2e" font-family="Liberation Sans, sans-serif" >0.03-MAPbBr<tspan font-size="7.48" dy="3.96" dx="0.66">3</tspan></text>
<path d="M477.7 268.84 L478.03 269.01 L478.35 268.75 L478.68 268.94 L479 268.98 L479.33 268.85 L479.65 268.82 L479.98 268.81 L480.3 268.86 L480.63 268.93 L480.95 268.9 L481.28 268.88 L481.6 268.84 L481.93 268.83 L482.25 268.84 L482.58 268.83 L482.9 269.02 L483.23 268.92 L483.55 268.81 L483.88 268.91 L484.2 268.89 L484.53 268.93 L484.85 268.89 L485.18 268.92 L485.5 269.01 L485.83 268.86 L486.15 268.85 L486.48 268.93 L486.8 269 L487.13 268.9 L487.45 268.95 L487.78 268.81 L488.1 268.89 L488.43 268.97 L488.75 268.91 L489.08 268.74 L489.4 268.85 L489.73 268.86 L490.05 268.78 L490.38 268.77 L490.7 268.58 L491.03 268.64 L491.35 268.46 L491.68 268.41 L492 268.42 L492.33 268.53 L492.65 268.62 L492.98 268.66 L493.31 268.71 L493.63 268.73 L493.96 268.79 L494.28 268.79 L494.61 268.84 L494.93 268.86 L495.26 268.73 L495.58 268.76 L495.91 268.72 L496.23 268.61 L496.56 268.66 L496.88 268.48 L497.21 268.18 L497.53 267.71 L497.86 267.38 L498.18 266.88 L498.51 266.47 L498.83 266.55 L499.16 266.6 L499.48 266.95 L499.81 267.49 L500.13 268 L500.46 268.3 L500.78 268.55 L501.11 268.62 L501.43 268.62 L501.76 268.64 L502.08 268.85 L502.41 268.76 L502.73 268.69 L503.06 268.72 L503.38 268.83 L503.71 268.65 L504.03 268.61 L504.36 268.61 L504.68 268.58 L505.01 268.47 L505.33 268.56 L505.66 268.41 L505.98 268.26 L506.31 267.91 L506.63 267.82 L506.96 266.93 L507.28 265.09 L507.61 261.69 L507.93 256.18 L508.26 249.41 L508.58 243.85 L508.91 241.68 L509.24 244.51 L509.56 250.48 L509.89 257.22 L510.21 262.42 L510.54 265.57 L510.86 267.24 L511.19 267.8 L511.51 268.26 L511.84 268.33 L512.16 268.44 L512.49 268.43 L512.81 268.55 L513.14 268.65 L513.46 268.6 L513.79 268.56 L514.11 268.76 L514.44 268.63 L514.76 268.78 L515.09 268.77 L515.41 268.78 L515.74 268.84 L516.06 268.69 L516.39 268.75 L516.71 268.77 L517.04 268.9 L517.36 268.78 L517.69 268.88 L518.01 268.74 L518.34 268.94 L518.66 268.79 L518.99 268.94 L519.31 268.94 L519.64 268.83 L519.96 268.8 L520.29 268.78 L520.61 268.88 L520.94 268.89 L521.26 268.8 L521.59 268.93 L521.91 268.93 L522.24 268.83 L522.56 268.84 L522.89 268.86 L523.21 268.79 L523.54 268.97 L523.86 268.84 L524.19 268.74 L524.52 268.9 L524.84 268.95 L525.17 268.8 L525.49 268.84 L525.82 268.8 L526.14 268.83 L526.47 268.91 L526.79 268.89 L527.12 268.95 L527.44 268.72 L527.77 268.94 L528.09 268.9 L528.42 268.92 L528.74 268.85 L529.07 268.79 L529.39 268.91 L529.72 268.85 L530.04 268.84 L530.37 268.75 L530.69 268.9 L531.02 268.87 L531.34 268.78 L531.67 268.97 L531.99 268.89 L532.32 268.88 L532.64 268.95 L532.97 268.9 L533.29 268.87 L533.62 268.82 L533.94 268.83 L534.27 268.92 L534.59 268.94 L534.92 268.83 L535.24 268.98 L535.57 268.92 L535.89 268.96 L536.22 268.99 L536.54 268.87 L536.87 268.98 L537.19 268.93 L537.52 268.81 L537.84 268.79 L538.17 268.97 L538.49 268.95 L538.82 268.94 L539.14 268.97 L539.47 268.81 L539.79 268.84 L540.12 268.86 L540.45 268.95 L540.77 268.85 L541.1 268.88 L541.42 268.89 L541.75 268.86 L542.07 268.81 L542.4 268.9 L542.72 268.92 L543.05 268.96 L543.37 268.81 L543.7 268.86 L544.02 269.04 L544.35 268.89 L544.67 268.84 L545 268.99 L545.32 268.98 L545.65 268.83 L545.97 268.91 L546.3 268.98 L546.62 268.89 L546.95 268.87 L547.27 268.95 L547.6 268.94 L547.92 268.89 L548.25 268.9 L548.57 268.79 L548.9 268.81 L549.22 268.86 L549.55 268.94 L549.87 268.93 L550.2 269.03 L550.52 268.9 L550.85 268.92 L551.17 268.94 L551.5 268.85 L551.82 268.82 L552.15 269.01 L552.47 268.87 L552.8 268.87 L553.12 268.93 L553.45 268.94 L553.77 268.79 L554.1 268.85 L554.42 268.77 L554.75 268.94 L555.07 268.96 L555.4 268.91 L555.73 268.84 L556.05 268.82 L556.38 268.78 L556.7 268.94 L557.03 268.98 L557.35 268.84 L557.68 268.84 L558 268.86 L558.33 268.81 L558.65 268.95 L558.98 269 L559.3 268.77 L559.63 268.88 L559.95 268.91 L560.28 268.85 L560.6 268.76 L560.93 268.88 L561.25 268.79 L561.58 268.89 L561.9 268.78 L562.23 268.88 L562.55 268.82 L562.88 268.9 L563.2 268.86 L563.53 268.88 L563.85 268.92 L564.18 268.89 L564.5 268.85 L564.83 268.9 L565.15 268.93 L565.48 268.87 L565.8 268.81 L566.13 268.9 L566.45 268.96 L566.78 268.95 L567.1 268.89 L567.43 268.79 L567.75 268.96 L568.08 268.83 L568.4 268.91 L568.73 268.94 L569.05 268.93 L569.38 268.83 L569.7 268.92 L570.03 268.81 L570.35 268.77 L570.68 268.95 L571 268.97 L571.33 269 L571.66 268.86 L571.98 268.95 L572.31 268.93 L572.63 268.94 L572.96 268.81 L573.28 268.86 L573.61 268.86 L573.93 269 L574.26 268.95 L574.58 268.9 L574.91 268.9 L575.23 268.88 L575.56 268.8 L575.88 268.85 L576.21 268.85 L576.53 268.9 L576.86 268.92 L577.18 268.93 L577.51 268.9 L577.83 269 L578.16 268.93 L578.48 268.89 L578.81 268.92 L579.13 268.9 L579.46 269.01 L579.78 268.93 L580.11 268.89 L580.43 268.82 L580.76 268.89 L581.08 268.91 L581.41 268.93 L581.73 268.89 L582.06 268.92 L582.38 268.85 L582.71 268.92 L583.03 268.85 L583.36 268.93 L583.68 268.98 L584.01 268.98 L584.33 268.83 L584.66 268.92 L584.98 268.91 L585.31 268.73 L585.63 268.95 L585.96 268.88 L586.28 268.95 L586.61 268.9 L586.94 268.8 L587.26 268.82 L587.59 268.62 L587.91 268.69 L588.24 268.54 L588.56 268.42 L588.89 268.18 L589.21 268.1 L589.54 268.01 L589.86 268.08 L590.19 268.12 L590.51 268.34 L590.84 268.46 L591.16 268.61 L591.49 268.76 L591.81 268.78 L592.14 268.83 L592.46 268.82 L592.79 268.98 L593.11 268.78 L593.44 268.87 L593.76 268.85 L594.09 268.85 L594.41 268.96 L594.74 268.84 L595.06 268.87 L595.39 268.91 L595.71 268.83 L596.04 268.9 L596.36 268.95 L596.69 268.83 L597.01 268.84 L597.34 268.86 L597.66 268.89 L597.99 268.79 L598.31 268.92 L598.64 268.87 L598.96 268.89 L599.29 268.89 L599.61 268.85 L599.94 268.94 L600.26 268.85 L600.59 268.86 L600.91 268.9 L601.24 268.92 L601.56 268.96 L601.89 268.87 L602.21 268.77 L602.54 268.9 L602.87 268.92 L603.19 268.89 L603.52 268.82 L603.84 268.78 L604.17 268.74 L604.49 268.68 L604.82 268.64 L605.14 268.35 L605.47 268.27 L605.79 268.07 L606.12 268 L606.44 267.99 L606.77 268.01 L607.09 268.18 L607.42 268.23 L607.74 268.42 L608.07 268.58 L608.39 268.74 L608.72 268.73 L609.04 268.79 L609.37 268.79 L609.69 268.83 L610.02 268.9 L610.34 268.9 L610.67 268.85 L610.99 268.79 L611.32 268.84 L611.64 268.87 L611.97 268.85 L612.29 268.79 L612.62 268.86 L612.94 268.85 L613.27 268.81 L613.59 268.77 L613.92 268.87 L614.24 268.81 L614.57 268.77 L614.89 268.78 L615.22 268.7 L615.54 268.66 L615.87 268.72 L616.19 268.48 L616.52 268.53 L616.84 268.33 L617.17 268.09 L617.49 267.58 L617.82 266.18 L618.15 263.76 L618.47 260.62 L618.8 257.57 L619.12 256.08 L619.45 256.62 L619.77 259.1 L620.1 262.28 L620.42 265.1 L620.75 267.02 L621.07 267.92 L621.4 268.34 L621.72 268.54 L622.05 268.54 L622.37 268.59 L622.7 268.62 L623.02 268.79 L623.35 268.82 L623.67 268.86 L624 268.8 L624.32 268.79 L624.65 268.89 L624.97 268.8 L625.3 268.81 L625.62 268.85 L625.95 268.81 L626.27 268.9 L626.6 268.91 L626.92 268.76 L627.25 268.88 L627.57 268.8 L627.9 268.9 L628.22 269 L628.55 268.83 L628.87 268.94 L629.2 268.92 L629.52 268.82 L629.85 268.97 L630.17 268.89 L630.5 268.81 L630.82 268.76 L631.15 268.94 L631.47 268.87 L631.8 268.92 L632.12 268.81 L632.45 268.91 L632.77 268.8 L633.1 268.96 L633.42 268.84 L633.75 268.79 L634.08 268.84 L634.4 268.88 L634.73 268.91 L635.05 268.96 L635.38 268.83 L635.7 268.83 L636.03 268.87 L636.35 268.96 L636.68 268.94 L637 268.9 L637.33 268.78 L637.65 268.78 L637.98 268.83 L638.3 268.97 L638.63 269.01 L638.95 268.89 L639.28 268.86 L639.6 268.79 L639.93 268.94 L640.25 268.82 L640.58 268.91 L640.9 268.85 L641.23 268.92 L641.55 268.92 L641.88 268.92 L642.2 268.9 L642.53 268.94 L642.85 268.93 L643.18 268.85 L643.5 268.93 L643.83 268.84 L644.15 268.81 L644.48 268.71 L644.8 268.52 L645.13 268.52 L645.45 268.26 L645.78 268.39 L646.1 268.3 L646.43 268.24 L646.75 268.51 L647.08 268.5 L647.4 268.57 L647.73 268.79 L648.05 268.68 L648.38 268.71 L648.7 268.85 L649.03 268.86 L649.36 268.82 L649.68 268.82 L650.01 268.91 L650.33 268.91 L650.66 268.76 L650.98 268.87 L651.31 268.9 L651.63 268.94 L651.96 269.07 L652.28 268.9 L652.61 268.89 L652.93 268.89 L653.26 268.9 L653.58 268.84 L653.91 268.87 L654.23 268.88 L654.56 268.9 L654.88 268.91 L655.21 268.88 L655.53 268.93 L655.86 268.82 L656.18 268.87 L656.51 268.89 L656.83 268.77 L657.16 268.84 L657.48 268.96 L657.81 268.94 L658.13 268.89 L658.46 268.91 L658.78 268.8 L659.11 268.83 L659.43 268.82 L659.76 268.8 L660.08 268.79 L660.41 268.92 L660.73 268.85 L661.06 268.75 L661.38 268.57 L661.71 268.5 L662.03 268.33 L662.36 268.32 L662.68 268.33 L663.01 268.5 L663.33 268.55 L663.66 268.58 L663.98 268.78 L664.31 268.82 L664.63 268.72 L664.96 268.72 L665.29 268.98 L665.61 268.88 L665.94 268.96 L666.26 269.01 L666.59 268.94 L666.91 268.86 L667.24 268.85 L667.56 268.88 L667.89 268.81 L668.21 268.94 L668.54 268.91 L668.86 268.8 L669.19 268.85 L669.51 268.94 L669.84 268.97 L670.16 268.89 L670.49 268.88 L670.81 268.88 L671.14 268.91 L671.46 268.89 L671.79 268.94 L672.11 268.9 L672.44 268.94 L672.76 268.98 L673.09 268.89 L673.41 268.95 L673.74 268.95 L674.06 268.86 L674.39 268.88 L674.71 268.78 L675.04 268.79 L675.36 268.92 L675.69 268.92 L676.01 268.94 L676.34 268.98 L676.66 268.8 L676.99 268.86 L677.31 268.93 L677.64 268.79 L677.96 268.86 L678.29 268.85 L678.61 268.93 L678.94 269.04 L679.26 268.86 L679.59 268.94 L679.91 268.99 L680.24 268.86 L680.57 268.86 L680.89 268.96 L681.22 268.9 L681.54 268.87 L681.87 268.9 L682.19 268.93 L682.52 268.81 L682.84 268.91 L683.17 268.83 L683.49 268.9 L683.82 268.91 L684.14 268.82 L684.47 268.93 L684.79 268.87 L685.12 268.86 L685.44 268.83 L685.77 268.9 L686.09 268.99 L686.42 269 L686.74 269 L687.07 268.96 L687.39 268.9 L687.72 268.91 L688.04 268.92 L688.37 268.9 L688.69 268.94 L689.02 268.89 L689.34 268.88 L689.67 268.75 L689.99 268.9 L690.32 268.89 L690.64 268.89 L690.97 268.91 L691.29 268.8 L691.62 268.89 L691.94 268.64 L692.27 268.77 L692.59 268.55 L692.92 268.33 L693.24 268.2 L693.57 268.04 L693.89 268.1 L694.22 267.96 L694.54 268.07 L694.87 268.15 L695.19 268.41 L695.52 268.56 L695.84 268.78 L696.17 268.73 L696.5 268.88 L696.82 268.82 L697.15 268.75 L697.47 268.93 L697.8 268.86 L698.12 268.91 L698.45 268.92 L698.77 269 L699.1 268.91 L699.42 268.87 L699.75 268.81 L700.07 268.79 L700.4 268.9 L700.72 268.83 L701.05 268.9 L701.37 268.95 L701.7 268.92 L702.02 268.84 L702.35 268.85 L702.67 269 L703 268.86 L703.32 268.91 L703.65 268.86 L703.97 268.88 L704.3 268.97 L704.62 268.98 L704.95 268.9 L705.27 268.89 L705.6 268.89 L705.92 268.97 L706.25 268.81 L706.57 269.04 L706.9 268.81 L707.22 268.91 L707.55 268.93 L707.87 268.79 L708.2 268.9 L708.52 268.89 L708.85 268.92 L709.17 268.86 L709.5 268.86 L709.82 268.8 L710.15 268.81 L710.47 268.88 L710.8 268.91 L711.12 268.88 L711.45 268.88 L711.78 268.82 L712.1 268.77 L712.43 268.65 L712.75 268.59 L713.08 268.58 L713.4 268.49 L713.73 268.64 L714.05 268.55 L714.38 268.75 L714.7 268.71 L715.03 268.71 L715.35 268.79 L715.68 268.91 L716 268.88 L716.33 268.89 L716.65 268.92 L716.98 268.88 L717.3 268.93 L717.63 268.95 L717.95 268.96 L718.28 268.87 L718.6 268.95 L718.93 268.99 L719.25 268.85 L719.58 268.94 L719.9 268.99 L720.23 268.86 L720.55 268.94 L720.88 268.94 L721.2 268.95 L721.53 268.86 L721.85 268.86 L722.18 268.84 L722.5 268.94 L722.83 268.76 L723.15 268.94 L723.48 268.97 L723.8 268.92 L724.13 269.01 L724.45 268.95 L724.78 268.93 L725.1 268.89 L725.43 268.82 L725.75 268.87 L726.08 268.91 L726.4 268.89 L726.73 268.97 L727.05 268.81 L727.38 268.88 L727.71 268.87 L728.03 268.93 L728.36 268.94 L728.68 268.95 L729.01 268.94 L729.33 268.93 L729.66 268.84 L729.98 268.93 L730.31 268.85 L730.63 268.83 L730.96 268.86 L731.28 268.82 L731.61 268.99 L731.93 268.8 L732.26 268.8 L732.58 268.61 L732.91 268.57 L733.23 268.49 L733.56 268.36 L733.88 268.26 L734.21 268.14 L734.53 268.31 L734.86 268.35 L735.18 268.52 L735.51 268.59 L735.83 268.68 L736.16 268.76 L736.48 268.83 L736.81 268.76 L737.13 268.8 L737.46 268.85 L737.78 268.91 L738.11 268.86 L738.43 268.88 L738.76 268.83 L739.08 268.85 L739.41 268.93 L739.73 268.85 L740.06 268.78 L740.38 268.86 L740.71 268.96 L741.03 268.92 L741.36 268.83 L741.68 268.81 L742.01 268.98 L742.33 268.83 L742.66 268.79 L742.99 268.8 L743.31 268.97 L743.64 268.89 L743.96 268.81 L744.29 268.84 L744.61 268.91 L744.94 268.95 L745.26 268.89 L745.59 268.86 L745.91 268.95 L746.24 268.9 L746.56 268.81 L746.89 268.81 L747.21 268.88 L747.54 268.81 L747.86 268.9 L748.19 268.93 L748.51 268.93 L748.84 268.96 L749.16 268.92 L749.49 268.91 L749.81 268.76 L750.14 268.83 L750.46 268.76 L750.79 268.95 L751.11 268.85 L751.44 268.92 L751.76 268.98 L752.09 268.86 L752.41 268.93 L752.74 268.85 L753.06 268.74 L753.39 268.89 L753.71 268.9 L754.04 268.94 L754.36 268.99 L754.69 268.91 L755.01 268.94 L755.34 268.88 L755.66 268.92 L755.99 268.88 L756.31 268.86 L756.64 268.82 L756.96 268.96 L757.29 268.94 L757.61 268.81 L757.94 268.84 L758.26 268.94 L758.59 268.74 L758.92 269.07 L759.24 268.92 L759.57 268.92 L759.89 268.87 L760.22 268.98 L760.54 268.9 L760.87 268.88 L761.19 268.83 L761.52 269.01 L761.84 268.94 L762.17 268.94 L762.49 268.84 L762.82 268.78 L763.14 268.8 L763.47 268.94 L763.79 268.89 L764.12 268.91 L764.44 268.9 L764.77 268.94 L765.09 268.89 L765.42 268.91 L765.74 268.86 L766.07 268.91 L766.39 268.75 L766.72 269 L767.04 268.93 L767.37 268.93 L767.69 268.89 L768.02 268.84 L768.34 268.9 L768.67 268.72 L768.99 268.88 L769.32 268.81 L769.64 268.9 L769.97 268.94 L770.29 268.75 L770.62 268.95 L770.94 268.99 L771.27 268.94 L771.59 268.89 L771.92 268.81 L772.24 268.91 L772.57 268.91 L772.89 268.88 L773.22 268.85 L773.54 268.95 L773.87 268.88 L774.2 268.93 L774.52 268.87 L774.85 268.87 L775.17 268.83 L775.5 268.79 L775.82 268.93 L776.15 268.95 L776.47 268.89 L776.8 268.89 L777.12 268.89 L777.45 268.84 L777.77 268.88 L778.1 268.84 L778.42 268.89 L778.75 268.9 L779.07 268.94 L779.4 268.85 L779.72 268.89 L780.05 268.82 L780.37 268.85 L780.7 268.92 L781.02 268.88 L781.35 268.9 L781.67 268.9 L782 268.97 L782.32 268.88 L782.65 268.89 L782.97 268.96 L783.3 268.87 L783.62 268.87 L783.95 268.96 L784.27 268.96 L784.6 268.87 L784.92 268.84 L785.25 268.87 L785.57 268.99 L785.9 268.94 L786.22 268.84 L786.55 268.92 L786.87 268.77 L787.2 268.73 L787.52 268.8 L787.85 268.68 L788.17 268.6 L788.5 268.58 L788.82 268.62 L789.15 268.63 L789.47 268.66 L789.8 268.62 L790.13 268.73 L790.45 268.74 L790.78 268.83 L791.1 268.83 L791.43 268.82 L791.75 268.89 L792.08 268.93 L792.4 268.86 L792.73 268.91 L793.05 268.92 L793.38 268.93 L793.7 268.97 L794.03 268.88 L794.35 268.94 L794.68 268.94 L795 268.91 L795.33 268.96 L795.65 268.86 L795.98 268.83 L796.3 268.95 L796.63 268.91 L796.95 268.9 L797.28 268.9 L797.6 268.87 L797.93 268.85 L798.25 268.9 L798.58 268.8 L798.9 268.93 L799.23 268.82 L799.55 268.63 L799.88 268.6 L800.2 268.42 L800.53 268.23 L800.85 268.1 L801.18 268.21 L801.5 268.22 L801.83 268.31 L802.15 268.43 L802.48 268.51 L802.8 268.76 L803.13 268.72 L803.45 268.8 L803.78 268.75 L804.1 268.95 L804.43 268.83 L804.75 268.9 L805.08 268.92 L805.41 268.83 L805.73 268.83 L806.06 268.97 L806.38 268.84 L806.71 268.91 L807.03 268.91 L807.36 268.92 L807.68 268.9 L808.01 268.93 L808.33 268.89 L808.66 269.04 L808.98 268.84 L809.31 268.88 L809.63 268.93 L809.96 268.87 L810.28 268.91 L810.61 268.86 L810.93 268.83 L811.26 268.87 L811.58 269.08 L811.91 268.82 L812.23 268.89 L812.56 268.86 L812.88 268.94 L813.21 268.91 L813.53 268.91 L813.86 268.87 L814.18 268.86 L814.51 268.88 L814.83 268.88 L815.16 268.85 L815.48 268.83 L815.81 268.86 L816.13 268.92 L816.46 268.85 L816.78 268.94 L817.11 268.89 L817.43 268.81 L817.76 268.99 L818.08 268.97 L818.41 269.03 L818.73 268.79 L819.06 268.89 L819.38 268.88 L819.71 268.89 L820.03 268.91 L820.36 268.95 L820.68 268.89 L821.01 268.96 L821.34 268.87 L821.66 268.81 L821.99 268.77 L822.31 268.96 L822.64 268.93 L822.96 268.96 L823.29 269 L823.61 268.97 L823.94 268.91 L824.26 268.85 L824.59 268.83 L824.91 268.96 L825.24 268.87 L825.56 268.92 L825.89 268.89 L826.21 268.84 L826.54 268.85 L826.86 268.85 L827.19 268.89 L827.51 268.89 L827.84 268.89 L828.16 268.87 L828.49 268.91 L828.81 268.88 L829.14 268.89 L829.46 268.82 L829.79 268.96 L830.11 268.93 L830.44 268.9 L830.76 268.91 L831.09 269.03 L831.41 268.84 L831.74 268.82 L832.06 269 L832.39 268.98 L832.71 268.83 L833.04 268.99 L833.36 268.9 L833.69 268.91 L834.01 268.93 L834.34 268.88 L834.66 268.97 L834.99 269 L835.31 268.94 L835.64 268.91 L835.96 268.89 L836.29 268.86 L836.62 268.82 L836.94 268.87 L837.27 268.91 L837.59 268.88 L837.92 268.97 L838.24 268.95 L838.57 268.95 L838.89 268.99 L839.22 268.86 L839.54 268.96 L839.87 268.99 L840.19 268.96 L840.52 268.82 L840.84 268.83 L841.17 268.89 L841.49 268.86 L841.82 269.01 L842.14 268.96 L842.47 268.89 L842.79 268.96 L843.12 268.99 L843.44 268.95 L843.77 268.86 L844.09 268.82 L844.42 268.96 L844.74 268.82 L845.07 268.98 L845.39 268.9 L845.72 268.9 L846.04 268.92 L846.37 268.8 L846.69 268.85 L847.02 268.9 L847.34 268.84 L847.67 268.94 L847.99 268.87 L848.32 268.81 L848.64 268.86 L848.97 268.77 L849.29 268.93 L849.62 268.92 L849.94 268.83 L850.27 268.76 L850.59 268.71 L850.92 268.5 L851.24 268.48 L851.57 268.49 L851.89 268.44 L852.22 268.4 L852.55 268.56 L852.87 268.56 L853.2 268.73 L853.52 268.75 L853.85 268.79 L854.17 268.93 L854.5 268.89 L854.82 268.9 L855.15 268.88 L855.47 268.85 L855.8 268.9 L856.12 268.98 L856.45 268.92 L856.77 268.95 L857.1 268.91 L857.42 268.84 L857.75 268.85 L858.07 268.83 L858.4 268.95 L858.72 269 L859.05 268.96 L859.37 268.9 L859.7 268.94 L860.02 268.97 L860.35 268.91 L860.67 268.83 L861 268.92 L861.32 268.88 L861.65 268.78 L861.97 268.93 L862.3 268.85 L862.62 268.99 L862.95 268.95 L863.27 268.91 L863.6 268.84 L863.92 268.89 L864.25 268.93 L864.57 268.86 L864.9 268.81 L865.22 268.81 L865.55 268.95 L865.87 268.86 L866.2 268.93 L866.52 268.86 L866.85 268.84 L867.17 268.97 L867.5 268.77" fill="none" stroke="#000000" stroke-width="1.2" stroke-linejoin="round" stroke-linecap="round" />
<text x="793" y="259.7" font-size="11" text-anchor="start" fill="#2e2e2e" font-family="Liberation Sans, sans-serif" >0.01-MAPbBr<tspan font-size="7.48" dy="3.96" dx="0.66">3</tspan></text>
<text x="510.7" y="30.5" font-size="11" text-anchor="middle" fill="#2e2e2e" font-family="Liberation Sans, sans-serif" >(001)</text>
<text x="590.8" y="50.5" font-size="11" text-anchor="middle" fill="#2e2e2e" font-family="Liberation Sans, sans-serif" >(111)</text>
<text x="622.2" y="41.5" font-size="11" text-anchor="middle" fill="#2e2e2e" font-family="Liberation Sans, sans-serif" >(002)</text>
<text x="692" y="37" font-size="10.8" text-anchor="start" fill="#2e2e2e" font-family="Liberation Sans, sans-serif" >#<tspan dx="2.3">δ</tspan>-FAPbI<tspan font-size="7.5" dy="3.5" dx="0.6">3</tspan><tspan dy="-3.5" dx="6.2">* PbI</tspan><tspan font-size="7.5" dy="3.5" dx="0.5">2</tspan></text>
<text x="487" y="263.7" font-size="10.5" text-anchor="start" fill="#2e2e2e" font-family="Liberation Sans, sans-serif" >#</text>
<text x="498.7" y="265" font-size="9" text-anchor="middle" fill="#2e2e2e" font-family="Liberation Sans, sans-serif" >*</text>
<text x="606.9" y="265" font-size="9" text-anchor="middle" fill="#2e2e2e" font-family="Liberation Sans, sans-serif" >*</text>
<line x1="252.1" y1="375.3" x2="252.1" y2="672.4" stroke="#888" stroke-width="1.4"/>
<line x1="252.1" y1="672.4" x2="657.2" y2="672.4" stroke="#444" stroke-width="1.1"/>
<line x1="252.1" y1="375" x2="657.2" y2="375" stroke="#8a8a8a" stroke-width="1.6"/>
<line x1="657.2" y1="375" x2="657.2" y2="672.4" stroke="#777" stroke-width="1.5"/>
<text x="252.1" y="688.2" font-size="11.6" text-anchor="middle" fill="#2e2e2e" font-family="Liberation Sans, sans-serif" >450</text>
<line x1="277.42" y1="672.4" x2="277.42" y2="669.4" stroke="#333" stroke-width="1"/>
<line x1="302.74" y1="672.4" x2="302.74" y2="666.4" stroke="#333" stroke-width="1"/>
<text x="302.74" y="688.2" font-size="11.6" text-anchor="middle" fill="#2e2e2e" font-family="Liberation Sans, sans-serif" >500</text>
<line x1="328.06" y1="672.4" x2="328.06" y2="669.4" stroke="#333" stroke-width="1"/>
<line x1="353.38" y1="672.4" x2="353.38" y2="666.4" stroke="#333" stroke-width="1"/>
<text x="353.38" y="688.2" font-size="11.6" text-anchor="middle" fill="#2e2e2e" font-family="Liberation Sans, sans-serif" >550</text>
<line x1="378.69" y1="672.4" x2="378.69" y2="669.4" stroke="#333" stroke-width="1"/>
<line x1="404.01" y1="672.4" x2="404.01" y2="666.4" stroke="#333" stroke-width="1"/>
<text x="404.01" y="688.2" font-size="11.6" text-anchor="middle" fill="#2e2e2e" font-family="Liberation Sans, sans-serif" >600</text>
<line x1="429.33" y1="672.4" x2="429.33" y2="669.4" stroke="#333" stroke-width="1"/>
<line x1="454.65" y1="672.4" x2="454.65" y2="666.4" stroke="#333" stroke-width="1"/>
<text x="454.65" y="688.2" font-size="11.6" text-anchor="middle" fill="#2e2e2e" font-family="Liberation Sans, sans-serif" >650</text>
<line x1="479.97" y1="672.4" x2="479.97" y2="669.4" stroke="#333" stroke-width="1"/>
<line x1="505.29" y1="672.4" x2="505.29" y2="666.4" stroke="#333" stroke-width="1"/>
<text x="505.29" y="688.2" font-size="11.6" text-anchor="middle" fill="#2e2e2e" font-family="Liberation Sans, sans-serif" >700</text>
<line x1="530.61" y1="672.4" x2="530.61" y2="669.4" stroke="#333" stroke-width="1"/>
<line x1="555.92" y1="672.4" x2="555.92" y2="666.4" stroke="#333" stroke-width="1"/>
<text x="555.92" y="688.2" font-size="11.6" text-anchor="middle" fill="#2e2e2e" font-family="Liberation Sans, sans-serif" >750</text>
<line x1="581.24" y1="672.4" x2="581.24" y2="669.4" stroke="#333" stroke-width="1"/>
<line x1="606.56" y1="672.4" x2="606.56" y2="666.4" stroke="#333" stroke-width="1"/>
<text x="606.56" y="688.2" font-size="11.6" text-anchor="middle" fill="#2e2e2e" font-family="Liberation Sans, sans-serif" >800</text>
<line x1="631.88" y1="672.4" x2="631.88" y2="669.4" stroke="#333" stroke-width="1"/>
<text x="657.2" y="688.2" font-size="11.6" text-anchor="middle" fill="#2e2e2e" font-family="Liberation Sans, sans-serif" >850</text>
<text x="454.7" y="711.3" font-size="14.7" text-anchor="middle" fill="#2e2e2e" font-family="Liberation Sans, sans-serif" >wavelength (nm)</text>
<text transform="translate(224,527.7) rotate(-90)" font-size="14.7" text-anchor="middle" fill="#2e2e2e" font-family="Liberation Sans, sans-serif">Absorbance (a.u)</text>
<text x="439" y="734.7" font-size="16" text-anchor="middle" fill="#555" font-family="Liberation Serif, serif" letter-spacing="-0.4">(<tspan fill="#000" stroke="#000" stroke-width="0.35">c</tspan>)</text>
<path d="M252.4 430.3 L252.86 430.43 L253.51 430.6 L254.33 430.87 L255.3 431.3 L256.53 431.91 L257.98 432.66 L259.45 433.53 L260.7 434.5 L261.68 435.75 L262.51 437.22 L263.23 438.56 L263.9 439.4 L264.3 439.41 L264.48 438.86 L264.9 438.3 L266 438.3 L268.15 439.17 L271.01 440.56 L274.05 442.02 L276.7 443.1 L278.83 443.64 L280.72 443.89 L282.48 444.02 L284.2 444.2 L285.88 444.41 L287.46 444.57 L289.02 444.8 L290.6 445.2 L292.3 445.84 L294.07 446.65 L295.73 447.53 L297.1 448.4 L298.15 449.32 L298.96 450.3 L299.56 451.18 L300 451.8 L300.4 451.44 L301.37 452.51 L302.32 453.6 L303.25 454.7 L304.16 455.82 L305.05 456.95 L305.93 458.09 L306.8 459.24 L307.65 460.41 L308.48 461.58 L309.3 462.77 L310.11 463.97 L310.91 465.18 L311.69 466.39 L312.46 467.62 L313.23 468.85 L313.98 470.09 L314.73 471.34 L315.47 472.59 L316.2 473.85 L316.93 475.12 L317.65 476.39 L318.36 477.66 L319.07 478.94 L319.78 480.22 L320.48 481.5 L321.18 482.79 L321.89 484.08 L322.59 485.37 L323.29 486.65 L323.99 487.94 L324.69 489.23 L325.39 490.52 L326.1 491.8 L326.81 493.09 L327.53 494.37 L328.25 495.65 L328.97 496.92 L329.7 498.19 L330.43 499.46 L331.17 500.73 L331.91 501.99 L332.66 503.25 L333.41 504.51 L334.17 505.76 L334.93 507.01 L335.7 508.26 L336.47 509.5 L337.24 510.74 L338.03 511.98 L338.81 513.21 L339.61 514.44 L340.4 515.66 L341.21 516.88 L342.02 518.09 L342.83 519.31 L343.65 520.51 L344.48 521.71 L345.31 522.91 L346.15 524.11 L346.99 525.29 L347.84 526.48 L348.7 527.66 L349.56 528.83 L350.43 530 L351.31 531.17 L352.19 532.33 L353.07 533.48 L353.97 534.63 L354.87 535.77 L355.78 536.91 L356.69 538.04 L357.62 539.17 L358.54 540.29 L359.48 541.4 L360.42 542.51 L361.37 543.62 L362.33 544.71 L363.29 545.81 L364.26 546.89 L365.24 547.97 L366.23 549.05 L367.22 550.11 L368.22 551.17 L369.22 552.23 L370.23 553.28 L371.25 554.32 L372.27 555.36 L373.3 556.39 L374.34 557.42 L375.38 558.44 L376.43 559.45 L377.49 560.46 L378.55 561.46 L379.62 562.45 L380.69 563.44 L381.77 564.42 L382.86 565.4 L383.95 566.37 L385.05 567.33 L386.15 568.29 L387.26 569.24 L388.38 570.18 L389.5 571.12 L390.62 572.05 L391.75 572.98 L392.89 573.9 L394.03 574.81 L395.18 575.72 L396.33 576.62 L397.49 577.51 L398.65 578.4 L399.82 579.28 L401 580.16 L402.17 581.02 L403.36 581.88 L404.55 582.74 L405.74 583.59 L406.94 584.43 L408.14 585.27 L409.35 586.09 L410.56 586.92 L411.77 587.73 L412.99 588.54 L414.22 589.34 L415.45 590.14 L416.68 590.93 L417.92 591.71 L419.17 592.48 L420.42 593.24 L421.67 593.99 L422.93 594.74 L424.2 595.47 L425.47 596.19 L426.74 596.89 L428.03 597.59 L429.32 598.27 L430.61 598.93 L431.92 599.58 L433.23 600.22 L434.54 600.84 L435.86 601.44 L437.2 602.03 L438.53 602.6 L439.88 603.15 L441.23 603.68 L442.59 604.2 L443.96 604.69 L445.34 605.17 L446.72 605.63 L448.1 606.08 L449.5 606.52 L450.9 606.94 L452.3 607.35 L453.7 607.74 L455.12 608.13 L456.53 608.51 L457.95 608.88 L459.37 609.24 L460.79 609.59 L462.22 609.94 L463.64 610.29 L465.07 610.63 L466.5 610.96 L467.93 611.3 L469.36 611.63 L470.78 611.97 L472.21 612.3 L473.64 612.64 L475.06 612.97 L476.49 613.32 L477.91 613.66 L479.32 614.01 L480.74 614.36 L482.16 614.71 L483.57 615.06 L484.98 615.41 L486.4 615.77 L487.81 616.12 L489.22 616.47 L490.64 616.81 L492.05 617.16 L493.46 617.49 L494.88 617.83 L496.29 618.16 L497.71 618.49 L499.13 618.8 L500.55 619.11 L501.97 619.42 L503.4 619.71 L504.82 620 L506.26 620.28 L507.69 620.54 L509.13 620.8 L510.57 621.04 L512.01 621.28 L513.45 621.51 L514.9 621.73 L516.35 621.94 L517.8 622.15 L519.26 622.34 L520.72 622.54 L522.17 622.72 L523.63 622.9 L525.09 623.08 L526.56 623.25 L528.02 623.42 L529.48 623.59 L530.95 623.75 L532.41 623.92 L533.88 624.08 L535.34 624.24 L536.81 624.4 L538.27 624.56 L539.74 624.72 L541.2 624.89 L542.67 625.05 L544.13 625.22 L545.59 625.39 L547.05 625.57 L548.51 625.74 L549.97 625.93 L551.42 626.12 L552.88 626.31 L554.33 626.51 L555.78 626.72 L557.22 626.94 L558.67 627.16 L560.11 627.39 L561.55 627.64 L562.98 627.89 L564.41 628.15 L565.84 628.42 L567.27 628.7 L568.69 629 L570.11 629.31 L571.52 629.63 L572.93 629.96 L574.33 630.31 L575.73 630.67 L577.13 631.05 L578.52 631.44 L579.9 631.85 L581.28 632.28 L582.65 632.72 L584.02 633.18 L585.38 633.66 L586.74 634.16 L588.08 634.68 L589.42 635.23 L590.75 635.8 L592.06 636.4 L593.37 637.03 L594.66 637.68 L595.93 638.37 L597.2 639.1 L598.44 639.85 L599.67 640.65 L600.89 641.47 L602.09 642.32 L603.28 643.18 L604.48 644.05 L605.66 644.93 L606.85 645.81 L608.04 646.67 L609.24 647.53 L610.44 648.36 L611.66 649.16 L612.88 649.93 L614.13 650.66 L615.39 651.35 L616.66 651.99 L617.96 652.6 L619.27 653.15 L620.59 653.66 L621.94 654.12 L623.3 654.53 L624.68 654.88 L626.08 655.18 L627.5 655.42 L628.93 655.61 L630.38 655.76 L631.84 655.86 L633.31 655.93 L634.79 655.96 L636.28 655.96 L637.77 655.94 L639.27 655.9 L640.78 655.84 L642.28 655.77 L643.79 655.69 L645.29 655.6 L646.79 655.52 L648.28 655.44 L649.76 655.37 L651.24 655.31 L652.71 655.27 L654.16 655.25 L655.6 655.26 L657.03 655.29" fill="none" stroke="#000000" stroke-width="1.4" stroke-linejoin="round" stroke-linecap="round" />
<path d="M252.4 419.6 L253.04 419.85 L253.93 420.18 L255.06 420.75 L256.4 421.7 L257.9 423.07 L259.6 424.78 L261.57 426.83 L263.9 429.2 L266.85 432.29 L270.3 435.97 L273.75 439.46 L276.7 442 L279 443.17 L280.91 443.46 L282.6 443.42 L284.2 443.6 L285.67 444.05 L286.97 444.5 L288.23 445.05 L289.6 445.8 L291.19 446.83 L292.89 448.06 L294.55 449.37 L296 450.6 L297.26 451.83 L298.4 453.1 L299.34 454.22 L300 455 L300.26 454.85 L301.03 456.07 L301.8 457.3 L302.56 458.54 L303.32 459.77 L304.07 461.01 L304.83 462.25 L305.58 463.5 L306.32 464.75 L307.06 465.99 L307.8 467.25 L308.54 468.5 L309.28 469.76 L310.01 471.02 L310.74 472.28 L311.47 473.54 L312.2 474.8 L312.93 476.07 L313.65 477.33 L314.37 478.6 L315.1 479.87 L315.82 481.14 L316.54 482.41 L317.26 483.68 L317.98 484.95 L318.7 486.22 L319.42 487.49 L320.14 488.77 L320.86 490.04 L321.58 491.31 L322.3 492.58 L323.02 493.86 L323.74 495.13 L324.47 496.4 L325.19 497.67 L325.92 498.94 L326.64 500.21 L327.37 501.48 L328.1 502.74 L328.84 504.01 L329.57 505.28 L330.31 506.54 L331.05 507.8 L331.79 509.06 L332.54 510.32 L333.28 511.57 L334.04 512.83 L334.79 514.08 L335.55 515.33 L336.31 516.58 L337.07 517.82 L337.84 519.06 L338.62 520.3 L339.39 521.54 L340.18 522.77 L340.96 524 L341.75 525.22 L342.55 526.45 L343.35 527.67 L344.16 528.88 L344.97 530.09 L345.79 531.3 L346.61 532.5 L347.44 533.7 L348.28 534.89 L349.12 536.08 L349.97 537.26 L350.83 538.44 L351.7 539.6 L352.58 540.76 L353.47 541.91 L354.36 543.06 L355.27 544.19 L356.18 545.32 L357.11 546.44 L358.05 547.55 L359 548.65 L359.96 549.73 L360.93 550.81 L361.91 551.88 L362.91 552.93 L363.92 553.98 L364.95 555.01 L365.98 556.03 L367.04 557.03 L368.1 558.03 L369.18 559.01 L370.28 559.97 L371.39 560.93 L372.51 561.87 L373.63 562.81 L374.77 563.74 L375.91 564.66 L377.06 565.58 L378.21 566.5 L379.36 567.41 L380.51 568.33 L381.66 569.24 L382.81 570.16 L383.95 571.08 L385.08 572.01 L386.21 572.94 L387.32 573.89 L388.43 574.84 L389.53 575.8 L390.62 576.76 L391.7 577.73 L392.78 578.69 L393.87 579.65 L394.95 580.61 L396.04 581.55 L397.14 582.49 L398.25 583.41 L399.36 584.32 L400.49 585.2 L401.64 586.07 L402.8 586.91 L403.98 587.74 L405.17 588.55 L406.37 589.33 L407.59 590.1 L408.83 590.85 L410.07 591.59 L411.33 592.31 L412.6 593.02 L413.88 593.71 L415.17 594.39 L416.47 595.06 L417.78 595.72 L419.1 596.37 L420.42 597 L421.75 597.63 L423.09 598.24 L424.43 598.85 L425.77 599.45 L427.12 600.04 L428.47 600.63 L429.82 601.21 L431.17 601.78 L432.53 602.35 L433.88 602.91 L435.24 603.46 L436.6 604.01 L437.96 604.55 L439.33 605.08 L440.69 605.61 L442.06 606.13 L443.43 606.64 L444.8 607.15 L446.17 607.65 L447.55 608.14 L448.92 608.63 L450.3 609.11 L451.68 609.58 L453.06 610.05 L454.45 610.51 L455.83 610.97 L457.22 611.42 L458.61 611.86 L460 612.3 L461.39 612.73 L462.78 613.15 L464.18 613.57 L465.58 613.98 L466.97 614.38 L468.38 614.78 L469.78 615.17 L471.18 615.56 L472.59 615.94 L474 616.31 L475.4 616.68 L476.82 617.04 L478.23 617.4 L479.64 617.75 L481.06 618.09 L482.48 618.43 L483.9 618.76 L485.32 619.08 L486.74 619.4 L488.16 619.71 L489.59 620.02 L491.02 620.32 L492.45 620.61 L493.88 620.9 L495.31 621.19 L496.74 621.46 L498.18 621.74 L499.62 622 L501.05 622.26 L502.49 622.51 L503.94 622.76 L505.38 623 L506.83 623.24 L508.27 623.47 L509.72 623.69 L511.17 623.91 L512.62 624.13 L514.07 624.33 L515.53 624.54 L516.98 624.73 L518.44 624.92 L519.9 625.11 L521.36 625.29 L522.82 625.46 L524.29 625.63 L525.75 625.79 L527.22 625.95 L528.69 626.1 L530.15 626.25 L531.62 626.39 L533.09 626.54 L534.56 626.68 L536.03 626.82 L537.5 626.96 L538.97 627.1 L540.44 627.25 L541.91 627.39 L543.37 627.54 L544.84 627.69 L546.3 627.85 L547.76 628.01 L549.22 628.17 L550.68 628.34 L552.13 628.52 L553.58 628.71 L555.03 628.91 L556.47 629.11 L557.91 629.33 L559.35 629.56 L560.78 629.79 L562.21 630.04 L563.64 630.31 L565.06 630.58 L566.47 630.87 L567.88 631.18 L569.28 631.5 L570.68 631.84 L572.07 632.2 L573.46 632.57 L574.84 632.97 L576.21 633.38 L577.58 633.81 L578.94 634.26 L580.29 634.74 L581.63 635.24 L582.97 635.76 L584.3 636.3 L585.62 636.87 L586.93 637.47 L588.23 638.09 L589.53 638.74 L590.81 639.41 L592.09 640.11 L593.35 640.84 L594.61 641.6 L595.86 642.37 L597.11 643.15 L598.36 643.94 L599.6 644.74 L600.84 645.54 L602.08 646.34 L603.33 647.13 L604.57 647.91 L605.83 648.68 L607.08 649.42 L608.35 650.15 L609.62 650.84 L610.91 651.5 L612.2 652.13 L613.51 652.71 L614.84 653.25 L616.17 653.74 L617.53 654.18 L618.9 654.56 L620.3 654.88 L621.71 655.15 L623.13 655.36 L624.57 655.53 L626.03 655.66 L627.49 655.74 L628.97 655.79 L630.45 655.81 L631.95 655.8 L633.44 655.77 L634.95 655.72 L636.45 655.65 L637.96 655.58 L639.46 655.49 L640.97 655.41 L642.47 655.32 L643.96 655.24 L645.45 655.17 L646.94 655.11 L648.41 655.07 L649.87 655.05 L651.32 655.05 L652.76 655.08 L654.19 655.15 L655.59 655.26 L656.98 655.4" fill="none" stroke="#ff0000" stroke-width="1.4" stroke-linejoin="round" stroke-linecap="round" />
<path d="M252.4 411 L253.04 411.9 L253.93 413.17 L255.06 414.71 L256.4 416.4 L258.08 418.45 L260.06 420.85 L262.09 423.15 L263.9 424.9 L265.37 425.79 L266.67 426.13 L267.93 426.4 L269.3 427.1 L270.88 428.55 L272.57 430.44 L274.22 432.25 L275.7 433.5 L276.9 433.95 L277.92 433.9 L278.9 433.65 L280 433.5 L281.28 433.45 L282.65 433.37 L284.02 433.35 L285.3 433.5 L286.4 433.78 L287.38 434.15 L288.4 434.72 L289.6 435.6 L291.11 436.92 L292.82 438.59 L294.52 440.36 L296 442 L297.26 443.57 L298.4 445.15 L299.34 446.53 L300 447.5 L301.25 448.41 L302.29 449.46 L303.22 450.57 L304.07 451.74 L304.84 452.97 L305.53 454.25 L306.16 455.56 L306.74 456.92 L307.28 458.3 L307.79 459.7 L308.28 461.12 L308.76 462.54 L309.24 463.97 L309.72 465.39 L310.23 466.81 L310.76 468.2 L311.33 469.57 L311.93 470.93 L312.57 472.26 L313.23 473.58 L313.92 474.88 L314.63 476.17 L315.36 477.44 L316.1 478.71 L316.87 479.96 L317.64 481.22 L318.42 482.46 L319.21 483.7 L320.01 484.95 L320.8 486.19 L321.59 487.43 L322.38 488.68 L323.17 489.93 L323.95 491.19 L324.72 492.45 L325.49 493.71 L326.26 494.98 L327.03 496.25 L327.8 497.52 L328.56 498.79 L329.32 500.06 L330.08 501.34 L330.85 502.61 L331.61 503.88 L332.37 505.16 L333.13 506.43 L333.9 507.7 L334.67 508.97 L335.44 510.24 L336.21 511.51 L336.99 512.78 L337.77 514.04 L338.55 515.3 L339.34 516.55 L340.13 517.8 L340.93 519.05 L341.74 520.29 L342.55 521.53 L343.37 522.76 L344.2 523.98 L345.03 525.2 L345.87 526.42 L346.72 527.62 L347.58 528.83 L348.44 530.02 L349.31 531.21 L350.19 532.4 L351.08 533.57 L351.97 534.75 L352.87 535.91 L353.78 537.07 L354.69 538.23 L355.61 539.37 L356.54 540.52 L357.48 541.65 L358.42 542.78 L359.37 543.91 L360.33 545.02 L361.29 546.14 L362.26 547.24 L363.24 548.34 L364.23 549.43 L365.22 550.52 L366.22 551.6 L367.22 552.68 L368.23 553.75 L369.25 554.81 L370.28 555.86 L371.31 556.91 L372.35 557.96 L373.4 558.99 L374.45 560.02 L375.51 561.05 L376.57 562.07 L377.65 563.08 L378.73 564.08 L379.81 565.08 L380.91 566.08 L382 567.06 L383.11 568.04 L384.22 569.02 L385.34 569.98 L386.47 570.94 L387.6 571.9 L388.74 572.85 L389.88 573.79 L391.03 574.72 L392.19 575.65 L393.35 576.57 L394.52 577.48 L395.7 578.39 L396.88 579.28 L398.07 580.17 L399.26 581.06 L400.46 581.93 L401.67 582.8 L402.88 583.65 L404.1 584.5 L405.32 585.34 L406.55 586.18 L407.78 587 L409.03 587.81 L410.27 588.62 L411.52 589.41 L412.78 590.2 L414.05 590.98 L415.32 591.74 L416.59 592.5 L417.87 593.25 L419.16 593.98 L420.45 594.71 L421.74 595.42 L423.04 596.13 L424.35 596.82 L425.66 597.51 L426.98 598.18 L428.3 598.84 L429.63 599.49 L430.96 600.13 L432.3 600.76 L433.64 601.37 L434.99 601.97 L436.34 602.56 L437.7 603.14 L439.06 603.71 L440.43 604.26 L441.8 604.8 L443.18 605.33 L444.56 605.85 L445.94 606.35 L447.33 606.84 L448.73 607.31 L450.13 607.77 L451.53 608.22 L452.94 608.66 L454.35 609.09 L455.76 609.5 L457.18 609.91 L458.6 610.3 L460.03 610.68 L461.46 611.06 L462.89 611.42 L464.32 611.78 L465.76 612.13 L467.19 612.47 L468.63 612.81 L470.08 613.14 L471.52 613.46 L472.97 613.77 L474.41 614.08 L475.86 614.39 L477.31 614.69 L478.76 614.99 L480.21 615.29 L481.66 615.58 L483.12 615.87 L484.57 616.15 L486.02 616.44 L487.47 616.72 L488.93 617.01 L490.38 617.29 L491.83 617.57 L493.28 617.86 L494.73 618.14 L496.18 618.43 L497.63 618.71 L499.08 618.99 L500.53 619.27 L501.98 619.55 L503.42 619.83 L504.87 620.1 L506.33 620.38 L507.78 620.64 L509.23 620.91 L510.68 621.17 L512.14 621.43 L513.59 621.68 L515.05 621.93 L516.51 622.17 L517.97 622.41 L519.44 622.64 L520.9 622.86 L522.37 623.08 L523.84 623.29 L525.31 623.49 L526.79 623.69 L528.27 623.88 L529.74 624.07 L531.22 624.25 L532.7 624.43 L534.18 624.61 L535.67 624.79 L537.15 624.96 L538.63 625.14 L540.11 625.32 L541.59 625.5 L543.07 625.68 L544.54 625.87 L546.02 626.06 L547.49 626.26 L548.96 626.46 L550.43 626.67 L551.9 626.89 L553.36 627.11 L554.82 627.34 L556.27 627.59 L557.72 627.84 L559.17 628.11 L560.61 628.39 L562.05 628.68 L563.48 628.99 L564.9 629.31 L566.32 629.65 L567.74 630 L569.14 630.37 L570.54 630.76 L571.94 631.16 L573.32 631.59 L574.7 632.04 L576.07 632.51 L577.44 633 L578.79 633.51 L580.13 634.05 L581.47 634.61 L582.8 635.2 L584.11 635.81 L585.42 636.45 L586.72 637.12 L588 637.81 L589.28 638.54 L590.54 639.29 L591.79 640.08 L593.03 640.89 L594.26 641.74 L595.49 642.6 L596.7 643.48 L597.92 644.37 L599.13 645.26 L600.34 646.15 L601.55 647.04 L602.76 647.92 L603.98 648.79 L605.21 649.63 L606.44 650.45 L607.69 651.24 L608.95 652 L610.22 652.71 L611.5 653.38 L612.81 654 L614.13 654.56 L615.47 655.06 L616.84 655.49 L618.23 655.86 L619.65 656.15 L621.1 656.36 L622.56 656.52 L624.04 656.61 L625.55 656.66 L627.06 656.66 L628.59 656.62 L630.13 656.54 L631.67 656.44 L633.22 656.33 L634.77 656.19 L636.32 656.06 L637.87 655.92 L639.41 655.78 L640.95 655.66 L642.47 655.56 L643.98 655.48 L645.48 655.44 L646.95 655.43 L648.42 655.46 L649.86 655.52 L651.3 655.61 L652.72 655.74 L654.12 655.89 L655.52 656.08 L656.91 656.29" fill="none" stroke="#008000" stroke-width="1.4" stroke-linejoin="round" stroke-linecap="round" />
<path d="M252.4 404.6 L252.71 404.08 L253.15 403.29 L253.69 402.63 L254.3 402.5 L254.93 403 L255.62 403.93 L256.44 405.19 L257.5 406.7 L258.85 408.69 L260.43 411.13 L262.15 413.5 L263.9 415.3 L265.75 416.26 L267.72 416.69 L269.65 416.95 L271.4 417.4 L272.97 418.26 L274.42 419.29 L275.69 420.18 L276.7 420.6 L277.33 420.25 L277.66 419.37 L277.91 418.46 L278.3 418 L278.87 418.32 L279.51 419.09 L280.22 419.84 L281 420.1 L281.88 419.51 L282.84 418.4 L283.83 417.34 L284.8 416.9 L285.77 417.4 L286.76 418.48 L287.69 419.7 L288.5 420.6 L289.03 420.78 L289.38 420.58 L289.8 420.66 L290.6 421.7 L292 424.21 L293.8 427.72 L295.63 431.43 L297.1 434.5 L298.15 436.84 L298.96 438.85 L299.56 440.46 L300 441.6 L300.3 441.43 L300.85 442.84 L301.4 444.24 L301.97 445.64 L302.54 447.03 L303.13 448.42 L303.72 449.8 L304.32 451.17 L304.93 452.54 L305.55 453.91 L306.17 455.27 L306.81 456.63 L307.45 457.98 L308.1 459.32 L308.75 460.67 L309.41 462.01 L310.08 463.34 L310.75 464.67 L311.43 466 L312.12 467.33 L312.81 468.65 L313.51 469.97 L314.21 471.29 L314.91 472.6 L315.62 473.91 L316.34 475.22 L317.06 476.53 L317.78 477.84 L318.51 479.14 L319.24 480.45 L319.97 481.75 L320.7 483.05 L321.44 484.35 L322.18 485.65 L322.92 486.95 L323.66 488.24 L324.41 489.54 L325.15 490.84 L325.9 492.14 L326.65 493.43 L327.4 494.73 L328.14 496.03 L328.89 497.33 L329.64 498.63 L330.4 499.93 L331.15 501.23 L331.91 502.52 L332.66 503.82 L333.42 505.11 L334.19 506.41 L334.95 507.7 L335.72 508.99 L336.49 510.28 L337.27 511.56 L338.04 512.85 L338.83 514.13 L339.61 515.4 L340.4 516.68 L341.2 517.95 L342 519.22 L342.8 520.48 L343.61 521.74 L344.43 523 L345.25 524.25 L346.07 525.5 L346.91 526.74 L347.75 527.98 L348.59 529.21 L349.44 530.44 L350.3 531.66 L351.17 532.88 L352.04 534.09 L352.93 535.29 L353.82 536.49 L354.71 537.68 L355.62 538.86 L356.53 540.04 L357.46 541.21 L358.39 542.37 L359.33 543.52 L360.28 544.67 L361.24 545.81 L362.21 546.94 L363.19 548.06 L364.18 549.18 L365.18 550.28 L366.19 551.38 L367.2 552.47 L368.23 553.56 L369.26 554.63 L370.3 555.7 L371.35 556.76 L372.41 557.81 L373.48 558.86 L374.55 559.9 L375.63 560.93 L376.72 561.95 L377.82 562.96 L378.92 563.97 L380.03 564.97 L381.15 565.96 L382.28 566.95 L383.41 567.93 L384.55 568.9 L385.7 569.86 L386.85 570.82 L388.01 571.77 L389.18 572.71 L390.35 573.64 L391.53 574.57 L392.71 575.49 L393.91 576.41 L395.1 577.31 L396.3 578.21 L397.51 579.11 L398.72 579.99 L399.94 580.87 L401.16 581.74 L402.39 582.61 L403.62 583.47 L404.86 584.32 L406.1 585.16 L407.35 586 L408.6 586.84 L409.85 587.66 L411.11 588.48 L412.38 589.29 L413.64 590.1 L414.91 590.9 L416.19 591.69 L417.47 592.47 L418.75 593.25 L420.04 594.02 L421.33 594.78 L422.62 595.53 L423.93 596.26 L425.23 596.99 L426.55 597.71 L427.86 598.41 L429.19 599.1 L430.52 599.78 L431.85 600.44 L433.2 601.09 L434.55 601.73 L435.9 602.35 L437.26 602.95 L438.63 603.54 L440.01 604.11 L441.4 604.66 L442.79 605.19 L444.19 605.71 L445.59 606.21 L447 606.69 L448.42 607.16 L449.85 607.61 L451.28 608.04 L452.71 608.46 L454.15 608.86 L455.6 609.25 L457.05 609.63 L458.5 609.99 L459.96 610.35 L461.42 610.69 L462.88 611.03 L464.35 611.36 L465.81 611.68 L467.28 612 L468.74 612.32 L470.21 612.64 L471.68 612.96 L473.14 613.28 L474.6 613.6 L476.06 613.93 L477.52 614.26 L478.98 614.6 L480.43 614.94 L481.89 615.28 L483.34 615.63 L484.79 615.98 L486.24 616.32 L487.69 616.67 L489.14 617.01 L490.59 617.35 L492.05 617.69 L493.5 618.02 L494.95 618.35 L496.41 618.67 L497.87 618.98 L499.33 619.28 L500.8 619.58 L502.27 619.86 L503.74 620.13 L505.21 620.39 L506.69 620.64 L508.18 620.87 L509.67 621.1 L511.16 621.3 L512.66 621.5 L514.16 621.69 L515.66 621.86 L517.17 622.03 L518.68 622.2 L520.18 622.35 L521.7 622.5 L523.21 622.65 L524.72 622.8 L526.23 622.94 L527.75 623.09 L529.26 623.23 L530.77 623.38 L532.28 623.52 L533.79 623.68 L535.29 623.83 L536.8 624 L538.3 624.17 L539.8 624.35 L541.29 624.53 L542.78 624.73 L544.27 624.94 L545.75 625.16 L547.23 625.4 L548.7 625.65 L550.17 625.91 L551.63 626.2 L553.08 626.5 L554.53 626.82 L555.97 627.16 L557.4 627.52 L558.82 627.9 L560.23 628.32 L561.63 628.75 L563.02 629.22 L564.4 629.72 L565.76 630.25 L567.11 630.82 L568.45 631.42 L569.77 632.06 L571.07 632.74 L572.36 633.46 L573.64 634.2 L574.9 634.98 L576.16 635.79 L577.4 636.61 L578.64 637.46 L579.86 638.33 L581.08 639.2 L582.3 640.09 L583.51 640.99 L584.72 641.89 L585.93 642.79 L587.14 643.69 L588.35 644.59 L589.57 645.47 L590.79 646.34 L592.01 647.2 L593.24 648.04 L594.48 648.86 L595.73 649.65 L596.98 650.42 L598.25 651.15 L599.53 651.85 L600.83 652.51 L602.14 653.14 L603.47 653.71 L604.81 654.24 L606.17 654.72 L607.56 655.15 L608.96 655.53 L610.38 655.87 L611.81 656.17 L613.26 656.42 L614.72 656.64 L616.19 656.82 L617.68 656.96 L619.17 657.08 L620.68 657.17 L622.19 657.23 L623.71 657.26 L625.24 657.28 L626.77 657.28 L628.31 657.25 L629.85 657.22 L631.39 657.17 L632.94 657.11 L634.48 657.05 L636.03 656.98 L637.57 656.91 L639.1 656.83 L640.64 656.76 L642.17 656.69 L643.69 656.63 L645.21 656.58 L646.72 656.54 L648.22 656.52 L649.7 656.51 L651.18 656.51 L652.65 656.54 L654.1 656.6 L655.54 656.67 L656.96 656.78" fill="none" stroke="#0000ff" stroke-width="1.4" stroke-linejoin="round" stroke-linecap="round" />
<path d="M252.4 417.4 L252.69 416.85 L253.08 416.02 L253.61 415.35 L254.3 415.3 L255.18 416.05 L256.24 417.35 L257.4 418.95 L258.6 420.6 L259.93 422.55 L261.39 424.81 L262.78 426.85 L263.9 428.1 L264.5 428 L264.74 426.99 L265.09 426 L266 426 L267.72 427.55 L269.96 430.05 L272.38 432.65 L274.6 434.5 L276.65 435.33 L278.69 435.61 L280.55 435.61 L282.1 435.6 L283.18 435.49 L283.9 435.19 L284.52 434.97 L285.3 435.1 L286.27 435.69 L287.32 436.58 L288.43 437.66 L289.6 438.8 L290.86 439.93 L292.2 441.12 L293.57 442.51 L294.9 444.2 L296.31 446.55 L297.78 449.39 L299.09 452.06 L300 453.9 L301.03 455.01 L301.85 456.23 L302.62 457.47 L303.36 458.73 L304.07 460 L304.74 461.3 L305.39 462.6 L306.02 463.92 L306.63 465.25 L307.23 466.59 L307.81 467.93 L308.4 469.27 L308.98 470.62 L309.56 471.97 L310.15 473.31 L310.74 474.65 L311.36 475.99 L311.98 477.31 L312.62 478.64 L313.28 479.95 L313.94 481.26 L314.62 482.57 L315.3 483.87 L316 485.17 L316.7 486.47 L317.41 487.76 L318.12 489.05 L318.84 490.34 L319.57 491.62 L320.29 492.9 L321.02 494.19 L321.75 495.47 L322.48 496.75 L323.21 498.04 L323.94 499.32 L324.68 500.6 L325.41 501.88 L326.15 503.15 L326.89 504.43 L327.63 505.71 L328.37 506.98 L329.12 508.25 L329.87 509.52 L330.62 510.79 L331.37 512.05 L332.13 513.31 L332.89 514.57 L333.66 515.83 L334.43 517.08 L335.2 518.33 L335.98 519.58 L336.76 520.82 L337.55 522.06 L338.34 523.3 L339.14 524.53 L339.94 525.76 L340.75 526.98 L341.56 528.2 L342.38 529.42 L343.21 530.63 L344.04 531.83 L344.88 533.03 L345.72 534.22 L346.58 535.41 L347.43 536.6 L348.3 537.77 L349.18 538.94 L350.06 540.11 L350.95 541.27 L351.85 542.42 L352.76 543.57 L353.67 544.7 L354.6 545.84 L355.53 546.96 L356.48 548.08 L357.43 549.19 L358.39 550.29 L359.36 551.39 L360.34 552.47 L361.34 553.55 L362.34 554.62 L363.35 555.69 L364.37 556.74 L365.4 557.79 L366.44 558.83 L367.49 559.86 L368.55 560.88 L369.62 561.9 L370.69 562.9 L371.78 563.9 L372.87 564.89 L373.97 565.88 L375.08 566.85 L376.19 567.82 L377.32 568.78 L378.45 569.73 L379.59 570.68 L380.74 571.61 L381.89 572.54 L383.05 573.46 L384.22 574.38 L385.39 575.28 L386.57 576.18 L387.75 577.07 L388.95 577.95 L390.14 578.83 L391.35 579.69 L392.56 580.55 L393.77 581.4 L394.99 582.25 L396.22 583.08 L397.45 583.91 L398.68 584.73 L399.92 585.54 L401.17 586.35 L402.42 587.14 L403.67 587.93 L404.93 588.71 L406.19 589.49 L407.45 590.25 L408.72 591.01 L409.99 591.77 L411.26 592.51 L412.54 593.25 L413.82 593.97 L415.11 594.69 L416.39 595.41 L417.68 596.11 L418.97 596.81 L420.27 597.5 L421.56 598.18 L422.87 598.86 L424.17 599.53 L425.48 600.18 L426.79 600.83 L428.1 601.48 L429.41 602.11 L430.73 602.74 L432.06 603.35 L433.38 603.96 L434.71 604.56 L436.05 605.15 L437.38 605.74 L438.72 606.31 L440.07 606.88 L441.41 607.44 L442.76 607.99 L444.12 608.52 L445.48 609.06 L446.84 609.58 L448.2 610.09 L449.57 610.59 L450.95 611.09 L452.33 611.57 L453.71 612.05 L455.09 612.52 L456.48 612.98 L457.88 613.42 L459.28 613.86 L460.68 614.29 L462.08 614.72 L463.49 615.13 L464.9 615.53 L466.32 615.93 L467.74 616.32 L469.16 616.69 L470.58 617.07 L472.01 617.43 L473.44 617.78 L474.88 618.13 L476.32 618.47 L477.75 618.8 L479.2 619.12 L480.64 619.44 L482.09 619.74 L483.54 620.04 L484.99 620.34 L486.44 620.62 L487.9 620.9 L489.36 621.17 L490.82 621.44 L492.28 621.7 L493.74 621.95 L495.21 622.19 L496.67 622.43 L498.14 622.66 L499.61 622.89 L501.08 623.11 L502.55 623.32 L504.03 623.53 L505.5 623.73 L506.98 623.93 L508.45 624.12 L509.93 624.3 L511.41 624.48 L512.88 624.65 L514.36 624.82 L515.84 624.98 L517.32 625.14 L518.8 625.29 L520.28 625.44 L521.76 625.58 L523.24 625.72 L524.72 625.85 L526.2 625.98 L527.68 626.1 L529.16 626.22 L530.63 626.35 L532.11 626.47 L533.58 626.6 L535.05 626.74 L536.52 626.88 L537.98 627.03 L539.44 627.2 L540.9 627.37 L542.35 627.56 L543.8 627.77 L545.24 627.99 L546.68 628.24 L548.1 628.51 L549.53 628.8 L550.94 629.11 L552.35 629.46 L553.75 629.83 L555.14 630.23 L556.52 630.67 L557.9 631.14 L559.25 631.64 L560.6 632.18 L561.93 632.76 L563.25 633.38 L564.54 634.03 L565.82 634.73 L567.08 635.47 L568.32 636.25 L569.55 637.07 L570.76 637.91 L571.96 638.78 L573.15 639.67 L574.34 640.56 L575.53 641.47 L576.71 642.37 L577.9 643.27 L579.1 644.15 L580.3 645.02 L581.52 645.86 L582.75 646.68 L583.99 647.48 L585.23 648.25 L586.5 649 L587.77 649.72 L589.05 650.41 L590.34 651.08 L591.65 651.71 L592.96 652.31 L594.29 652.88 L595.63 653.42 L596.98 653.93 L598.34 654.4 L599.71 654.84 L601.09 655.24 L602.49 655.61 L603.89 655.93 L605.31 656.22 L606.73 656.47 L608.17 656.68 L609.62 656.86 L611.07 657 L612.54 657.12 L614.01 657.2 L615.49 657.26 L616.97 657.3 L618.46 657.31 L619.96 657.31 L621.46 657.28 L622.96 657.24 L624.46 657.19 L625.97 657.13 L627.48 657.06 L628.99 656.98 L630.5 656.89 L632.01 656.81 L633.52 656.72 L635.02 656.63 L636.53 656.55 L638.03 656.48 L639.52 656.41 L641.01 656.35 L642.5 656.31 L643.98 656.28 L645.45 656.27 L646.92 656.27 L648.37 656.3 L649.82 656.35 L651.26 656.42 L652.69 656.53 L654.1 656.66 L655.51 656.82 L656.9 657.02" fill="none" stroke="#800000" stroke-width="1.4" stroke-linejoin="round" stroke-linecap="round" />
<path d="M252.4 399.3 L252.76 398.3 L253.29 396.82 L253.84 395.5 L254.3 395 L254.51 395.62 L254.58 396.98 L254.76 398.67 L255.3 400.3 L256.39 401.77 L257.86 403.29 L259.4 404.92 L260.7 406.7 L261.68 408.97 L262.51 411.6 L263.23 413.93 L263.9 415.3 L264.43 415.13 L264.81 413.91 L265.27 412.58 L266 412.1 L267.12 412.8 L268.5 414.14 L269.98 415.79 L271.4 417.4 L272.73 419.02 L274.05 420.78 L275.37 422.48 L276.7 423.9 L278.07 424.96 L279.46 425.77 L280.82 426.45 L282.1 427.1 L283.3 427.63 L284.46 428.02 L285.51 428.48 L286.4 429.2 L287.03 430.3 L287.45 431.64 L287.87 433.09 L288.5 434.5 L289.4 435.77 L290.45 437 L291.6 438.33 L292.8 439.9 L294.13 441.91 L295.6 444.23 L296.99 446.51 L298.1 448.4 L298.86 449.83 L299.38 450.98 L299.74 451.87 L300 452.5 L300.58 452.3 L301.08 453.69 L301.59 455.07 L302.09 456.46 L302.6 457.85 L303.12 459.23 L303.64 460.62 L304.16 462 L304.69 463.39 L305.22 464.77 L305.75 466.16 L306.29 467.54 L306.84 468.93 L307.39 470.31 L307.94 471.69 L308.5 473.07 L309.07 474.45 L309.64 475.83 L310.21 477.21 L310.79 478.58 L311.37 479.96 L311.96 481.33 L312.55 482.7 L313.15 484.07 L313.76 485.44 L314.37 486.8 L314.98 488.16 L315.6 489.52 L316.23 490.88 L316.86 492.23 L317.5 493.59 L318.14 494.94 L318.79 496.28 L319.44 497.63 L320.11 498.97 L320.77 500.31 L321.44 501.64 L322.12 502.97 L322.81 504.3 L323.5 505.62 L324.2 506.94 L324.9 508.26 L325.61 509.57 L326.33 510.88 L327.05 512.18 L327.79 513.48 L328.52 514.78 L329.27 516.07 L330.02 517.35 L330.77 518.64 L331.54 519.91 L332.31 521.18 L333.09 522.45 L333.88 523.71 L334.67 524.97 L335.47 526.22 L336.28 527.47 L337.09 528.71 L337.92 529.94 L338.75 531.17 L339.58 532.39 L340.43 533.61 L341.28 534.82 L342.15 536.03 L343.01 537.23 L343.89 538.42 L344.78 539.6 L345.67 540.78 L346.57 541.95 L347.48 543.12 L348.4 544.28 L349.32 545.43 L350.26 546.57 L351.2 547.71 L352.15 548.84 L353.11 549.96 L354.08 551.08 L355.06 552.18 L356.05 553.28 L357.04 554.38 L358.05 555.46 L359.06 556.53 L360.08 557.6 L361.11 558.66 L362.15 559.71 L363.2 560.75 L364.26 561.79 L365.33 562.81 L366.4 563.83 L367.48 564.84 L368.57 565.84 L369.67 566.83 L370.78 567.81 L371.9 568.79 L373.02 569.76 L374.15 570.72 L375.29 571.67 L376.44 572.61 L377.6 573.54 L378.76 574.47 L379.93 575.39 L381.1 576.3 L382.29 577.2 L383.48 578.09 L384.67 578.97 L385.88 579.85 L387.09 580.72 L388.31 581.58 L389.53 582.43 L390.76 583.27 L392 584.1 L393.24 584.93 L394.49 585.75 L395.74 586.56 L397.01 587.36 L398.27 588.15 L399.54 588.93 L400.82 589.71 L402.1 590.48 L403.39 591.24 L404.69 591.99 L405.99 592.73 L407.29 593.47 L408.6 594.19 L409.91 594.91 L411.23 595.62 L412.55 596.32 L413.88 597.01 L415.21 597.69 L416.55 598.37 L417.89 599.04 L419.24 599.7 L420.59 600.35 L421.94 600.99 L423.29 601.62 L424.65 602.25 L426.02 602.87 L427.39 603.48 L428.76 604.08 L430.13 604.67 L431.51 605.25 L432.89 605.83 L434.27 606.39 L435.66 606.95 L437.05 607.5 L438.44 608.04 L439.83 608.58 L441.23 609.1 L442.63 609.62 L444.03 610.13 L445.44 610.63 L446.84 611.12 L448.25 611.6 L449.66 612.08 L451.07 612.54 L452.48 613 L453.9 613.45 L455.31 613.89 L456.73 614.32 L458.15 614.75 L459.57 615.16 L460.99 615.57 L462.42 615.97 L463.84 616.37 L465.27 616.75 L466.7 617.13 L468.13 617.5 L469.56 617.86 L470.99 618.21 L472.43 618.56 L473.86 618.9 L475.3 619.23 L476.74 619.55 L478.18 619.87 L479.62 620.18 L481.07 620.49 L482.52 620.78 L483.96 621.07 L485.41 621.36 L486.86 621.63 L488.32 621.91 L489.77 622.17 L491.23 622.43 L492.69 622.68 L494.15 622.92 L495.61 623.16 L497.08 623.4 L498.54 623.62 L500.01 623.85 L501.48 624.06 L502.95 624.27 L504.43 624.48 L505.9 624.68 L507.38 624.87 L508.86 625.06 L510.34 625.24 L511.82 625.42 L513.31 625.59 L514.8 625.76 L516.28 625.92 L517.78 626.08 L519.27 626.24 L520.77 626.38 L522.26 626.53 L523.76 626.67 L525.27 626.8 L526.77 626.94 L528.27 627.07 L529.78 627.2 L531.28 627.33 L532.79 627.47 L534.29 627.62 L535.79 627.78 L537.28 627.96 L538.77 628.15 L540.25 628.36 L541.73 628.59 L543.2 628.84 L544.66 629.12 L546.11 629.42 L547.55 629.76 L548.98 630.13 L550.4 630.54 L551.79 630.99 L553.17 631.49 L554.53 632.04 L555.86 632.63 L557.17 633.29 L558.44 634.01 L559.68 634.79 L560.89 635.64 L562.07 636.55 L563.22 637.51 L564.35 638.52 L565.46 639.55 L566.56 640.61 L567.66 641.68 L568.76 642.74 L569.86 643.8 L570.97 644.84 L572.1 645.85 L573.25 646.81 L574.42 647.73 L575.62 648.6 L576.84 649.42 L578.09 650.2 L579.36 650.93 L580.65 651.61 L581.96 652.25 L583.29 652.85 L584.63 653.4 L585.99 653.92 L587.37 654.4 L588.76 654.84 L590.16 655.24 L591.58 655.61 L593.01 655.95 L594.44 656.25 L595.89 656.52 L597.34 656.76 L598.8 656.96 L600.27 657.15 L601.74 657.3 L603.21 657.43 L604.69 657.54 L606.17 657.62 L607.66 657.68 L609.15 657.72 L610.65 657.75 L612.15 657.76 L613.65 657.75 L615.15 657.73 L616.66 657.69 L618.16 657.65 L619.67 657.6 L621.18 657.53 L622.69 657.46 L624.2 657.39 L625.72 657.31 L627.23 657.23 L628.74 657.15 L630.25 657.07 L631.76 656.99 L633.26 656.92 L634.77 656.84 L636.27 656.78 L637.77 656.72 L639.27 656.67 L640.77 656.64 L642.26 656.61 L643.75 656.6 L645.23 656.6 L646.72 656.62 L648.19 656.66 L649.66 656.71 L651.13 656.79 L652.59 656.89 L654.04 657.01 L655.49 657.15 L656.93 657.33" fill="none" stroke="#ff00ff" stroke-width="1.4" stroke-linejoin="round" stroke-linecap="round" />
<line x1="512.2" y1="402.2" x2="545.8" y2="402.2" stroke="#000000" stroke-width="1.3"/>
<text x="550.1" y="407.2" font-size="14.6" text-anchor="start" fill="#2e2e2e" font-family="Liberation Sans, sans-serif" >0.01-MAPbBr<tspan font-size="9.93" dy="5.26" dx="0.88">3</tspan></text>
<line x1="512.2" y1="425.2" x2="545.8" y2="425.2" stroke="#ff0000" stroke-width="1.3"/>
<text x="550.1" y="430.2" font-size="14.6" text-anchor="start" fill="#2e2e2e" font-family="Liberation Sans, sans-serif" >0.03-MAPbBr<tspan font-size="9.93" dy="5.26" dx="0.88">3</tspan></text>
<line x1="512.2" y1="448.2" x2="545.8" y2="448.2" stroke="#008000" stroke-width="1.3"/>
<text x="550.1" y="453.2" font-size="14.6" text-anchor="start" fill="#2e2e2e" font-family="Liberation Sans, sans-serif" >0.05-MAPbBr<tspan font-size="9.93" dy="5.26" dx="0.88">3</tspan></text>
<line x1="512.2" y1="471.2" x2="545.8" y2="471.2" stroke="#0000ff" stroke-width="1.3"/>
<text x="550.1" y="476.2" font-size="14.6" text-anchor="start" fill="#2e2e2e" font-family="Liberation Sans, sans-serif" >0.07-MAPbBr<tspan font-size="9.93" dy="5.26" dx="0.88">3</tspan></text>
<line x1="512.2" y1="494.2" x2="545.8" y2="494.2" stroke="#800000" stroke-width="1.3"/>
<text x="550.1" y="499.2" font-size="14.6" text-anchor="start" fill="#2e2e2e" font-family="Liberation Sans, sans-serif" >0.10-MAPbBr<tspan font-size="9.93" dy="5.26" dx="0.88">3</tspan></text>
<line x1="512.2" y1="517.2" x2="545.8" y2="517.2" stroke="#ff00ff" stroke-width="1.3"/>
<text x="550.1" y="522.2" font-size="14.6" text-anchor="start" fill="#2e2e2e" font-family="Liberation Sans, sans-serif" >0.15-MAPbBr<tspan font-size="9.93" dy="5.26" dx="0.88">3</tspan></text>
</svg></body></html>
